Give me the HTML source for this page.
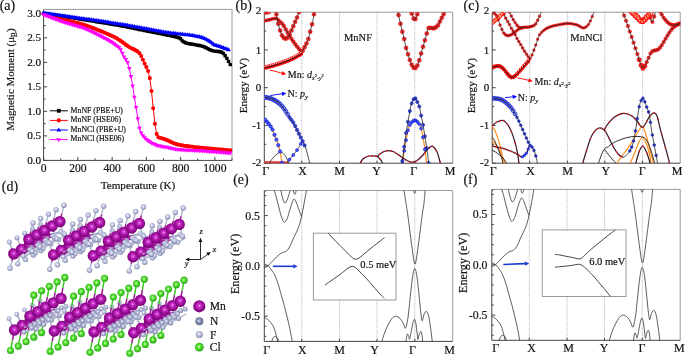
<!DOCTYPE html><html><head><meta charset="utf-8"><style>html,body{margin:0;padding:0;background:#fff;overflow:hidden}svg{display:block;will-change:transform}text{font-family:"Liberation Serif",serif;fill:#111;stroke:#111;stroke-width:0.18px}</style></head><body>
<svg width="685" height="360" viewBox="0 0 685 360">
<defs><radialGradient id="gMn" cx="0.5" cy="0.45" r="0.6"><stop offset="0" stop-color="#ffd2ff"/><stop offset="0.14" stop-color="#d644d4"/><stop offset="0.5" stop-color="#a612a4"/><stop offset="0.85" stop-color="#7a0678"/><stop offset="1" stop-color="#520050"/></radialGradient><radialGradient id="gF" cx="0.45" cy="0.42" r="0.62"><stop offset="0" stop-color="#ffffff"/><stop offset="0.25" stop-color="#d2d6ec"/><stop offset="0.75" stop-color="#9aa1c4"/><stop offset="1" stop-color="#6a7196"/></radialGradient><radialGradient id="gN" cx="0.45" cy="0.45" r="0.62"><stop offset="0" stop-color="#dfe2f0"/><stop offset="0.35" stop-color="#9096b8"/><stop offset="1" stop-color="#50567c"/></radialGradient><radialGradient id="gN2" cx="0.45" cy="0.42" r="0.62"><stop offset="0" stop-color="#ffffff"/><stop offset="0.25" stop-color="#c8cce4"/><stop offset="0.75" stop-color="#9097bc"/><stop offset="1" stop-color="#646b92"/></radialGradient><radialGradient id="gCl" cx="0.45" cy="0.45" r="0.62"><stop offset="0" stop-color="#eaffe0"/><stop offset="0.3" stop-color="#5fe83a"/><stop offset="1" stop-color="#1e9a0e"/></radialGradient></defs>
<rect width="685" height="360" fill="#fff"/>
<g fill="none" stroke-width="1">
<path d="M43.6,9.4H232.0V160.4" stroke="#9a9a9a"/>
<path d="M43.6,9.4V160.4H232.0" stroke="#444"/>
<path d="M43.6,160.4v-3.5M60.73,160.4v-2M77.85,160.4v-3.5M94.98,160.4v-2M112.11,160.4v-3.5M129.24,160.4v-2M146.36,160.4v-3.5M163.49,160.4v-2M180.62,160.4v-3.5M197.75,160.4v-2M214.87,160.4v-3.5M232,160.4v-2M43.6,160.4h3.5M43.6,148.14h2M43.6,135.88h3.5M43.6,123.63h2M43.6,111.37h3.5M43.6,99.11h2M43.6,86.86h3.5M43.6,74.6h2M43.6,62.34h3.5M43.6,50.08h2M43.6,37.83h3.5M43.6,25.57h2M43.6,13.31h3.5" stroke="#444"/>
</g>
<polyline points="43.6,13.4 45.31,13.6 47.03,13.87 48.74,14.13 50.45,14.39 52.16,14.66 53.88,14.92 55.59,15.18 57.3,15.45 59.01,15.71 60.73,15.98 62.44,16.24 64.15,16.51 65.87,16.77 67.58,17.04 69.29,17.31 71,17.58 72.72,17.84 74.43,18.11 76.14,18.38 77.85,18.66 79.57,18.93 81.28,19.21 82.99,19.48 84.71,19.76 86.42,20.03 88.13,20.31 89.84,20.58 91.56,20.86 93.27,21.14 94.98,21.41 96.69,21.69 98.41,21.97 100.12,22.25 101.83,22.53 103.55,22.81 105.26,23.09 106.97,23.38 108.68,23.66 110.4,23.95 112.11,24.24 113.82,24.53 115.53,24.82 117.25,25.12 118.96,25.42 120.67,25.72 122.39,26.03 124.1,26.35 125.81,26.67 127.52,27 129.24,27.34 130.95,27.68 132.66,28.04 134.37,28.39 136.09,28.75 137.8,29.11 139.51,29.47 141.23,29.82 142.94,30.17 144.65,30.51 146.36,30.85 148.08,31.19 149.79,31.52 151.5,31.86 153.21,32.19 154.93,32.53 156.64,32.87 158.35,33.21 160.07,33.55 161.78,33.89 163.49,34.23 165.2,34.58 166.92,34.94 168.63,35.3 170.34,35.65 172.05,36.01 173.77,36.37 175.48,36.75 177.19,37.2 178.91,37.76 180.62,38.73 182.33,40.86 184.04,42.06 185.76,42.91 187.47,43.41 189.18,43.7 190.89,44.02 192.61,44.32 194.32,44.6 196.03,44.88 197.75,45.18 199.46,45.51 201.17,45.91 202.88,46.39 204.6,47.05 206.31,47.87 208.02,48.77 209.73,49.64 211.45,50.38 213.16,50.87 214.87,51.14 216.59,51.3 218.3,51.45 220.01,51.71 221.72,52.32 223.44,53.57 225.15,55.76 226.86,58.37 228.57,61.38 230.29,64.65" fill="none" stroke="#000000" stroke-width="1"/>
<path d="M41.9,11.7h3.4v3.4h-3.4zM43.61,11.9h3.4v3.4h-3.4zM45.33,12.17h3.4v3.4h-3.4zM47.04,12.43h3.4v3.4h-3.4zM48.75,12.69h3.4v3.4h-3.4zM50.46,12.96h3.4v3.4h-3.4zM52.18,13.22h3.4v3.4h-3.4zM53.89,13.48h3.4v3.4h-3.4zM55.6,13.75h3.4v3.4h-3.4zM57.31,14.01h3.4v3.4h-3.4zM59.03,14.28h3.4v3.4h-3.4zM60.74,14.54h3.4v3.4h-3.4zM62.45,14.81h3.4v3.4h-3.4zM64.17,15.07h3.4v3.4h-3.4zM65.88,15.34h3.4v3.4h-3.4zM67.59,15.61h3.4v3.4h-3.4zM69.3,15.88h3.4v3.4h-3.4zM71.02,16.14h3.4v3.4h-3.4zM72.73,16.41h3.4v3.4h-3.4zM74.44,16.68h3.4v3.4h-3.4zM76.15,16.96h3.4v3.4h-3.4zM77.87,17.23h3.4v3.4h-3.4zM79.58,17.51h3.4v3.4h-3.4zM81.29,17.78h3.4v3.4h-3.4zM83.01,18.06h3.4v3.4h-3.4zM84.72,18.33h3.4v3.4h-3.4zM86.43,18.61h3.4v3.4h-3.4zM88.14,18.88h3.4v3.4h-3.4zM89.86,19.16h3.4v3.4h-3.4zM91.57,19.44h3.4v3.4h-3.4zM93.28,19.71h3.4v3.4h-3.4zM94.99,19.99h3.4v3.4h-3.4zM96.71,20.27h3.4v3.4h-3.4zM98.42,20.55h3.4v3.4h-3.4zM100.13,20.83h3.4v3.4h-3.4zM101.85,21.11h3.4v3.4h-3.4zM103.56,21.39h3.4v3.4h-3.4zM105.27,21.68h3.4v3.4h-3.4zM106.98,21.96h3.4v3.4h-3.4zM108.7,22.25h3.4v3.4h-3.4zM110.41,22.54h3.4v3.4h-3.4zM112.12,22.83h3.4v3.4h-3.4zM113.83,23.12h3.4v3.4h-3.4zM115.55,23.42h3.4v3.4h-3.4zM117.26,23.72h3.4v3.4h-3.4zM118.97,24.02h3.4v3.4h-3.4zM120.69,24.33h3.4v3.4h-3.4zM122.4,24.65h3.4v3.4h-3.4zM124.11,24.97h3.4v3.4h-3.4zM125.82,25.3h3.4v3.4h-3.4zM127.54,25.64h3.4v3.4h-3.4zM129.25,25.98h3.4v3.4h-3.4zM130.96,26.34h3.4v3.4h-3.4zM132.67,26.69h3.4v3.4h-3.4zM134.39,27.05h3.4v3.4h-3.4zM136.1,27.41h3.4v3.4h-3.4zM137.81,27.77h3.4v3.4h-3.4zM139.53,28.12h3.4v3.4h-3.4zM141.24,28.47h3.4v3.4h-3.4zM142.95,28.81h3.4v3.4h-3.4zM144.66,29.15h3.4v3.4h-3.4zM146.38,29.49h3.4v3.4h-3.4zM148.09,29.82h3.4v3.4h-3.4zM149.8,30.16h3.4v3.4h-3.4zM151.51,30.49h3.4v3.4h-3.4zM153.23,30.83h3.4v3.4h-3.4zM154.94,31.17h3.4v3.4h-3.4zM156.65,31.51h3.4v3.4h-3.4zM158.37,31.85h3.4v3.4h-3.4zM160.08,32.19h3.4v3.4h-3.4zM161.79,32.53h3.4v3.4h-3.4zM163.5,32.88h3.4v3.4h-3.4zM165.22,33.24h3.4v3.4h-3.4zM166.93,33.6h3.4v3.4h-3.4zM168.64,33.95h3.4v3.4h-3.4zM170.35,34.31h3.4v3.4h-3.4zM172.07,34.67h3.4v3.4h-3.4zM173.78,35.05h3.4v3.4h-3.4zM175.49,35.5h3.4v3.4h-3.4zM177.21,36.06h3.4v3.4h-3.4zM178.92,37.03h3.4v3.4h-3.4zM180.63,39.16h3.4v3.4h-3.4zM182.34,40.36h3.4v3.4h-3.4zM184.06,41.21h3.4v3.4h-3.4zM185.77,41.71h3.4v3.4h-3.4zM187.48,42h3.4v3.4h-3.4zM189.19,42.32h3.4v3.4h-3.4zM190.91,42.62h3.4v3.4h-3.4zM192.62,42.9h3.4v3.4h-3.4zM194.33,43.18h3.4v3.4h-3.4zM196.05,43.48h3.4v3.4h-3.4zM197.76,43.81h3.4v3.4h-3.4zM199.47,44.21h3.4v3.4h-3.4zM201.18,44.69h3.4v3.4h-3.4zM202.9,45.35h3.4v3.4h-3.4zM204.61,46.17h3.4v3.4h-3.4zM206.32,47.07h3.4v3.4h-3.4zM208.03,47.94h3.4v3.4h-3.4zM209.75,48.68h3.4v3.4h-3.4zM211.46,49.17h3.4v3.4h-3.4zM213.17,49.44h3.4v3.4h-3.4zM214.89,49.6h3.4v3.4h-3.4zM216.6,49.75h3.4v3.4h-3.4zM218.31,50.01h3.4v3.4h-3.4zM220.02,50.62h3.4v3.4h-3.4zM221.74,51.87h3.4v3.4h-3.4zM223.45,54.06h3.4v3.4h-3.4zM225.16,56.67h3.4v3.4h-3.4zM226.87,59.68h3.4v3.4h-3.4zM228.59,62.95h3.4v3.4h-3.4z" fill="#000000"/>
<polyline points="43.6,13.8 45.31,14.21 47.03,14.75 48.74,15.29 50.45,15.83 52.16,16.37 53.88,16.9 55.59,17.43 57.3,17.94 59.01,18.45 60.73,18.94 62.44,19.42 64.15,19.87 65.87,20.3 67.58,20.71 69.29,21.11 71,21.51 72.72,21.91 74.43,22.31 76.14,22.72 77.85,23.15 79.57,23.59 81.28,24.06 82.99,24.56 84.71,25.1 86.42,25.67 88.13,26.26 89.84,26.88 91.56,27.51 93.27,28.16 94.98,28.82 96.69,29.49 98.41,30.18 100.12,30.87 101.83,31.57 103.55,32.28 105.26,33 106.97,33.71 108.68,34.44 110.4,35.18 112.11,35.95 113.82,36.78 115.53,37.69 117.25,38.67 118.96,39.72 120.67,40.88 122.39,42.1 124.1,43.36 125.81,44.63 127.52,45.87 129.24,47.01 130.95,48 132.66,48.85 134.37,49.66 136.09,50.6 137.8,51.6 139.51,53.2 141.23,55.99 142.94,59.75 144.65,63.58 146.36,67.08 148.08,70.97 149.79,78.15 151.5,91.03 153.21,108.2 154.93,123.71 156.64,133.89 158.35,137.19 160.07,137.86 161.78,138.23 163.49,138.8 165.2,139.42 166.92,140.09 168.63,140.83 170.34,141.66 172.05,142.47 173.77,143.21 175.48,143.83 177.19,144.33 178.91,144.74 180.62,145.1 182.33,145.41 184.04,145.68 185.76,145.93 187.47,146.17 189.18,146.39 190.89,146.61 192.61,146.82 194.32,147.02 196.03,147.21 197.75,147.39 199.46,147.56 201.17,147.74 202.88,147.91 204.6,148.07 206.31,148.24 208.02,148.4 209.73,148.56 211.45,148.72 213.16,148.88 214.87,149.04 216.59,149.2 218.3,149.35 220.01,149.5 221.72,149.65 223.44,149.79 225.15,149.93 226.86,150.07 228.57,150.2 230.29,150.34" fill="none" stroke="#ff0000" stroke-width="1"/>
<path d="M41.55,13.8a2.05,2.05 0 1,0 4.1,0a2.05,2.05 0 1,0 -4.1,0zM43.26,14.21a2.05,2.05 0 1,0 4.1,0a2.05,2.05 0 1,0 -4.1,0zM44.98,14.75a2.05,2.05 0 1,0 4.1,0a2.05,2.05 0 1,0 -4.1,0zM46.69,15.29a2.05,2.05 0 1,0 4.1,0a2.05,2.05 0 1,0 -4.1,0zM48.4,15.83a2.05,2.05 0 1,0 4.1,0a2.05,2.05 0 1,0 -4.1,0zM50.11,16.37a2.05,2.05 0 1,0 4.1,0a2.05,2.05 0 1,0 -4.1,0zM51.83,16.9a2.05,2.05 0 1,0 4.1,0a2.05,2.05 0 1,0 -4.1,0zM53.54,17.43a2.05,2.05 0 1,0 4.1,0a2.05,2.05 0 1,0 -4.1,0zM55.25,17.94a2.05,2.05 0 1,0 4.1,0a2.05,2.05 0 1,0 -4.1,0zM56.96,18.45a2.05,2.05 0 1,0 4.1,0a2.05,2.05 0 1,0 -4.1,0zM58.68,18.94a2.05,2.05 0 1,0 4.1,0a2.05,2.05 0 1,0 -4.1,0zM60.39,19.42a2.05,2.05 0 1,0 4.1,0a2.05,2.05 0 1,0 -4.1,0zM62.1,19.87a2.05,2.05 0 1,0 4.1,0a2.05,2.05 0 1,0 -4.1,0zM63.82,20.3a2.05,2.05 0 1,0 4.1,0a2.05,2.05 0 1,0 -4.1,0zM65.53,20.71a2.05,2.05 0 1,0 4.1,0a2.05,2.05 0 1,0 -4.1,0zM67.24,21.11a2.05,2.05 0 1,0 4.1,0a2.05,2.05 0 1,0 -4.1,0zM68.95,21.51a2.05,2.05 0 1,0 4.1,0a2.05,2.05 0 1,0 -4.1,0zM70.67,21.91a2.05,2.05 0 1,0 4.1,0a2.05,2.05 0 1,0 -4.1,0zM72.38,22.31a2.05,2.05 0 1,0 4.1,0a2.05,2.05 0 1,0 -4.1,0zM74.09,22.72a2.05,2.05 0 1,0 4.1,0a2.05,2.05 0 1,0 -4.1,0zM75.8,23.15a2.05,2.05 0 1,0 4.1,0a2.05,2.05 0 1,0 -4.1,0zM77.52,23.59a2.05,2.05 0 1,0 4.1,0a2.05,2.05 0 1,0 -4.1,0zM79.23,24.06a2.05,2.05 0 1,0 4.1,0a2.05,2.05 0 1,0 -4.1,0zM80.94,24.56a2.05,2.05 0 1,0 4.1,0a2.05,2.05 0 1,0 -4.1,0zM82.66,25.1a2.05,2.05 0 1,0 4.1,0a2.05,2.05 0 1,0 -4.1,0zM84.37,25.67a2.05,2.05 0 1,0 4.1,0a2.05,2.05 0 1,0 -4.1,0zM86.08,26.26a2.05,2.05 0 1,0 4.1,0a2.05,2.05 0 1,0 -4.1,0zM87.79,26.88a2.05,2.05 0 1,0 4.1,0a2.05,2.05 0 1,0 -4.1,0zM89.51,27.51a2.05,2.05 0 1,0 4.1,0a2.05,2.05 0 1,0 -4.1,0zM91.22,28.16a2.05,2.05 0 1,0 4.1,0a2.05,2.05 0 1,0 -4.1,0zM92.93,28.82a2.05,2.05 0 1,0 4.1,0a2.05,2.05 0 1,0 -4.1,0zM94.64,29.49a2.05,2.05 0 1,0 4.1,0a2.05,2.05 0 1,0 -4.1,0zM96.36,30.18a2.05,2.05 0 1,0 4.1,0a2.05,2.05 0 1,0 -4.1,0zM98.07,30.87a2.05,2.05 0 1,0 4.1,0a2.05,2.05 0 1,0 -4.1,0zM99.78,31.57a2.05,2.05 0 1,0 4.1,0a2.05,2.05 0 1,0 -4.1,0zM101.5,32.28a2.05,2.05 0 1,0 4.1,0a2.05,2.05 0 1,0 -4.1,0zM103.21,33a2.05,2.05 0 1,0 4.1,0a2.05,2.05 0 1,0 -4.1,0zM104.92,33.71a2.05,2.05 0 1,0 4.1,0a2.05,2.05 0 1,0 -4.1,0zM106.63,34.44a2.05,2.05 0 1,0 4.1,0a2.05,2.05 0 1,0 -4.1,0zM108.35,35.18a2.05,2.05 0 1,0 4.1,0a2.05,2.05 0 1,0 -4.1,0zM110.06,35.95a2.05,2.05 0 1,0 4.1,0a2.05,2.05 0 1,0 -4.1,0zM111.77,36.78a2.05,2.05 0 1,0 4.1,0a2.05,2.05 0 1,0 -4.1,0zM113.48,37.69a2.05,2.05 0 1,0 4.1,0a2.05,2.05 0 1,0 -4.1,0zM115.2,38.67a2.05,2.05 0 1,0 4.1,0a2.05,2.05 0 1,0 -4.1,0zM116.91,39.72a2.05,2.05 0 1,0 4.1,0a2.05,2.05 0 1,0 -4.1,0zM118.62,40.88a2.05,2.05 0 1,0 4.1,0a2.05,2.05 0 1,0 -4.1,0zM120.34,42.1a2.05,2.05 0 1,0 4.1,0a2.05,2.05 0 1,0 -4.1,0zM122.05,43.36a2.05,2.05 0 1,0 4.1,0a2.05,2.05 0 1,0 -4.1,0zM123.76,44.63a2.05,2.05 0 1,0 4.1,0a2.05,2.05 0 1,0 -4.1,0zM125.47,45.87a2.05,2.05 0 1,0 4.1,0a2.05,2.05 0 1,0 -4.1,0zM127.19,47.01a2.05,2.05 0 1,0 4.1,0a2.05,2.05 0 1,0 -4.1,0zM128.9,48a2.05,2.05 0 1,0 4.1,0a2.05,2.05 0 1,0 -4.1,0zM130.61,48.85a2.05,2.05 0 1,0 4.1,0a2.05,2.05 0 1,0 -4.1,0zM132.32,49.66a2.05,2.05 0 1,0 4.1,0a2.05,2.05 0 1,0 -4.1,0zM134.04,50.6a2.05,2.05 0 1,0 4.1,0a2.05,2.05 0 1,0 -4.1,0zM135.75,51.6a2.05,2.05 0 1,0 4.1,0a2.05,2.05 0 1,0 -4.1,0zM137.46,53.2a2.05,2.05 0 1,0 4.1,0a2.05,2.05 0 1,0 -4.1,0zM139.18,55.99a2.05,2.05 0 1,0 4.1,0a2.05,2.05 0 1,0 -4.1,0zM140.89,59.75a2.05,2.05 0 1,0 4.1,0a2.05,2.05 0 1,0 -4.1,0zM142.6,63.58a2.05,2.05 0 1,0 4.1,0a2.05,2.05 0 1,0 -4.1,0zM144.31,67.08a2.05,2.05 0 1,0 4.1,0a2.05,2.05 0 1,0 -4.1,0zM146.03,70.97a2.05,2.05 0 1,0 4.1,0a2.05,2.05 0 1,0 -4.1,0zM147.74,78.15a2.05,2.05 0 1,0 4.1,0a2.05,2.05 0 1,0 -4.1,0zM149.45,91.03a2.05,2.05 0 1,0 4.1,0a2.05,2.05 0 1,0 -4.1,0zM151.16,108.2a2.05,2.05 0 1,0 4.1,0a2.05,2.05 0 1,0 -4.1,0zM152.88,123.71a2.05,2.05 0 1,0 4.1,0a2.05,2.05 0 1,0 -4.1,0zM154.59,133.89a2.05,2.05 0 1,0 4.1,0a2.05,2.05 0 1,0 -4.1,0zM156.3,137.19a2.05,2.05 0 1,0 4.1,0a2.05,2.05 0 1,0 -4.1,0zM158.02,137.86a2.05,2.05 0 1,0 4.1,0a2.05,2.05 0 1,0 -4.1,0zM159.73,138.23a2.05,2.05 0 1,0 4.1,0a2.05,2.05 0 1,0 -4.1,0zM161.44,138.8a2.05,2.05 0 1,0 4.1,0a2.05,2.05 0 1,0 -4.1,0zM163.15,139.42a2.05,2.05 0 1,0 4.1,0a2.05,2.05 0 1,0 -4.1,0zM164.87,140.09a2.05,2.05 0 1,0 4.1,0a2.05,2.05 0 1,0 -4.1,0zM166.58,140.83a2.05,2.05 0 1,0 4.1,0a2.05,2.05 0 1,0 -4.1,0zM168.29,141.66a2.05,2.05 0 1,0 4.1,0a2.05,2.05 0 1,0 -4.1,0zM170,142.47a2.05,2.05 0 1,0 4.1,0a2.05,2.05 0 1,0 -4.1,0zM171.72,143.21a2.05,2.05 0 1,0 4.1,0a2.05,2.05 0 1,0 -4.1,0zM173.43,143.83a2.05,2.05 0 1,0 4.1,0a2.05,2.05 0 1,0 -4.1,0zM175.14,144.33a2.05,2.05 0 1,0 4.1,0a2.05,2.05 0 1,0 -4.1,0zM176.86,144.74a2.05,2.05 0 1,0 4.1,0a2.05,2.05 0 1,0 -4.1,0zM178.57,145.1a2.05,2.05 0 1,0 4.1,0a2.05,2.05 0 1,0 -4.1,0zM180.28,145.41a2.05,2.05 0 1,0 4.1,0a2.05,2.05 0 1,0 -4.1,0zM181.99,145.68a2.05,2.05 0 1,0 4.1,0a2.05,2.05 0 1,0 -4.1,0zM183.71,145.93a2.05,2.05 0 1,0 4.1,0a2.05,2.05 0 1,0 -4.1,0zM185.42,146.17a2.05,2.05 0 1,0 4.1,0a2.05,2.05 0 1,0 -4.1,0zM187.13,146.39a2.05,2.05 0 1,0 4.1,0a2.05,2.05 0 1,0 -4.1,0zM188.84,146.61a2.05,2.05 0 1,0 4.1,0a2.05,2.05 0 1,0 -4.1,0zM190.56,146.82a2.05,2.05 0 1,0 4.1,0a2.05,2.05 0 1,0 -4.1,0zM192.27,147.02a2.05,2.05 0 1,0 4.1,0a2.05,2.05 0 1,0 -4.1,0zM193.98,147.21a2.05,2.05 0 1,0 4.1,0a2.05,2.05 0 1,0 -4.1,0zM195.7,147.39a2.05,2.05 0 1,0 4.1,0a2.05,2.05 0 1,0 -4.1,0zM197.41,147.56a2.05,2.05 0 1,0 4.1,0a2.05,2.05 0 1,0 -4.1,0zM199.12,147.74a2.05,2.05 0 1,0 4.1,0a2.05,2.05 0 1,0 -4.1,0zM200.83,147.91a2.05,2.05 0 1,0 4.1,0a2.05,2.05 0 1,0 -4.1,0zM202.55,148.07a2.05,2.05 0 1,0 4.1,0a2.05,2.05 0 1,0 -4.1,0zM204.26,148.24a2.05,2.05 0 1,0 4.1,0a2.05,2.05 0 1,0 -4.1,0zM205.97,148.4a2.05,2.05 0 1,0 4.1,0a2.05,2.05 0 1,0 -4.1,0zM207.68,148.56a2.05,2.05 0 1,0 4.1,0a2.05,2.05 0 1,0 -4.1,0zM209.4,148.72a2.05,2.05 0 1,0 4.1,0a2.05,2.05 0 1,0 -4.1,0zM211.11,148.88a2.05,2.05 0 1,0 4.1,0a2.05,2.05 0 1,0 -4.1,0zM212.82,149.04a2.05,2.05 0 1,0 4.1,0a2.05,2.05 0 1,0 -4.1,0zM214.54,149.2a2.05,2.05 0 1,0 4.1,0a2.05,2.05 0 1,0 -4.1,0zM216.25,149.35a2.05,2.05 0 1,0 4.1,0a2.05,2.05 0 1,0 -4.1,0zM217.96,149.5a2.05,2.05 0 1,0 4.1,0a2.05,2.05 0 1,0 -4.1,0zM219.67,149.65a2.05,2.05 0 1,0 4.1,0a2.05,2.05 0 1,0 -4.1,0zM221.39,149.79a2.05,2.05 0 1,0 4.1,0a2.05,2.05 0 1,0 -4.1,0zM223.1,149.93a2.05,2.05 0 1,0 4.1,0a2.05,2.05 0 1,0 -4.1,0zM224.81,150.07a2.05,2.05 0 1,0 4.1,0a2.05,2.05 0 1,0 -4.1,0zM226.52,150.2a2.05,2.05 0 1,0 4.1,0a2.05,2.05 0 1,0 -4.1,0zM228.24,150.34a2.05,2.05 0 1,0 4.1,0a2.05,2.05 0 1,0 -4.1,0z" fill="#ff0000"/>
<polyline points="43.6,13.2 45.31,13.39 47.03,13.63 48.74,13.87 50.45,14.11 52.16,14.35 53.88,14.59 55.59,14.83 57.3,15.07 59.01,15.31 60.73,15.55 62.44,15.8 64.15,16.04 65.87,16.28 67.58,16.52 69.29,16.77 71,17.01 72.72,17.25 74.43,17.5 76.14,17.74 77.85,17.99 79.57,18.24 81.28,18.49 82.99,18.73 84.71,18.98 86.42,19.23 88.13,19.47 89.84,19.72 91.56,19.97 93.27,20.22 94.98,20.46 96.69,20.71 98.41,20.96 100.12,21.21 101.83,21.46 103.55,21.71 105.26,21.96 106.97,22.22 108.68,22.47 110.4,22.73 112.11,22.98 113.82,23.24 115.53,23.5 117.25,23.77 118.96,24.04 120.67,24.31 122.39,24.58 124.1,24.87 125.81,25.16 127.52,25.45 129.24,25.75 130.95,26.06 132.66,26.38 134.37,26.69 136.09,27.02 137.8,27.34 139.51,27.66 141.23,27.97 142.94,28.28 144.65,28.59 146.36,28.9 148.08,29.22 149.79,29.54 151.5,29.86 153.21,30.18 154.93,30.5 156.64,30.82 158.35,31.13 160.07,31.43 161.78,31.73 163.49,32.02 165.2,32.29 166.92,32.56 168.63,32.8 170.34,33.03 172.05,33.25 173.77,33.45 175.48,33.65 177.19,33.84 178.91,34.02 180.62,34.21 182.33,34.39 184.04,34.57 185.76,34.76 187.47,34.96 189.18,35.18 190.89,35.41 192.61,35.67 194.32,35.94 196.03,36.23 197.75,36.55 199.46,36.93 201.17,37.37 202.88,37.89 204.6,38.55 206.31,39.38 208.02,40.37 209.73,41.42 211.45,42.66 213.16,44.06 214.87,45.02 216.59,45.67 218.3,46.2 220.01,46.71 221.72,47.28 223.44,47.89 225.15,48.51 226.86,49.13 228.57,49.75" fill="none" stroke="#0000ff" stroke-width="1"/>
<path d="M43.6,10.6l2.35,4h-4.7zM45.31,10.79l2.35,4h-4.7zM47.03,11.03l2.35,4h-4.7zM48.74,11.27l2.35,4h-4.7zM50.45,11.51l2.35,4h-4.7zM52.16,11.75l2.35,4h-4.7zM53.88,11.99l2.35,4h-4.7zM55.59,12.23l2.35,4h-4.7zM57.3,12.47l2.35,4h-4.7zM59.01,12.71l2.35,4h-4.7zM60.73,12.95l2.35,4h-4.7zM62.44,13.2l2.35,4h-4.7zM64.15,13.44l2.35,4h-4.7zM65.87,13.68l2.35,4h-4.7zM67.58,13.92l2.35,4h-4.7zM69.29,14.17l2.35,4h-4.7zM71,14.41l2.35,4h-4.7zM72.72,14.65l2.35,4h-4.7zM74.43,14.9l2.35,4h-4.7zM76.14,15.14l2.35,4h-4.7zM77.85,15.39l2.35,4h-4.7zM79.57,15.64l2.35,4h-4.7zM81.28,15.89l2.35,4h-4.7zM82.99,16.13l2.35,4h-4.7zM84.71,16.38l2.35,4h-4.7zM86.42,16.63l2.35,4h-4.7zM88.13,16.87l2.35,4h-4.7zM89.84,17.12l2.35,4h-4.7zM91.56,17.37l2.35,4h-4.7zM93.27,17.62l2.35,4h-4.7zM94.98,17.86l2.35,4h-4.7zM96.69,18.11l2.35,4h-4.7zM98.41,18.36l2.35,4h-4.7zM100.12,18.61l2.35,4h-4.7zM101.83,18.86l2.35,4h-4.7zM103.55,19.11l2.35,4h-4.7zM105.26,19.36l2.35,4h-4.7zM106.97,19.62l2.35,4h-4.7zM108.68,19.87l2.35,4h-4.7zM110.4,20.13l2.35,4h-4.7zM112.11,20.38l2.35,4h-4.7zM113.82,20.64l2.35,4h-4.7zM115.53,20.9l2.35,4h-4.7zM117.25,21.17l2.35,4h-4.7zM118.96,21.44l2.35,4h-4.7zM120.67,21.71l2.35,4h-4.7zM122.39,21.98l2.35,4h-4.7zM124.1,22.27l2.35,4h-4.7zM125.81,22.56l2.35,4h-4.7zM127.52,22.85l2.35,4h-4.7zM129.24,23.15l2.35,4h-4.7zM130.95,23.46l2.35,4h-4.7zM132.66,23.78l2.35,4h-4.7zM134.37,24.09l2.35,4h-4.7zM136.09,24.42l2.35,4h-4.7zM137.8,24.74l2.35,4h-4.7zM139.51,25.06l2.35,4h-4.7zM141.23,25.37l2.35,4h-4.7zM142.94,25.68l2.35,4h-4.7zM144.65,25.99l2.35,4h-4.7zM146.36,26.3l2.35,4h-4.7zM148.08,26.62l2.35,4h-4.7zM149.79,26.94l2.35,4h-4.7zM151.5,27.26l2.35,4h-4.7zM153.21,27.58l2.35,4h-4.7zM154.93,27.9l2.35,4h-4.7zM156.64,28.22l2.35,4h-4.7zM158.35,28.53l2.35,4h-4.7zM160.07,28.83l2.35,4h-4.7zM161.78,29.13l2.35,4h-4.7zM163.49,29.42l2.35,4h-4.7zM165.2,29.69l2.35,4h-4.7zM166.92,29.96l2.35,4h-4.7zM168.63,30.2l2.35,4h-4.7zM170.34,30.43l2.35,4h-4.7zM172.05,30.65l2.35,4h-4.7zM173.77,30.85l2.35,4h-4.7zM175.48,31.05l2.35,4h-4.7zM177.19,31.24l2.35,4h-4.7zM178.91,31.42l2.35,4h-4.7zM180.62,31.61l2.35,4h-4.7zM182.33,31.79l2.35,4h-4.7zM184.04,31.97l2.35,4h-4.7zM185.76,32.16l2.35,4h-4.7zM187.47,32.36l2.35,4h-4.7zM189.18,32.58l2.35,4h-4.7zM190.89,32.81l2.35,4h-4.7zM192.61,33.07l2.35,4h-4.7zM194.32,33.34l2.35,4h-4.7zM196.03,33.63l2.35,4h-4.7zM197.75,33.95l2.35,4h-4.7zM199.46,34.33l2.35,4h-4.7zM201.17,34.77l2.35,4h-4.7zM202.88,35.29l2.35,4h-4.7zM204.6,35.95l2.35,4h-4.7zM206.31,36.78l2.35,4h-4.7zM208.02,37.77l2.35,4h-4.7zM209.73,38.82l2.35,4h-4.7zM211.45,40.06l2.35,4h-4.7zM213.16,41.46l2.35,4h-4.7zM214.87,42.42l2.35,4h-4.7zM216.59,43.07l2.35,4h-4.7zM218.3,43.6l2.35,4h-4.7zM220.01,44.11l2.35,4h-4.7zM221.72,44.68l2.35,4h-4.7zM223.44,45.29l2.35,4h-4.7zM225.15,45.91l2.35,4h-4.7zM226.86,46.53l2.35,4h-4.7zM228.57,47.15l2.35,4h-4.7z" fill="#0000ff"/>
<polyline points="43.6,14.6 45.31,15.11 47.03,15.78 48.74,16.46 50.45,17.13 52.16,17.8 53.88,18.46 55.59,19.11 57.3,19.75 59.01,20.38 60.73,20.99 62.44,21.58 64.15,22.13 65.87,22.65 67.58,23.14 69.29,23.62 71,24.09 72.72,24.56 74.43,25.04 76.14,25.53 77.85,26.04 79.57,26.58 81.28,27.15 82.99,27.76 84.71,28.42 86.42,29.13 88.13,29.88 89.84,30.66 91.56,31.46 93.27,32.29 94.98,33.13 96.69,33.98 98.41,34.85 100.12,35.74 101.83,36.63 103.55,37.53 105.26,38.44 106.97,39.34 108.68,40.28 110.4,41.28 112.11,42.39 113.82,43.63 115.53,44.87 117.25,46.03 118.96,47.45 120.67,49.76 122.39,53.21 124.1,56.93 125.81,59.45 127.52,62.45 129.24,68.28 130.95,76.4 132.66,85.87 134.37,97.04 136.09,107.29 137.8,118.75 139.51,128.05 141.23,132.97 142.94,135.69 144.65,137.76 146.36,139.3 148.08,140.59 149.79,141.76 151.5,142.8 153.21,143.72 154.93,144.51 156.64,145.14 158.35,145.62 160.07,146.01 161.78,146.33 163.49,146.63 165.2,146.93 166.92,147.24 168.63,147.61 170.34,148.01 172.05,148.41 173.77,148.77 175.48,149.06 177.19,149.3 178.91,149.49 180.62,149.64 182.33,149.77 184.04,149.87 185.76,149.96 187.47,150.05 189.18,150.12 190.89,150.2 192.61,150.27 194.32,150.35 196.03,150.43 197.75,150.52 199.46,150.61 201.17,150.71 202.88,150.82 204.6,150.94 206.31,151.06 208.02,151.19 209.73,151.32 211.45,151.45 213.16,151.58 214.87,151.71 216.59,151.85 218.3,151.98 220.01,152.12 221.72,152.26 223.44,152.39 225.15,152.53 226.86,152.67 228.57,152.81 230.29,152.94" fill="none" stroke="#ff00ff" stroke-width="1"/>
<path d="M43.6,17.2l2.35,-4h-4.7zM45.31,17.71l2.35,-4h-4.7zM47.03,18.38l2.35,-4h-4.7zM48.74,19.06l2.35,-4h-4.7zM50.45,19.73l2.35,-4h-4.7zM52.16,20.4l2.35,-4h-4.7zM53.88,21.06l2.35,-4h-4.7zM55.59,21.71l2.35,-4h-4.7zM57.3,22.35l2.35,-4h-4.7zM59.01,22.98l2.35,-4h-4.7zM60.73,23.59l2.35,-4h-4.7zM62.44,24.18l2.35,-4h-4.7zM64.15,24.73l2.35,-4h-4.7zM65.87,25.25l2.35,-4h-4.7zM67.58,25.74l2.35,-4h-4.7zM69.29,26.22l2.35,-4h-4.7zM71,26.69l2.35,-4h-4.7zM72.72,27.16l2.35,-4h-4.7zM74.43,27.64l2.35,-4h-4.7zM76.14,28.13l2.35,-4h-4.7zM77.85,28.64l2.35,-4h-4.7zM79.57,29.18l2.35,-4h-4.7zM81.28,29.75l2.35,-4h-4.7zM82.99,30.36l2.35,-4h-4.7zM84.71,31.02l2.35,-4h-4.7zM86.42,31.73l2.35,-4h-4.7zM88.13,32.48l2.35,-4h-4.7zM89.84,33.26l2.35,-4h-4.7zM91.56,34.06l2.35,-4h-4.7zM93.27,34.89l2.35,-4h-4.7zM94.98,35.73l2.35,-4h-4.7zM96.69,36.58l2.35,-4h-4.7zM98.41,37.45l2.35,-4h-4.7zM100.12,38.34l2.35,-4h-4.7zM101.83,39.23l2.35,-4h-4.7zM103.55,40.13l2.35,-4h-4.7zM105.26,41.04l2.35,-4h-4.7zM106.97,41.94l2.35,-4h-4.7zM108.68,42.88l2.35,-4h-4.7zM110.4,43.88l2.35,-4h-4.7zM112.11,44.99l2.35,-4h-4.7zM113.82,46.23l2.35,-4h-4.7zM115.53,47.47l2.35,-4h-4.7zM117.25,48.63l2.35,-4h-4.7zM118.96,50.05l2.35,-4h-4.7zM120.67,52.36l2.35,-4h-4.7zM122.39,55.81l2.35,-4h-4.7zM124.1,59.53l2.35,-4h-4.7zM125.81,62.05l2.35,-4h-4.7zM127.52,65.05l2.35,-4h-4.7zM129.24,70.88l2.35,-4h-4.7zM130.95,79l2.35,-4h-4.7zM132.66,88.47l2.35,-4h-4.7zM134.37,99.64l2.35,-4h-4.7zM136.09,109.89l2.35,-4h-4.7zM137.8,121.35l2.35,-4h-4.7zM139.51,130.65l2.35,-4h-4.7zM141.23,135.57l2.35,-4h-4.7zM142.94,138.29l2.35,-4h-4.7zM144.65,140.36l2.35,-4h-4.7zM146.36,141.9l2.35,-4h-4.7zM148.08,143.19l2.35,-4h-4.7zM149.79,144.36l2.35,-4h-4.7zM151.5,145.4l2.35,-4h-4.7zM153.21,146.32l2.35,-4h-4.7zM154.93,147.11l2.35,-4h-4.7zM156.64,147.74l2.35,-4h-4.7zM158.35,148.22l2.35,-4h-4.7zM160.07,148.61l2.35,-4h-4.7zM161.78,148.93l2.35,-4h-4.7zM163.49,149.23l2.35,-4h-4.7zM165.2,149.53l2.35,-4h-4.7zM166.92,149.84l2.35,-4h-4.7zM168.63,150.21l2.35,-4h-4.7zM170.34,150.61l2.35,-4h-4.7zM172.05,151.01l2.35,-4h-4.7zM173.77,151.37l2.35,-4h-4.7zM175.48,151.66l2.35,-4h-4.7zM177.19,151.9l2.35,-4h-4.7zM178.91,152.09l2.35,-4h-4.7zM180.62,152.24l2.35,-4h-4.7zM182.33,152.37l2.35,-4h-4.7zM184.04,152.47l2.35,-4h-4.7zM185.76,152.56l2.35,-4h-4.7zM187.47,152.65l2.35,-4h-4.7zM189.18,152.72l2.35,-4h-4.7zM190.89,152.8l2.35,-4h-4.7zM192.61,152.87l2.35,-4h-4.7zM194.32,152.95l2.35,-4h-4.7zM196.03,153.03l2.35,-4h-4.7zM197.75,153.12l2.35,-4h-4.7zM199.46,153.21l2.35,-4h-4.7zM201.17,153.31l2.35,-4h-4.7zM202.88,153.42l2.35,-4h-4.7zM204.6,153.54l2.35,-4h-4.7zM206.31,153.66l2.35,-4h-4.7zM208.02,153.79l2.35,-4h-4.7zM209.73,153.92l2.35,-4h-4.7zM211.45,154.05l2.35,-4h-4.7zM213.16,154.18l2.35,-4h-4.7zM214.87,154.31l2.35,-4h-4.7zM216.59,154.45l2.35,-4h-4.7zM218.3,154.58l2.35,-4h-4.7zM220.01,154.72l2.35,-4h-4.7zM221.72,154.86l2.35,-4h-4.7zM223.44,154.99l2.35,-4h-4.7zM225.15,155.13l2.35,-4h-4.7zM226.86,155.27l2.35,-4h-4.7zM228.57,155.41l2.35,-4h-4.7zM230.29,155.54l2.35,-4h-4.7z" fill="#ff00ff"/>
<g font-size="11.2" text-anchor="end">
<text x="41.2" y="164">0.0</text>
<text x="41.2" y="139.48">0.5</text>
<text x="41.2" y="114.97">1.0</text>
<text x="41.2" y="90.45">1.5</text>
<text x="41.2" y="65.94">2.0</text>
<text x="41.2" y="41.43">2.5</text>
<text x="41.2" y="16.91">3.0</text>
</g>
<g font-size="11.2" text-anchor="middle">
<text x="43.6" y="171.7" font-size="11.6">0</text>
<text x="77.85" y="171.7" font-size="11.6">200</text>
<text x="112.11" y="171.7" font-size="11.6">400</text>
<text x="146.36" y="171.7" font-size="11.6">600</text>
<text x="180.62" y="171.7" font-size="11.6">800</text>
<text x="214.87" y="171.7" font-size="11.6">1000</text>
</g>
<text x="138" y="188.6" font-size="11.2" text-anchor="middle">Temperature (K)</text>
<text transform="translate(14.2,79.6) rotate(-90)" font-size="11" text-anchor="middle">Magnetic Moment (μ<tspan font-size="7.2" dy="3.2">B</tspan><tspan dy="-3.2">)</tspan></text>
<line x1="49.8" y1="110.8" x2="67.8" y2="110.8" stroke="#000" stroke-width="1"/>
<rect x="56.9" y="108.89999999999999" width="3.8" height="3.8" fill="#000"/>
<text x="70.6" y="112.6" font-size="7.8">MnNF (PBE+U)</text>
<line x1="49.8" y1="120.4" x2="67.8" y2="120.4" stroke="#f00" stroke-width="1"/>
<circle cx="58.8" cy="120.4" r="2.05" fill="#f00"/>
<text x="70.6" y="122.2" font-size="7.8">MnNF (HSE06)</text>
<line x1="49.8" y1="130.0" x2="67.8" y2="130.0" stroke="#00f" stroke-width="1"/>
<path d="M58.8,127.4l2.35,4h-4.7z" fill="#00f"/>
<text x="70.6" y="131.8" font-size="7.8">MnNCl (PBE+U)</text>
<line x1="49.8" y1="139.6" x2="67.8" y2="139.6" stroke="#f0f" stroke-width="1"/>
<path d="M58.8,142.2l2.35,-4h-4.7z" fill="#f0f"/>
<text x="70.6" y="141.4" font-size="7.8">MnNCl (HSE06)</text>
<g font-size="14">
<text x="-0.3" y="10">(a)</text>
<text x="235.6" y="10">(b)</text>
<text x="463.6" y="10">(c)</text>
<text x="1.8" y="190.6">(d)</text>
<text x="233.2" y="183.9">(e)</text>
<text x="463.4" y="183.9">(f)</text>
</g>
<defs><clipPath id="cb"><rect x="264.3" y="12.2" width="188.39999999999998" height="151.0"/></clipPath><clipPath id="cc"><rect x="492.2" y="12.2" width="188.00000000000006" height="151.0"/></clipPath><clipPath id="ce"><rect x="264.3" y="190.5" width="188.39999999999998" height="150.89999999999998"/></clipPath><clipPath id="cf"><rect x="491.8" y="189.3" width="188.40000000000003" height="151.09999999999997"/></clipPath></defs>
<path d="M264.3,12.2H452.7V163.2" fill="none" stroke="#9a9a9a" stroke-width="1"/>
<path d="M264.3,12.2V163.2H452.7" fill="none" stroke="#444" stroke-width="1"/>
<line x1="301.8" y1="12.2" x2="301.8" y2="163.2" stroke="#8a8a8a" stroke-width="0.7" stroke-dasharray="1,1.2"/>
<line x1="339.5" y1="12.2" x2="339.5" y2="163.2" stroke="#8a8a8a" stroke-width="0.7" stroke-dasharray="1,1.2"/>
<line x1="377.0" y1="12.2" x2="377.0" y2="163.2" stroke="#8a8a8a" stroke-width="0.7" stroke-dasharray="1,1.2"/>
<line x1="414.8" y1="12.2" x2="414.8" y2="163.2" stroke="#8a8a8a" stroke-width="0.7" stroke-dasharray="1,1.2"/>
<path d="M264.3,12.2h3.5M264.3,49.95h3.5M264.3,87.7h3.5M264.3,125.45h3.5M264.3,163.2h3.5M264.3,31.08h2M264.3,68.83h2M264.3,106.58h2M264.3,144.32h2" stroke="#444" stroke-width="1" fill="none"/>
<path d="M301.8,163.2v-2.5M339.5,163.2v-2.5M377.0,163.2v-2.5M414.8,163.2v-2.5" stroke="#444" stroke-width="1"/>
<path d="M492.2,12.2H680.2V163.2" fill="none" stroke="#9a9a9a" stroke-width="1"/>
<path d="M492.2,12.2V163.2H680.2" fill="none" stroke="#444" stroke-width="1"/>
<line x1="529.7" y1="12.2" x2="529.7" y2="163.2" stroke="#8a8a8a" stroke-width="0.7" stroke-dasharray="1,1.2"/>
<line x1="567.4" y1="12.2" x2="567.4" y2="163.2" stroke="#8a8a8a" stroke-width="0.7" stroke-dasharray="1,1.2"/>
<line x1="604.8" y1="12.2" x2="604.8" y2="163.2" stroke="#8a8a8a" stroke-width="0.7" stroke-dasharray="1,1.2"/>
<line x1="642.6" y1="12.2" x2="642.6" y2="163.2" stroke="#8a8a8a" stroke-width="0.7" stroke-dasharray="1,1.2"/>
<path d="M492.2,12.2h3.5M492.2,49.95h3.5M492.2,87.7h3.5M492.2,125.45h3.5M492.2,163.2h3.5M492.2,31.08h2M492.2,68.83h2M492.2,106.58h2M492.2,144.32h2" stroke="#444" stroke-width="1" fill="none"/>
<path d="M529.7,163.2v-2.5M567.4,163.2v-2.5M604.8,163.2v-2.5M642.6,163.2v-2.5" stroke="#444" stroke-width="1"/>
<g clip-path="url(#cb)">
<path d="M263.53,20.64a1.55,1.55 0 1,0 3.1,0a1.55,1.55 0 1,0 -3.1,0zM265.41,20.26a1.55,1.55 0 1,0 3.1,0a1.55,1.55 0 1,0 -3.1,0zM267.29,19.86a1.55,1.55 0 1,0 3.1,0a1.55,1.55 0 1,0 -3.1,0zM269.17,19.41a1.55,1.55 0 1,0 3.1,0a1.55,1.55 0 1,0 -3.1,0zM271.05,18.85a1.55,1.55 0 1,0 3.1,0a1.55,1.55 0 1,0 -3.1,0zM272.93,18.44a1.55,1.55 0 1,0 3.1,0a1.55,1.55 0 1,0 -3.1,0zM274.81,18.56a1.55,1.55 0 1,0 3.1,0a1.55,1.55 0 1,0 -3.1,0zM276.69,19.78a1.55,1.55 0 1,0 3.1,0a1.55,1.55 0 1,0 -3.1,0zM278.57,21.48a1.55,1.55 0 1,0 3.1,0a1.55,1.55 0 1,0 -3.1,0z" fill="#ff3030" stroke="#e00000" stroke-width="0.5"/>
<path d="M280.15,23.44a1.85,1.85 0 1,0 3.7,0a1.85,1.85 0 1,0 -3.7,0zM282.03,25.97a1.85,1.85 0 1,0 3.7,0a1.85,1.85 0 1,0 -3.7,0zM283.91,29.43a1.85,1.85 0 1,0 3.7,0a1.85,1.85 0 1,0 -3.7,0zM285.79,32.65a1.85,1.85 0 1,0 3.7,0a1.85,1.85 0 1,0 -3.7,0zM287.67,35.32a1.85,1.85 0 1,0 3.7,0a1.85,1.85 0 1,0 -3.7,0zM289.55,38.72a1.85,1.85 0 1,0 3.7,0a1.85,1.85 0 1,0 -3.7,0zM291.43,41.46a1.85,1.85 0 1,0 3.7,0a1.85,1.85 0 1,0 -3.7,0zM293.31,44.08a1.85,1.85 0 1,0 3.7,0a1.85,1.85 0 1,0 -3.7,0zM295.19,46.49a1.85,1.85 0 1,0 3.7,0a1.85,1.85 0 1,0 -3.7,0zM297.07,48.81a1.85,1.85 0 1,0 3.7,0a1.85,1.85 0 1,0 -3.7,0zM298.95,51.02a1.85,1.85 0 1,0 3.7,0a1.85,1.85 0 1,0 -3.7,0z" fill="#ff3030" stroke="#e00000" stroke-width="0.5"/>
<path d="M274.36,14.37a2.0,2.0 0 1,0 4.0,0a2.0,2.0 0 1,0 -4.0,0zM276.24,23.72a2.0,2.0 0 1,0 4.0,0a2.0,2.0 0 1,0 -4.0,0zM278.12,30.38a2.0,2.0 0 1,0 4.0,0a2.0,2.0 0 1,0 -4.0,0zM280,35.44a2.0,2.0 0 1,0 4.0,0a2.0,2.0 0 1,0 -4.0,0zM281.88,37.97a2.0,2.0 0 1,0 4.0,0a2.0,2.0 0 1,0 -4.0,0zM283.76,38.7a2.0,2.0 0 1,0 4.0,0a2.0,2.0 0 1,0 -4.0,0zM285.64,37.38a2.0,2.0 0 1,0 4.0,0a2.0,2.0 0 1,0 -4.0,0zM287.52,34.72a2.0,2.0 0 1,0 4.0,0a2.0,2.0 0 1,0 -4.0,0zM289.4,30.55a2.0,2.0 0 1,0 4.0,0a2.0,2.0 0 1,0 -4.0,0zM291.28,26.18a2.0,2.0 0 1,0 4.0,0a2.0,2.0 0 1,0 -4.0,0zM293.16,21.83a2.0,2.0 0 1,0 4.0,0a2.0,2.0 0 1,0 -4.0,0zM295.04,17.43a2.0,2.0 0 1,0 4.0,0a2.0,2.0 0 1,0 -4.0,0zM296.92,12.26a2.0,2.0 0 1,0 4.0,0a2.0,2.0 0 1,0 -4.0,0z" fill="#ff3030" stroke="#e00000" stroke-width="0.5"/>
<path d="M300.68,50.81a2.0,2.0 0 1,0 4.0,0a2.0,2.0 0 1,0 -4.0,0zM302.56,47.19a2.0,2.0 0 1,0 4.0,0a2.0,2.0 0 1,0 -4.0,0zM304.44,43.42a2.0,2.0 0 1,0 4.0,0a2.0,2.0 0 1,0 -4.0,0zM306.32,38.94a2.0,2.0 0 1,0 4.0,0a2.0,2.0 0 1,0 -4.0,0zM308.2,31.64a2.0,2.0 0 1,0 4.0,0a2.0,2.0 0 1,0 -4.0,0zM310.08,24.25a2.0,2.0 0 1,0 4.0,0a2.0,2.0 0 1,0 -4.0,0zM311.96,14.24a2.0,2.0 0 1,0 4.0,0a2.0,2.0 0 1,0 -4.0,0z" fill="#ff3030" stroke="#e00000" stroke-width="0.5"/>
<path d="M396.56,15.06a2.0,2.0 0 1,0 4.0,0a2.0,2.0 0 1,0 -4.0,0zM398.44,23.67a2.0,2.0 0 1,0 4.0,0a2.0,2.0 0 1,0 -4.0,0zM400.32,31.67a2.0,2.0 0 1,0 4.0,0a2.0,2.0 0 1,0 -4.0,0zM402.2,38.92a2.0,2.0 0 1,0 4.0,0a2.0,2.0 0 1,0 -4.0,0zM404.08,47.88a2.0,2.0 0 1,0 4.0,0a2.0,2.0 0 1,0 -4.0,0zM405.96,54.26a2.0,2.0 0 1,0 4.0,0a2.0,2.0 0 1,0 -4.0,0zM407.84,59.97a2.0,2.0 0 1,0 4.0,0a2.0,2.0 0 1,0 -4.0,0zM409.72,64.66a2.0,2.0 0 1,0 4.0,0a2.0,2.0 0 1,0 -4.0,0zM411.6,67.78a2.0,2.0 0 1,0 4.0,0a2.0,2.0 0 1,0 -4.0,0zM413.48,68.01a2.0,2.0 0 1,0 4.0,0a2.0,2.0 0 1,0 -4.0,0zM415.36,65.45a2.0,2.0 0 1,0 4.0,0a2.0,2.0 0 1,0 -4.0,0zM417.24,60.37a2.0,2.0 0 1,0 4.0,0a2.0,2.0 0 1,0 -4.0,0zM419.12,53.5a2.0,2.0 0 1,0 4.0,0a2.0,2.0 0 1,0 -4.0,0zM421,46.74a2.0,2.0 0 1,0 4.0,0a2.0,2.0 0 1,0 -4.0,0zM422.88,40.31a2.0,2.0 0 1,0 4.0,0a2.0,2.0 0 1,0 -4.0,0zM424.76,33.47a2.0,2.0 0 1,0 4.0,0a2.0,2.0 0 1,0 -4.0,0zM426.64,28.06a2.0,2.0 0 1,0 4.0,0a2.0,2.0 0 1,0 -4.0,0zM428.52,27.8a2.0,2.0 0 1,0 4.0,0a2.0,2.0 0 1,0 -4.0,0zM430.4,28.18a2.0,2.0 0 1,0 4.0,0a2.0,2.0 0 1,0 -4.0,0zM432.28,28.16a2.0,2.0 0 1,0 4.0,0a2.0,2.0 0 1,0 -4.0,0zM434.16,27.09a2.0,2.0 0 1,0 4.0,0a2.0,2.0 0 1,0 -4.0,0zM436.04,25.19a2.0,2.0 0 1,0 4.0,0a2.0,2.0 0 1,0 -4.0,0zM437.92,21.47a2.0,2.0 0 1,0 4.0,0a2.0,2.0 0 1,0 -4.0,0zM439.8,17.75a2.0,2.0 0 1,0 4.0,0a2.0,2.0 0 1,0 -4.0,0zM441.68,14.08a2.0,2.0 0 1,0 4.0,0a2.0,2.0 0 1,0 -4.0,0z" fill="#ff3030" stroke="#e00000" stroke-width="0.5"/>
<path d="M409.72,13.54a2.0,2.0 0 1,0 4.0,0a2.0,2.0 0 1,0 -4.0,0zM411.6,18.48a2.0,2.0 0 1,0 4.0,0a2.0,2.0 0 1,0 -4.0,0zM413.48,19.09a2.0,2.0 0 1,0 4.0,0a2.0,2.0 0 1,0 -4.0,0zM415.36,14.36a2.0,2.0 0 1,0 4.0,0a2.0,2.0 0 1,0 -4.0,0z" fill="#ff3030" stroke="#e00000" stroke-width="0.5"/>
<path d="M263.08,12.52a2.0,2.0 0 1,0 4.0,0a2.0,2.0 0 1,0 -4.0,0zM264.96,12.31a2.0,2.0 0 1,0 4.0,0a2.0,2.0 0 1,0 -4.0,0zM266.84,12a2.0,2.0 0 1,0 4.0,0a2.0,2.0 0 1,0 -4.0,0z" fill="#ff3030" stroke="#e00000" stroke-width="0.5"/>
<path d="M264.3,20.8C265.25,20.6 268.38,19.98 270,19.6C271.62,19.22 272.92,18.67 274,18.5C275.08,18.33 275.75,18.35 276.5,18.6C277.25,18.85 277.67,19.3 278.5,20C279.33,20.7 280.6,21.8 281.5,22.8C282.4,23.8 283.18,24.88 283.9,26C284.62,27.12 285.15,28.35 285.8,29.5C286.45,30.65 287.15,31.88 287.8,32.9C288.45,33.92 289.13,34.68 289.7,35.6C290.27,36.52 290.63,37.47 291.2,38.4C291.77,39.33 292.45,40.27 293.1,41.2C293.75,42.13 294.2,42.82 295.1,44C296,45.18 297.37,46.92 298.5,48.3C299.63,49.68 301.33,51.63 301.9,52.3" fill="none" stroke="#222" stroke-width="0.75"/>
<path d="M275.6,11.5C275.75,12.08 276.14,13.3 276.5,15C276.86,16.7 277.27,19.55 277.75,21.7C278.23,23.85 278.86,26.02 279.4,27.9C279.94,29.78 280.42,31.48 281,33C281.58,34.52 282.17,36.05 282.9,37C283.63,37.95 284.67,38.58 285.4,38.7C286.13,38.82 286.67,38.27 287.3,37.7C287.93,37.13 288.55,36.42 289.2,35.3C289.85,34.18 290.3,33.03 291.2,31C292.1,28.97 293.68,25.22 294.6,23.1C295.52,20.98 296.05,19.92 296.7,18.3C297.35,16.68 298.08,14.53 298.5,13.4C298.92,12.27 299.08,11.82 299.2,11.5" fill="none" stroke="#222" stroke-width="0.75"/>
<path d="M301.9,52.3C302.45,51.23 304.15,48.07 305.2,45.9C306.25,43.73 307.3,41.95 308.2,39.3C309.1,36.65 309.85,32.97 310.6,30C311.35,27.03 312.07,24.58 312.7,21.5C313.33,18.42 314.12,13.17 314.4,11.5" fill="none" stroke="#222" stroke-width="0.75"/>
<path d="M397.8,11.5C398.17,13.2 399.28,18.48 400,21.7C400.72,24.92 401.43,28.08 402.1,30.8C402.77,33.52 403.43,35.53 404,38C404.57,40.47 404.93,43.2 405.5,45.6C406.07,48 406.72,50.12 407.4,52.4C408.08,54.68 408.85,57.2 409.6,59.3C410.35,61.4 411.07,63.48 411.9,65C412.73,66.52 413.65,68.4 414.6,68.4C415.55,68.4 416.72,66.72 417.6,65C418.48,63.28 419.22,60.38 419.9,58.1C420.58,55.82 421.02,53.77 421.7,51.3C422.38,48.83 423.23,45.95 424,43.3C424.77,40.65 425.65,37.78 426.3,35.4C426.95,33.02 427.28,30.27 427.9,29C428.52,27.73 429.05,27.92 430,27.8C430.95,27.68 432.6,28.4 433.6,28.3C434.6,28.2 435.25,27.73 436,27.2C436.75,26.67 437.37,26.22 438.1,25.1C438.83,23.98 439.25,22.77 440.4,20.5C441.55,18.23 444.23,13 445,11.5" fill="none" stroke="#222" stroke-width="0.75"/>
<path d="M410.8,11.5C411.13,12.25 412.17,14.5 412.8,16C413.43,17.5 413.97,20.5 414.6,20.5C415.23,20.5 415.92,17.5 416.6,16C417.28,14.5 418.35,12.25 418.7,11.5" fill="none" stroke="#222" stroke-width="0.75"/>
<path d="M262.73,67.51a2.35,2.35 0 1,0 4.7,0a2.35,2.35 0 1,0 -4.7,0zM264.61,67.06a2.35,2.35 0 1,0 4.7,0a2.35,2.35 0 1,0 -4.7,0zM266.49,66.6a2.35,2.35 0 1,0 4.7,0a2.35,2.35 0 1,0 -4.7,0zM268.37,66.11a2.35,2.35 0 1,0 4.7,0a2.35,2.35 0 1,0 -4.7,0zM270.25,65.6a2.35,2.35 0 1,0 4.7,0a2.35,2.35 0 1,0 -4.7,0zM272.13,65.06a2.35,2.35 0 1,0 4.7,0a2.35,2.35 0 1,0 -4.7,0zM274.01,64.49a2.35,2.35 0 1,0 4.7,0a2.35,2.35 0 1,0 -4.7,0zM275.89,63.9a2.35,2.35 0 1,0 4.7,0a2.35,2.35 0 1,0 -4.7,0zM277.77,63.29a2.35,2.35 0 1,0 4.7,0a2.35,2.35 0 1,0 -4.7,0zM279.65,62.65a2.35,2.35 0 1,0 4.7,0a2.35,2.35 0 1,0 -4.7,0zM281.53,61.98a2.35,2.35 0 1,0 4.7,0a2.35,2.35 0 1,0 -4.7,0zM283.41,61.3a2.35,2.35 0 1,0 4.7,0a2.35,2.35 0 1,0 -4.7,0zM285.29,60.58a2.35,2.35 0 1,0 4.7,0a2.35,2.35 0 1,0 -4.7,0zM287.17,59.81a2.35,2.35 0 1,0 4.7,0a2.35,2.35 0 1,0 -4.7,0zM289.05,58.96a2.35,2.35 0 1,0 4.7,0a2.35,2.35 0 1,0 -4.7,0zM290.93,58.03a2.35,2.35 0 1,0 4.7,0a2.35,2.35 0 1,0 -4.7,0zM292.81,57.05a2.35,2.35 0 1,0 4.7,0a2.35,2.35 0 1,0 -4.7,0zM294.69,56.04a2.35,2.35 0 1,0 4.7,0a2.35,2.35 0 1,0 -4.7,0zM296.57,54.96a2.35,2.35 0 1,0 4.7,0a2.35,2.35 0 1,0 -4.7,0zM298.45,53.78a2.35,2.35 0 1,0 4.7,0a2.35,2.35 0 1,0 -4.7,0z" fill="#ff1010"/>
<path d="M264.48,66.11a0.6,0.6 0 1,0 1.2,0a0.6,0.6 0 1,0 -1.2,0zM266.36,65.66a0.6,0.6 0 1,0 1.2,0a0.6,0.6 0 1,0 -1.2,0zM268.24,65.2a0.6,0.6 0 1,0 1.2,0a0.6,0.6 0 1,0 -1.2,0zM270.12,64.71a0.6,0.6 0 1,0 1.2,0a0.6,0.6 0 1,0 -1.2,0zM272,64.2a0.6,0.6 0 1,0 1.2,0a0.6,0.6 0 1,0 -1.2,0zM273.88,63.66a0.6,0.6 0 1,0 1.2,0a0.6,0.6 0 1,0 -1.2,0zM275.76,63.09a0.6,0.6 0 1,0 1.2,0a0.6,0.6 0 1,0 -1.2,0zM277.64,62.5a0.6,0.6 0 1,0 1.2,0a0.6,0.6 0 1,0 -1.2,0zM279.52,61.89a0.6,0.6 0 1,0 1.2,0a0.6,0.6 0 1,0 -1.2,0zM281.4,61.25a0.6,0.6 0 1,0 1.2,0a0.6,0.6 0 1,0 -1.2,0zM283.28,60.58a0.6,0.6 0 1,0 1.2,0a0.6,0.6 0 1,0 -1.2,0zM285.16,59.9a0.6,0.6 0 1,0 1.2,0a0.6,0.6 0 1,0 -1.2,0zM287.04,59.18a0.6,0.6 0 1,0 1.2,0a0.6,0.6 0 1,0 -1.2,0zM288.92,58.41a0.6,0.6 0 1,0 1.2,0a0.6,0.6 0 1,0 -1.2,0zM290.8,57.56a0.6,0.6 0 1,0 1.2,0a0.6,0.6 0 1,0 -1.2,0zM292.68,56.63a0.6,0.6 0 1,0 1.2,0a0.6,0.6 0 1,0 -1.2,0zM294.56,55.65a0.6,0.6 0 1,0 1.2,0a0.6,0.6 0 1,0 -1.2,0zM296.44,54.64a0.6,0.6 0 1,0 1.2,0a0.6,0.6 0 1,0 -1.2,0zM298.32,53.56a0.6,0.6 0 1,0 1.2,0a0.6,0.6 0 1,0 -1.2,0zM300.2,52.38a0.6,0.6 0 1,0 1.2,0a0.6,0.6 0 1,0 -1.2,0z" fill="#ffffff"/>
<path d="M264.3,68C265.25,67.77 268.05,67.12 270,66.6C271.95,66.08 273.83,65.57 276,64.9C278.17,64.23 280.67,63.43 283,62.6C285.33,61.77 287.83,60.85 290,59.9C292.17,58.95 294.33,57.78 296,56.9C297.67,56.02 299,55.22 300,54.6C301,53.98 301.67,53.43 302,53.2" fill="none" stroke="#111" stroke-width="0.9"/>
<path d="M263.88,162.31a1.2,1.2 0 1,0 2.4,0a1.2,1.2 0 1,0 -2.4,0zM265.76,162.33a1.2,1.2 0 1,0 2.4,0a1.2,1.2 0 1,0 -2.4,0zM267.64,162.35a1.2,1.2 0 1,0 2.4,0a1.2,1.2 0 1,0 -2.4,0zM269.52,162.38a1.2,1.2 0 1,0 2.4,0a1.2,1.2 0 1,0 -2.4,0zM271.4,162.41a1.2,1.2 0 1,0 2.4,0a1.2,1.2 0 1,0 -2.4,0zM273.28,162.46a1.2,1.2 0 1,0 2.4,0a1.2,1.2 0 1,0 -2.4,0zM275.16,162.52a1.2,1.2 0 1,0 2.4,0a1.2,1.2 0 1,0 -2.4,0zM277.04,162.57a1.2,1.2 0 1,0 2.4,0a1.2,1.2 0 1,0 -2.4,0zM278.92,162.6a1.2,1.2 0 1,0 2.4,0a1.2,1.2 0 1,0 -2.4,0zM280.8,162.61a1.2,1.2 0 1,0 2.4,0a1.2,1.2 0 1,0 -2.4,0zM282.68,162.61a1.2,1.2 0 1,0 2.4,0a1.2,1.2 0 1,0 -2.4,0zM284.56,162.61a1.2,1.2 0 1,0 2.4,0a1.2,1.2 0 1,0 -2.4,0zM286.44,162.6a1.2,1.2 0 1,0 2.4,0a1.2,1.2 0 1,0 -2.4,0z" fill="#f05050" stroke="#c02020" stroke-width="0.3"/>
<path d="M264.3,119C264.78,119.5 266.3,120.97 267.2,122C268.1,123.03 268.85,124.03 269.7,125.2C270.55,126.37 271.55,127.52 272.3,129C273.05,130.48 273.5,132.27 274.2,134.1C274.9,135.93 275.78,138.02 276.5,140C277.22,141.98 277.83,143.83 278.5,146C279.17,148.17 279.98,150.63 280.5,153C281.02,155.37 281.32,158.37 281.6,160.2C281.88,162.03 282.1,163.37 282.2,164" fill="none" stroke="#ff8c1a" stroke-width="1.2"/>
<path d="M402.5,164C402.63,162.78 402.92,159.48 403.3,156.7C403.68,153.92 404.27,150.43 404.8,147.3C405.33,144.17 405.98,140.68 406.5,137.9C407.02,135.12 407.38,132.68 407.9,130.6C408.42,128.52 408.97,126.78 409.6,125.4C410.23,124.02 410.83,123.17 411.7,122.3C412.57,121.43 413.77,120.2 414.8,120.2C415.83,120.2 417.03,121.43 417.9,122.3C418.77,123.17 419.37,124.02 420,125.4C420.63,126.78 421.18,128.52 421.7,130.6C422.22,132.68 422.62,135.12 423.1,137.9C423.58,140.68 424.15,144.17 424.6,147.3C425.05,150.43 425.45,153.92 425.8,156.7C426.15,159.48 426.55,162.78 426.7,164" fill="none" stroke="#ff8c1a" stroke-width="1.2"/>
<path d="M268.5,164C269.17,163.08 271.08,160.17 272.5,158.5C273.92,156.83 275.55,155.03 277,154C278.45,152.97 279.78,151.97 281.2,152.3C282.62,152.63 284.2,154.05 285.5,156C286.8,157.95 288.42,162.67 289,164" fill="none" stroke="#222" stroke-width="0.8"/>
<path d="M286.5,164C287.05,163.2 288.63,160.73 289.8,159.2C290.97,157.67 292.27,156.35 293.5,154.8C294.73,153.25 296.07,151.55 297.2,149.9C298.33,148.25 299.47,146.47 300.3,144.9C301.13,143.33 301.88,141.23 302.2,140.5" fill="none" stroke="#333" stroke-width="0.8"/>
<path d="M288.07,159.58a1.45,1.45 0 1,0 2.9,0a1.45,1.45 0 1,0 -2.9,0zM291.83,155.07a1.45,1.45 0 1,0 2.9,0a1.45,1.45 0 1,0 -2.9,0zM295.59,150.13a1.45,1.45 0 1,0 2.9,0a1.45,1.45 0 1,0 -2.9,0zM299.35,143.88a1.45,1.45 0 1,0 2.9,0a1.45,1.45 0 1,0 -2.9,0z" fill="#4a5aff" stroke="#0010c8" stroke-width="0.6"/>
<path d="M377.3,156.3C377.75,155.92 378.88,154.8 380,154C381.12,153.2 382.58,152.08 384,151.5C385.42,150.92 387,150.5 388.5,150.5C390,150.5 391.42,150.83 393,151.5C394.58,152.17 396.33,153.42 398,154.5C399.67,155.58 401.5,157 403,158C404.5,159 405.8,159.87 407,160.5C408.2,161.13 409.2,161.55 410.2,161.8C411.2,162.05 412.13,162.05 413,162C413.87,161.95 414.4,162 415.4,161.5C416.4,161 417.73,160.08 419,159C420.27,157.92 421.67,156.5 423,155C424.33,153.5 425.63,151.45 427,150C428.37,148.55 430.03,146.72 431.2,146.3C432.37,145.88 433.03,146.55 434,147.5C434.97,148.45 436.17,150.25 437,152C437.83,153.75 438.42,156 439,158C439.58,160 440.25,163 440.5,164" fill="none" stroke="#3a1a2a" stroke-width="1.25"/>
<path d="M378.91,154.18a0.85,0.85 0 1,0 1.7,0a0.85,0.85 0 1,0 -1.7,0zM382.67,151.72a0.85,0.85 0 1,0 1.7,0a0.85,0.85 0 1,0 -1.7,0zM386.43,150.59a0.85,0.85 0 1,0 1.7,0a0.85,0.85 0 1,0 -1.7,0zM390.19,150.83a0.85,0.85 0 1,0 1.7,0a0.85,0.85 0 1,0 -1.7,0zM393.95,152.43a0.85,0.85 0 1,0 1.7,0a0.85,0.85 0 1,0 -1.7,0zM397.71,154.87a0.85,0.85 0 1,0 1.7,0a0.85,0.85 0 1,0 -1.7,0zM401.47,157.54a0.85,0.85 0 1,0 1.7,0a0.85,0.85 0 1,0 -1.7,0zM405.23,159.98a0.85,0.85 0 1,0 1.7,0a0.85,0.85 0 1,0 -1.7,0zM408.99,161.7a0.85,0.85 0 1,0 1.7,0a0.85,0.85 0 1,0 -1.7,0zM412.75,161.97a0.85,0.85 0 1,0 1.7,0a0.85,0.85 0 1,0 -1.7,0zM416.51,160.29a0.85,0.85 0 1,0 1.7,0a0.85,0.85 0 1,0 -1.7,0zM420.27,157.01a0.85,0.85 0 1,0 1.7,0a0.85,0.85 0 1,0 -1.7,0zM424.03,152.62a0.85,0.85 0 1,0 1.7,0a0.85,0.85 0 1,0 -1.7,0zM427.79,148.28a0.85,0.85 0 1,0 1.7,0a0.85,0.85 0 1,0 -1.7,0zM431.55,146.27a0.85,0.85 0 1,0 1.7,0a0.85,0.85 0 1,0 -1.7,0zM435.31,150.42a0.85,0.85 0 1,0 1.7,0a0.85,0.85 0 1,0 -1.7,0zM439.07,161.56a0.85,0.85 0 1,0 1.7,0a0.85,0.85 0 1,0 -1.7,0z" fill="#e82020"/>
<path d="M359.8,164C360.25,163.25 361.55,160.63 362.5,159.5C363.45,158.37 364.33,157.78 365.5,157.2C366.67,156.62 368.25,156.23 369.5,156C370.75,155.77 371.7,155.75 373,155.8C374.3,155.85 376.22,155.85 377.3,156.3C378.38,156.75 378.8,157.72 379.5,158.5C380.2,159.28 380.95,160.08 381.5,161C382.05,161.92 382.58,163.5 382.8,164" fill="none" stroke="#3a1a2a" stroke-width="1.25"/>
<path d="M360.11,161.9a0.85,0.85 0 1,0 1.7,0a0.85,0.85 0 1,0 -1.7,0zM363.87,157.62a0.85,0.85 0 1,0 1.7,0a0.85,0.85 0 1,0 -1.7,0zM367.63,156.21a0.85,0.85 0 1,0 1.7,0a0.85,0.85 0 1,0 -1.7,0zM371.39,155.78a0.85,0.85 0 1,0 1.7,0a0.85,0.85 0 1,0 -1.7,0zM375.15,155.98a0.85,0.85 0 1,0 1.7,0a0.85,0.85 0 1,0 -1.7,0zM378.91,158.79a0.85,0.85 0 1,0 1.7,0a0.85,0.85 0 1,0 -1.7,0z" fill="#e82020"/>
<path d="M262.98,97.32a2.1,2.1 0 1,0 4.2,0a2.1,2.1 0 1,0 -4.2,0zM264.86,97.6a2.1,2.1 0 1,0 4.2,0a2.1,2.1 0 1,0 -4.2,0zM266.74,97.96a2.1,2.1 0 1,0 4.2,0a2.1,2.1 0 1,0 -4.2,0zM268.62,98.52a2.1,2.1 0 1,0 4.2,0a2.1,2.1 0 1,0 -4.2,0zM270.5,99.29a2.1,2.1 0 1,0 4.2,0a2.1,2.1 0 1,0 -4.2,0zM272.38,100.22a2.1,2.1 0 1,0 4.2,0a2.1,2.1 0 1,0 -4.2,0zM274.26,101.32a2.1,2.1 0 1,0 4.2,0a2.1,2.1 0 1,0 -4.2,0zM276.14,102.63a2.1,2.1 0 1,0 4.2,0a2.1,2.1 0 1,0 -4.2,0zM278.02,104.22a2.1,2.1 0 1,0 4.2,0a2.1,2.1 0 1,0 -4.2,0zM279.9,106.11a2.1,2.1 0 1,0 4.2,0a2.1,2.1 0 1,0 -4.2,0zM281.78,108.48a2.1,2.1 0 1,0 4.2,0a2.1,2.1 0 1,0 -4.2,0zM283.66,111.29a2.1,2.1 0 1,0 4.2,0a2.1,2.1 0 1,0 -4.2,0zM285.54,114.34a2.1,2.1 0 1,0 4.2,0a2.1,2.1 0 1,0 -4.2,0z" fill="#8a94ff" stroke="#0010c8" stroke-width="0.6"/>
<path d="M287.82,117.53a1.7,1.7 0 1,0 3.4,0a1.7,1.7 0 1,0 -3.4,0zM289.7,119.9a1.7,1.7 0 1,0 3.4,0a1.7,1.7 0 1,0 -3.4,0zM291.58,122.51a1.7,1.7 0 1,0 3.4,0a1.7,1.7 0 1,0 -3.4,0zM293.46,126.01a1.7,1.7 0 1,0 3.4,0a1.7,1.7 0 1,0 -3.4,0zM295.34,129.88a1.7,1.7 0 1,0 3.4,0a1.7,1.7 0 1,0 -3.4,0zM297.22,133.7a1.7,1.7 0 1,0 3.4,0a1.7,1.7 0 1,0 -3.4,0zM299.1,137.48a1.7,1.7 0 1,0 3.4,0a1.7,1.7 0 1,0 -3.4,0zM300.98,141.27a1.7,1.7 0 1,0 3.4,0a1.7,1.7 0 1,0 -3.4,0zM302.86,145.4a1.7,1.7 0 1,0 3.4,0a1.7,1.7 0 1,0 -3.4,0z" fill="#4a5aff" stroke="#0010c8" stroke-width="0.6"/>
<path d="M263.38,119.78a1.7,1.7 0 1,0 3.4,0a1.7,1.7 0 1,0 -3.4,0zM265.26,121.73a1.7,1.7 0 1,0 3.4,0a1.7,1.7 0 1,0 -3.4,0zM267.14,124.04a1.7,1.7 0 1,0 3.4,0a1.7,1.7 0 1,0 -3.4,0zM269.02,126.55a1.7,1.7 0 1,0 3.4,0a1.7,1.7 0 1,0 -3.4,0zM270.9,129.64a1.7,1.7 0 1,0 3.4,0a1.7,1.7 0 1,0 -3.4,0zM272.78,134.82a1.7,1.7 0 1,0 3.4,0a1.7,1.7 0 1,0 -3.4,0zM274.66,139.62a1.7,1.7 0 1,0 3.4,0a1.7,1.7 0 1,0 -3.4,0zM276.54,145.16a1.7,1.7 0 1,0 3.4,0a1.7,1.7 0 1,0 -3.4,0zM278.42,151.43a1.7,1.7 0 1,0 3.4,0a1.7,1.7 0 1,0 -3.4,0zM280.3,162.75a1.7,1.7 0 1,0 3.4,0a1.7,1.7 0 1,0 -3.4,0z" fill="#4a5aff" stroke="#0010c8" stroke-width="0.6"/>
<path d="M400.72,160.97a1.6,1.6 0 1,0 3.2,0a1.6,1.6 0 1,0 -3.2,0zM402.6,146.72a1.6,1.6 0 1,0 3.2,0a1.6,1.6 0 1,0 -3.2,0zM404.48,132.97a1.6,1.6 0 1,0 3.2,0a1.6,1.6 0 1,0 -3.2,0zM406.36,121.79a1.6,1.6 0 1,0 3.2,0a1.6,1.6 0 1,0 -3.2,0zM408.24,111.06a1.6,1.6 0 1,0 3.2,0a1.6,1.6 0 1,0 -3.2,0zM410.12,103.36a1.6,1.6 0 1,0 3.2,0a1.6,1.6 0 1,0 -3.2,0zM412,99.18a1.6,1.6 0 1,0 3.2,0a1.6,1.6 0 1,0 -3.2,0zM413.88,98.38a1.6,1.6 0 1,0 3.2,0a1.6,1.6 0 1,0 -3.2,0zM415.76,102.01a1.6,1.6 0 1,0 3.2,0a1.6,1.6 0 1,0 -3.2,0zM417.64,106.5a1.6,1.6 0 1,0 3.2,0a1.6,1.6 0 1,0 -3.2,0zM419.52,115.59a1.6,1.6 0 1,0 3.2,0a1.6,1.6 0 1,0 -3.2,0zM421.4,124.86a1.6,1.6 0 1,0 3.2,0a1.6,1.6 0 1,0 -3.2,0zM423.28,136.29a1.6,1.6 0 1,0 3.2,0a1.6,1.6 0 1,0 -3.2,0zM425.16,148.16a1.6,1.6 0 1,0 3.2,0a1.6,1.6 0 1,0 -3.2,0zM427.04,162.98a1.6,1.6 0 1,0 3.2,0a1.6,1.6 0 1,0 -3.2,0z" fill="#4a5aff" stroke="#0010c8" stroke-width="0.6"/>
<path d="M400.82,164a1.5,1.5 0 1,0 3.0,0a1.5,1.5 0 1,0 -3.0,0zM402.7,150.87a1.5,1.5 0 1,0 3.0,0a1.5,1.5 0 1,0 -3.0,0zM404.58,140.16a1.5,1.5 0 1,0 3.0,0a1.5,1.5 0 1,0 -3.0,0zM406.46,130.36a1.5,1.5 0 1,0 3.0,0a1.5,1.5 0 1,0 -3.0,0zM408.34,124.9a1.5,1.5 0 1,0 3.0,0a1.5,1.5 0 1,0 -3.0,0zM410.22,122.28a1.5,1.5 0 1,0 3.0,0a1.5,1.5 0 1,0 -3.0,0zM412.1,120.63a1.5,1.5 0 1,0 3.0,0a1.5,1.5 0 1,0 -3.0,0zM413.98,120.35a1.5,1.5 0 1,0 3.0,0a1.5,1.5 0 1,0 -3.0,0zM415.86,121.76a1.5,1.5 0 1,0 3.0,0a1.5,1.5 0 1,0 -3.0,0zM417.74,123.97a1.5,1.5 0 1,0 3.0,0a1.5,1.5 0 1,0 -3.0,0zM419.62,128.46a1.5,1.5 0 1,0 3.0,0a1.5,1.5 0 1,0 -3.0,0zM421.5,137.32a1.5,1.5 0 1,0 3.0,0a1.5,1.5 0 1,0 -3.0,0zM423.38,149.33a1.5,1.5 0 1,0 3.0,0a1.5,1.5 0 1,0 -3.0,0z" fill="#4a5aff" stroke="#0010c8" stroke-width="0.6"/>
<path d="M264.3,97.2C265.32,97.4 268.32,97.67 270.4,98.4C272.48,99.13 274.88,100.33 276.8,101.6C278.72,102.87 280.42,104.4 281.9,106C283.38,107.6 284.43,109.28 285.7,111.2C286.97,113.12 288.22,115.58 289.5,117.5C290.78,119.42 292.22,120.78 293.4,122.7C294.58,124.62 295.43,126.67 296.6,129C297.77,131.33 299.5,134.9 300.4,136.7C301.3,138.5 301.13,137.97 302,139.8C302.87,141.63 304.43,144.3 305.6,147.7C306.77,151.1 308.3,157.48 309,160.2C309.7,162.92 309.67,163.37 309.8,164" fill="none" stroke="#222" stroke-width="0.8"/>
<path d="M401.9,164C402.07,162.78 402.48,159.83 402.9,156.7C403.32,153.57 403.92,148.85 404.4,145.2C404.88,141.55 405.28,138.27 405.8,134.8C406.32,131.33 406.93,127.7 407.5,124.4C408.07,121.1 408.68,117.9 409.2,115C409.72,112.1 410.05,109.25 410.6,107C411.15,104.75 411.8,103.02 412.5,101.5C413.2,99.98 414.03,97.9 414.8,97.9C415.57,97.9 416.35,100.03 417.1,101.5C417.85,102.97 418.65,104.45 419.3,106.7C419.95,108.95 420.37,111.88 421,115C421.63,118.12 422.47,121.93 423.1,125.4C423.73,128.87 424.27,132.5 424.8,135.8C425.33,139.1 425.82,142.07 426.3,145.2C426.78,148.33 427.29,151.47 427.7,154.6C428.11,157.73 428.57,162.43 428.75,164" fill="none" stroke="#222" stroke-width="0.8"/>
</g>
<g clip-path="url(#cc)">
<path d="M528.86,58.56a1.3,1.3 0 1,0 2.6,0a1.3,1.3 0 1,0 -2.6,0zM530.74,54.94a1.3,1.3 0 1,0 2.6,0a1.3,1.3 0 1,0 -2.6,0zM532.62,50.16a1.3,1.3 0 1,0 2.6,0a1.3,1.3 0 1,0 -2.6,0zM534.5,44.98a1.3,1.3 0 1,0 2.6,0a1.3,1.3 0 1,0 -2.6,0zM536.38,39.27a1.3,1.3 0 1,0 2.6,0a1.3,1.3 0 1,0 -2.6,0zM538.26,34.79a1.3,1.3 0 1,0 2.6,0a1.3,1.3 0 1,0 -2.6,0zM540.14,32.46a1.3,1.3 0 1,0 2.6,0a1.3,1.3 0 1,0 -2.6,0zM542.02,30.7a1.3,1.3 0 1,0 2.6,0a1.3,1.3 0 1,0 -2.6,0zM543.9,29.28a1.3,1.3 0 1,0 2.6,0a1.3,1.3 0 1,0 -2.6,0zM545.78,28.16a1.3,1.3 0 1,0 2.6,0a1.3,1.3 0 1,0 -2.6,0zM547.66,27.32a1.3,1.3 0 1,0 2.6,0a1.3,1.3 0 1,0 -2.6,0zM549.54,26.64a1.3,1.3 0 1,0 2.6,0a1.3,1.3 0 1,0 -2.6,0zM551.42,26.08a1.3,1.3 0 1,0 2.6,0a1.3,1.3 0 1,0 -2.6,0zM553.3,25.61a1.3,1.3 0 1,0 2.6,0a1.3,1.3 0 1,0 -2.6,0zM555.18,25.19a1.3,1.3 0 1,0 2.6,0a1.3,1.3 0 1,0 -2.6,0zM557.06,24.81a1.3,1.3 0 1,0 2.6,0a1.3,1.3 0 1,0 -2.6,0zM558.94,24.46a1.3,1.3 0 1,0 2.6,0a1.3,1.3 0 1,0 -2.6,0zM560.82,24.13a1.3,1.3 0 1,0 2.6,0a1.3,1.3 0 1,0 -2.6,0zM562.7,23.84a1.3,1.3 0 1,0 2.6,0a1.3,1.3 0 1,0 -2.6,0zM564.58,23.6a1.3,1.3 0 1,0 2.6,0a1.3,1.3 0 1,0 -2.6,0zM566.46,23.47a1.3,1.3 0 1,0 2.6,0a1.3,1.3 0 1,0 -2.6,0zM568.34,23.51a1.3,1.3 0 1,0 2.6,0a1.3,1.3 0 1,0 -2.6,0zM570.22,23.73a1.3,1.3 0 1,0 2.6,0a1.3,1.3 0 1,0 -2.6,0zM572.1,24.05a1.3,1.3 0 1,0 2.6,0a1.3,1.3 0 1,0 -2.6,0zM573.98,24.48a1.3,1.3 0 1,0 2.6,0a1.3,1.3 0 1,0 -2.6,0zM575.86,25.02a1.3,1.3 0 1,0 2.6,0a1.3,1.3 0 1,0 -2.6,0zM577.74,25.9a1.3,1.3 0 1,0 2.6,0a1.3,1.3 0 1,0 -2.6,0zM579.62,27.03a1.3,1.3 0 1,0 2.6,0a1.3,1.3 0 1,0 -2.6,0zM581.5,27.97a1.3,1.3 0 1,0 2.6,0a1.3,1.3 0 1,0 -2.6,0zM583.38,27.71a1.3,1.3 0 1,0 2.6,0a1.3,1.3 0 1,0 -2.6,0zM585.26,26.57a1.3,1.3 0 1,0 2.6,0a1.3,1.3 0 1,0 -2.6,0zM587.14,24.53a1.3,1.3 0 1,0 2.6,0a1.3,1.3 0 1,0 -2.6,0zM589.02,21.03a1.3,1.3 0 1,0 2.6,0a1.3,1.3 0 1,0 -2.6,0zM590.9,16.57a1.3,1.3 0 1,0 2.6,0a1.3,1.3 0 1,0 -2.6,0z" fill="#ff3030" stroke="#e00000" stroke-width="0.5"/>
<path d="M491.16,12.2a1.4,1.4 0 1,0 2.8,0a1.4,1.4 0 1,0 -2.8,0zM493.04,13.48a1.4,1.4 0 1,0 2.8,0a1.4,1.4 0 1,0 -2.8,0zM494.92,15.3a1.4,1.4 0 1,0 2.8,0a1.4,1.4 0 1,0 -2.8,0zM496.8,19.51a1.4,1.4 0 1,0 2.8,0a1.4,1.4 0 1,0 -2.8,0zM498.68,25.08a1.4,1.4 0 1,0 2.8,0a1.4,1.4 0 1,0 -2.8,0zM500.56,29.49a1.4,1.4 0 1,0 2.8,0a1.4,1.4 0 1,0 -2.8,0zM502.44,33.22a1.4,1.4 0 1,0 2.8,0a1.4,1.4 0 1,0 -2.8,0zM504.32,34.93a1.4,1.4 0 1,0 2.8,0a1.4,1.4 0 1,0 -2.8,0zM506.2,35.67a1.4,1.4 0 1,0 2.8,0a1.4,1.4 0 1,0 -2.8,0zM508.08,35.4a1.4,1.4 0 1,0 2.8,0a1.4,1.4 0 1,0 -2.8,0zM509.96,34.63a1.4,1.4 0 1,0 2.8,0a1.4,1.4 0 1,0 -2.8,0zM511.84,33.34a1.4,1.4 0 1,0 2.8,0a1.4,1.4 0 1,0 -2.8,0zM513.72,32.06a1.4,1.4 0 1,0 2.8,0a1.4,1.4 0 1,0 -2.8,0zM515.6,30.44a1.4,1.4 0 1,0 2.8,0a1.4,1.4 0 1,0 -2.8,0zM517.48,29.05a1.4,1.4 0 1,0 2.8,0a1.4,1.4 0 1,0 -2.8,0zM519.36,28.15a1.4,1.4 0 1,0 2.8,0a1.4,1.4 0 1,0 -2.8,0zM521.24,27.52a1.4,1.4 0 1,0 2.8,0a1.4,1.4 0 1,0 -2.8,0zM523.12,27.22a1.4,1.4 0 1,0 2.8,0a1.4,1.4 0 1,0 -2.8,0zM525,27.2a1.4,1.4 0 1,0 2.8,0a1.4,1.4 0 1,0 -2.8,0zM526.88,27.2a1.4,1.4 0 1,0 2.8,0a1.4,1.4 0 1,0 -2.8,0zM528.76,26.76a1.4,1.4 0 1,0 2.8,0a1.4,1.4 0 1,0 -2.8,0zM530.64,26.25a1.4,1.4 0 1,0 2.8,0a1.4,1.4 0 1,0 -2.8,0zM532.52,25.59a1.4,1.4 0 1,0 2.8,0a1.4,1.4 0 1,0 -2.8,0zM534.4,23.78a1.4,1.4 0 1,0 2.8,0a1.4,1.4 0 1,0 -2.8,0zM536.28,20.25a1.4,1.4 0 1,0 2.8,0a1.4,1.4 0 1,0 -2.8,0zM538.16,16.33a1.4,1.4 0 1,0 2.8,0a1.4,1.4 0 1,0 -2.8,0z" fill="#ff3030" stroke="#e00000" stroke-width="0.5"/>
<path d="M502.44,14.32a1.4,1.4 0 1,0 2.8,0a1.4,1.4 0 1,0 -2.8,0zM504.32,18.17a1.4,1.4 0 1,0 2.8,0a1.4,1.4 0 1,0 -2.8,0zM506.2,21.46a1.4,1.4 0 1,0 2.8,0a1.4,1.4 0 1,0 -2.8,0zM508.08,24.54a1.4,1.4 0 1,0 2.8,0a1.4,1.4 0 1,0 -2.8,0zM509.96,28.28a1.4,1.4 0 1,0 2.8,0a1.4,1.4 0 1,0 -2.8,0zM511.84,31.18a1.4,1.4 0 1,0 2.8,0a1.4,1.4 0 1,0 -2.8,0zM513.72,34.6a1.4,1.4 0 1,0 2.8,0a1.4,1.4 0 1,0 -2.8,0zM515.6,38.54a1.4,1.4 0 1,0 2.8,0a1.4,1.4 0 1,0 -2.8,0zM517.48,41.53a1.4,1.4 0 1,0 2.8,0a1.4,1.4 0 1,0 -2.8,0zM519.36,44.63a1.4,1.4 0 1,0 2.8,0a1.4,1.4 0 1,0 -2.8,0zM521.24,48.03a1.4,1.4 0 1,0 2.8,0a1.4,1.4 0 1,0 -2.8,0zM523.12,51.17a1.4,1.4 0 1,0 2.8,0a1.4,1.4 0 1,0 -2.8,0zM525,54.1a1.4,1.4 0 1,0 2.8,0a1.4,1.4 0 1,0 -2.8,0zM526.88,56.8a1.4,1.4 0 1,0 2.8,0a1.4,1.4 0 1,0 -2.8,0z" fill="#ff3030" stroke="#e00000" stroke-width="0.5"/>
<path d="M508.08,12.08a1.4,1.4 0 1,0 2.8,0a1.4,1.4 0 1,0 -2.8,0zM509.96,16.04a1.4,1.4 0 1,0 2.8,0a1.4,1.4 0 1,0 -2.8,0zM511.84,19.69a1.4,1.4 0 1,0 2.8,0a1.4,1.4 0 1,0 -2.8,0zM513.72,22.62a1.4,1.4 0 1,0 2.8,0a1.4,1.4 0 1,0 -2.8,0zM515.6,25.27a1.4,1.4 0 1,0 2.8,0a1.4,1.4 0 1,0 -2.8,0zM517.48,27.1a1.4,1.4 0 1,0 2.8,0a1.4,1.4 0 1,0 -2.8,0zM519.36,27.74a1.4,1.4 0 1,0 2.8,0a1.4,1.4 0 1,0 -2.8,0zM521.24,27.78a1.4,1.4 0 1,0 2.8,0a1.4,1.4 0 1,0 -2.8,0z" fill="#ff3030" stroke="#e00000" stroke-width="0.5"/>
<path d="M622.41,15.56a1.75,1.75 0 1,0 3.5,0a1.75,1.75 0 1,0 -3.5,0zM624.29,20.8a1.75,1.75 0 1,0 3.5,0a1.75,1.75 0 1,0 -3.5,0zM626.17,26.11a1.75,1.75 0 1,0 3.5,0a1.75,1.75 0 1,0 -3.5,0zM628.05,31.5a1.75,1.75 0 1,0 3.5,0a1.75,1.75 0 1,0 -3.5,0zM629.93,37.01a1.75,1.75 0 1,0 3.5,0a1.75,1.75 0 1,0 -3.5,0zM631.81,42.66a1.75,1.75 0 1,0 3.5,0a1.75,1.75 0 1,0 -3.5,0zM633.69,48.32a1.75,1.75 0 1,0 3.5,0a1.75,1.75 0 1,0 -3.5,0zM635.57,53.96a1.75,1.75 0 1,0 3.5,0a1.75,1.75 0 1,0 -3.5,0zM637.45,59.64a1.75,1.75 0 1,0 3.5,0a1.75,1.75 0 1,0 -3.5,0zM639.33,65.21a1.75,1.75 0 1,0 3.5,0a1.75,1.75 0 1,0 -3.5,0zM641.21,68.22a1.75,1.75 0 1,0 3.5,0a1.75,1.75 0 1,0 -3.5,0zM643.09,65.93a1.75,1.75 0 1,0 3.5,0a1.75,1.75 0 1,0 -3.5,0zM644.97,61.96a1.75,1.75 0 1,0 3.5,0a1.75,1.75 0 1,0 -3.5,0zM646.85,57.87a1.75,1.75 0 1,0 3.5,0a1.75,1.75 0 1,0 -3.5,0zM648.73,53.58a1.75,1.75 0 1,0 3.5,0a1.75,1.75 0 1,0 -3.5,0zM650.61,51.36a1.75,1.75 0 1,0 3.5,0a1.75,1.75 0 1,0 -3.5,0zM652.49,50.55a1.75,1.75 0 1,0 3.5,0a1.75,1.75 0 1,0 -3.5,0zM654.37,50.18a1.75,1.75 0 1,0 3.5,0a1.75,1.75 0 1,0 -3.5,0zM656.25,49.62a1.75,1.75 0 1,0 3.5,0a1.75,1.75 0 1,0 -3.5,0zM658.13,47.8a1.75,1.75 0 1,0 3.5,0a1.75,1.75 0 1,0 -3.5,0zM660.01,45.14a1.75,1.75 0 1,0 3.5,0a1.75,1.75 0 1,0 -3.5,0zM661.89,42.01a1.75,1.75 0 1,0 3.5,0a1.75,1.75 0 1,0 -3.5,0zM663.77,38.76a1.75,1.75 0 1,0 3.5,0a1.75,1.75 0 1,0 -3.5,0zM665.65,35.63a1.75,1.75 0 1,0 3.5,0a1.75,1.75 0 1,0 -3.5,0zM667.53,32.78a1.75,1.75 0 1,0 3.5,0a1.75,1.75 0 1,0 -3.5,0zM669.41,30.12a1.75,1.75 0 1,0 3.5,0a1.75,1.75 0 1,0 -3.5,0zM671.29,27.87a1.75,1.75 0 1,0 3.5,0a1.75,1.75 0 1,0 -3.5,0zM673.17,26.23a1.75,1.75 0 1,0 3.5,0a1.75,1.75 0 1,0 -3.5,0zM675.05,25.02a1.75,1.75 0 1,0 3.5,0a1.75,1.75 0 1,0 -3.5,0zM676.93,24.01a1.75,1.75 0 1,0 3.5,0a1.75,1.75 0 1,0 -3.5,0zM678.81,23.59a1.75,1.75 0 1,0 3.5,0a1.75,1.75 0 1,0 -3.5,0z" fill="#ff3030" stroke="#e00000" stroke-width="0.5"/>
<path d="M648.73,17.79a1.75,1.75 0 1,0 3.5,0a1.75,1.75 0 1,0 -3.5,0zM650.61,21.92a1.75,1.75 0 1,0 3.5,0a1.75,1.75 0 1,0 -3.5,0zM652.49,16.54a1.75,1.75 0 1,0 3.5,0a1.75,1.75 0 1,0 -3.5,0z" fill="#ff3030" stroke="#e00000" stroke-width="0.5"/>
<path d="M658.13,11.5a1.75,1.75 0 1,0 3.5,0a1.75,1.75 0 1,0 -3.5,0zM660.01,14.59a1.75,1.75 0 1,0 3.5,0a1.75,1.75 0 1,0 -3.5,0zM661.89,17.65a1.75,1.75 0 1,0 3.5,0a1.75,1.75 0 1,0 -3.5,0zM663.77,20.07a1.75,1.75 0 1,0 3.5,0a1.75,1.75 0 1,0 -3.5,0zM665.65,22.09a1.75,1.75 0 1,0 3.5,0a1.75,1.75 0 1,0 -3.5,0zM667.53,23.67a1.75,1.75 0 1,0 3.5,0a1.75,1.75 0 1,0 -3.5,0zM669.41,24.62a1.75,1.75 0 1,0 3.5,0a1.75,1.75 0 1,0 -3.5,0zM671.29,24.95a1.75,1.75 0 1,0 3.5,0a1.75,1.75 0 1,0 -3.5,0zM673.17,24.91a1.75,1.75 0 1,0 3.5,0a1.75,1.75 0 1,0 -3.5,0zM675.05,24.54a1.75,1.75 0 1,0 3.5,0a1.75,1.75 0 1,0 -3.5,0zM676.93,23.93a1.75,1.75 0 1,0 3.5,0a1.75,1.75 0 1,0 -3.5,0zM678.81,23.25a1.75,1.75 0 1,0 3.5,0a1.75,1.75 0 1,0 -3.5,0z" fill="#ff3030" stroke="#e00000" stroke-width="0.5"/>
<path d="M637,59.66a2.2,2.2 0 1,0 4.4,0a2.2,2.2 0 1,0 -4.4,0zM638.88,65.21a2.2,2.2 0 1,0 4.4,0a2.2,2.2 0 1,0 -4.4,0zM640.76,68.22a2.2,2.2 0 1,0 4.4,0a2.2,2.2 0 1,0 -4.4,0zM642.64,65.92a2.2,2.2 0 1,0 4.4,0a2.2,2.2 0 1,0 -4.4,0z" fill="#ff3030" stroke="#e00000" stroke-width="0.5"/>
<path d="M529.7,59.3C530.05,58.67 530.88,57.6 531.8,55.5C532.72,53.4 534.05,49.87 535.2,46.7C536.35,43.53 537.73,38.78 538.7,36.5C539.67,34.22 540.25,33.95 541,33C541.75,32.05 542.2,31.6 543.2,30.8C544.2,30 545.48,28.97 547,28.2C548.52,27.43 550.13,26.82 552.3,26.2C554.47,25.58 557.53,24.95 560,24.5C562.47,24.05 565.1,23.62 567.1,23.5C569.1,23.38 570.28,23.53 572,23.8C573.72,24.07 575.98,24.6 577.4,25.1C578.82,25.6 579.55,26.32 580.5,26.8C581.45,27.28 582.18,27.97 583.1,28C584.02,28.03 585.05,27.67 586,27C586.95,26.33 587.93,25.33 588.8,24C589.67,22.67 590.45,20.72 591.2,19C591.95,17.28 592.83,14.95 593.3,13.7C593.77,12.45 593.88,11.87 594,11.5" fill="none" stroke="#222" stroke-width="0.75"/>
<path d="M492.8,12.2C493.17,12.5 494.27,13.25 495,14C495.73,14.75 496.47,15.15 497.2,16.7C497.93,18.25 498.65,21.27 499.4,23.3C500.15,25.33 500.95,27.23 501.7,28.9C502.45,30.57 502.98,32.18 503.9,33.3C504.82,34.42 506.08,35.32 507.2,35.6C508.32,35.88 509.58,35.38 510.6,35C511.62,34.62 512.47,33.85 513.3,33.3C514.13,32.75 514.77,32.35 515.6,31.7C516.43,31.05 517.28,30.05 518.3,29.4C519.32,28.75 520.63,28.17 521.7,27.8C522.77,27.43 523.6,27.3 524.7,27.2C525.8,27.1 527.25,27.32 528.3,27.2C529.35,27.08 530.07,26.77 531,26.5C531.93,26.23 533.07,26.1 533.9,25.6C534.73,25.1 535.33,24.47 536,23.5C536.67,22.53 537.28,21.05 537.9,19.8C538.52,18.55 539.12,17.38 539.7,16C540.28,14.62 541.12,12.25 541.4,11.5" fill="none" stroke="#222" stroke-width="0.75"/>
<path d="M502.5,11.5C503.1,12.73 504.95,16.75 506.1,18.9C507.25,21.05 508.47,22.73 509.4,24.4C510.33,26.07 510.95,27.6 511.7,28.9C512.45,30.2 513.25,31.08 513.9,32.2C514.55,33.32 515.05,34.48 515.6,35.6C516.15,36.72 516.47,37.62 517.2,38.9C517.93,40.18 519.07,41.73 520,43.3C520.93,44.87 521.8,46.6 522.8,48.3C523.8,50 524.85,51.75 526,53.5C527.15,55.25 529.08,57.92 529.7,58.8" fill="none" stroke="#222" stroke-width="0.75"/>
<path d="M509.2,11.5C509.8,12.73 511.73,16.93 512.8,18.9C513.87,20.87 514.68,22 515.6,23.3C516.52,24.6 517.38,25.95 518.3,26.7C519.22,27.45 520.15,27.65 521.1,27.8C522.05,27.95 523.52,27.63 524,27.6" fill="none" stroke="#222" stroke-width="0.75"/>
<path d="M622.7,11.5C623.42,13.5 625.62,19.58 627,23.5C628.38,27.42 629.67,31.08 631,35C632.33,38.92 633.75,43.25 635,47C636.25,50.75 637.5,54.5 638.5,57.5C639.5,60.5 640.32,63.22 641,65C641.68,66.78 642.02,67.95 642.6,68.2C643.18,68.45 643.82,67.53 644.5,66.5C645.18,65.47 645.95,63.58 646.7,62C647.45,60.42 648.27,58.58 649,57C649.73,55.42 650.35,53.53 651.1,52.5C651.85,51.47 652.75,51.17 653.5,50.8C654.25,50.43 654.82,50.52 655.6,50.3C656.38,50.08 657.38,50.05 658.2,49.5C659.02,48.95 659.75,47.98 660.5,47C661.25,46.02 661.45,45.65 662.7,43.6C663.95,41.55 666.23,37.37 668,34.7C669.77,32.03 671.52,29.38 673.3,27.6C675.08,25.82 677.42,24.67 678.7,24C679.98,23.33 680.62,23.67 681,23.6" fill="none" stroke="#222" stroke-width="0.75"/>
<path d="M649.3,11.5C649.75,13.28 650.95,22.2 652,22.2C653.05,22.2 655,13.28 655.6,11.5" fill="none" stroke="#222" stroke-width="0.75"/>
<path d="M660,11.5C660.73,12.7 662.77,16.62 664.4,18.7C666.03,20.78 668.03,22.97 669.8,24C671.57,25.03 673.13,25.05 675,24.9C676.87,24.75 680,23.4 681,23.1" fill="none" stroke="#222" stroke-width="0.75"/>
<path d="M490.66,22.53a1.9,1.9 0 1,0 3.8,0a1.9,1.9 0 1,0 -3.8,0zM492.54,20.97a1.9,1.9 0 1,0 3.8,0a1.9,1.9 0 1,0 -3.8,0zM494.42,19.42a1.9,1.9 0 1,0 3.8,0a1.9,1.9 0 1,0 -3.8,0zM496.3,17.82a1.9,1.9 0 1,0 3.8,0a1.9,1.9 0 1,0 -3.8,0zM498.18,16.1a1.9,1.9 0 1,0 3.8,0a1.9,1.9 0 1,0 -3.8,0zM500.06,14.21a1.9,1.9 0 1,0 3.8,0a1.9,1.9 0 1,0 -3.8,0zM501.94,12.21a1.9,1.9 0 1,0 3.8,0a1.9,1.9 0 1,0 -3.8,0z" fill="none" stroke="#ff1010" stroke-width="0.9"/>
<path d="M492,23C492.5,22.58 494,21.33 495,20.5C496,19.67 497,18.88 498,18C499,17.12 499.92,16.28 501,15.2C502.08,14.12 503.92,12.12 504.5,11.5" fill="none" stroke="#ff8c1a" stroke-width="1.0"/>
<path d="M629.18,11.58a2.5,2.5 0 1,0 5.0,0a2.5,2.5 0 1,0 -5.0,0zM631.06,13.55a2.5,2.5 0 1,0 5.0,0a2.5,2.5 0 1,0 -5.0,0zM632.94,15.48a2.5,2.5 0 1,0 5.0,0a2.5,2.5 0 1,0 -5.0,0zM634.82,17.31a2.5,2.5 0 1,0 5.0,0a2.5,2.5 0 1,0 -5.0,0zM636.7,19.31a2.5,2.5 0 1,0 5.0,0a2.5,2.5 0 1,0 -5.0,0zM638.58,20.95a2.5,2.5 0 1,0 5.0,0a2.5,2.5 0 1,0 -5.0,0zM640.46,21.12a2.5,2.5 0 1,0 5.0,0a2.5,2.5 0 1,0 -5.0,0zM642.34,19.51a2.5,2.5 0 1,0 5.0,0a2.5,2.5 0 1,0 -5.0,0zM644.22,17.29a2.5,2.5 0 1,0 5.0,0a2.5,2.5 0 1,0 -5.0,0zM646.1,15.31a2.5,2.5 0 1,0 5.0,0a2.5,2.5 0 1,0 -5.0,0zM647.98,13.22a2.5,2.5 0 1,0 5.0,0a2.5,2.5 0 1,0 -5.0,0z" fill="none" stroke="#ff1010" stroke-width="1.05"/>
<path d="M631.6,11.5C632.5,12.42 635.23,15.37 637,17C638.77,18.63 640.53,21.3 642.2,21.3C643.87,21.3 645.37,18.63 647,17C648.63,15.37 651.17,12.42 652,11.5" fill="none" stroke="#ff8c1a" stroke-width="0.9"/>
<path d="M490.41,67.28a2.15,2.15 0 1,0 4.3,0a2.15,2.15 0 1,0 -4.3,0zM492.29,66.65a2.15,2.15 0 1,0 4.3,0a2.15,2.15 0 1,0 -4.3,0zM494.17,66.2a2.15,2.15 0 1,0 4.3,0a2.15,2.15 0 1,0 -4.3,0zM496.05,66.01a2.15,2.15 0 1,0 4.3,0a2.15,2.15 0 1,0 -4.3,0zM497.93,66.41a2.15,2.15 0 1,0 4.3,0a2.15,2.15 0 1,0 -4.3,0zM499.81,67.58a2.15,2.15 0 1,0 4.3,0a2.15,2.15 0 1,0 -4.3,0zM501.69,69.36a2.15,2.15 0 1,0 4.3,0a2.15,2.15 0 1,0 -4.3,0zM503.57,71.55a2.15,2.15 0 1,0 4.3,0a2.15,2.15 0 1,0 -4.3,0zM505.45,74.01a2.15,2.15 0 1,0 4.3,0a2.15,2.15 0 1,0 -4.3,0zM507.33,76.15a2.15,2.15 0 1,0 4.3,0a2.15,2.15 0 1,0 -4.3,0zM509.21,77.31a2.15,2.15 0 1,0 4.3,0a2.15,2.15 0 1,0 -4.3,0zM511.09,77.13a2.15,2.15 0 1,0 4.3,0a2.15,2.15 0 1,0 -4.3,0zM512.97,75.82a2.15,2.15 0 1,0 4.3,0a2.15,2.15 0 1,0 -4.3,0zM514.85,74.11a2.15,2.15 0 1,0 4.3,0a2.15,2.15 0 1,0 -4.3,0zM516.73,72.06a2.15,2.15 0 1,0 4.3,0a2.15,2.15 0 1,0 -4.3,0zM518.61,69.94a2.15,2.15 0 1,0 4.3,0a2.15,2.15 0 1,0 -4.3,0zM520.49,67.77a2.15,2.15 0 1,0 4.3,0a2.15,2.15 0 1,0 -4.3,0zM522.37,65.56a2.15,2.15 0 1,0 4.3,0a2.15,2.15 0 1,0 -4.3,0zM524.25,63.43a2.15,2.15 0 1,0 4.3,0a2.15,2.15 0 1,0 -4.3,0zM526.13,61.23a2.15,2.15 0 1,0 4.3,0a2.15,2.15 0 1,0 -4.3,0z" fill="#ff1010"/>
<path d="M516.45,73.01a0.55,0.55 0 1,0 1.1,0a0.55,0.55 0 1,0 -1.1,0zM518.33,70.96a0.55,0.55 0 1,0 1.1,0a0.55,0.55 0 1,0 -1.1,0zM520.21,68.84a0.55,0.55 0 1,0 1.1,0a0.55,0.55 0 1,0 -1.1,0zM522.09,66.67a0.55,0.55 0 1,0 1.1,0a0.55,0.55 0 1,0 -1.1,0zM523.97,64.46a0.55,0.55 0 1,0 1.1,0a0.55,0.55 0 1,0 -1.1,0zM525.85,62.33a0.55,0.55 0 1,0 1.1,0a0.55,0.55 0 1,0 -1.1,0zM527.73,60.13a0.55,0.55 0 1,0 1.1,0a0.55,0.55 0 1,0 -1.1,0z" fill="#ffffff"/>
<path d="M492.2,67.4C492.67,67.25 494.03,66.73 495,66.5C495.97,66.27 497.08,65.98 498,66C498.92,66.02 499.67,66.18 500.5,66.6C501.33,67.02 502.15,67.7 503,68.5C503.85,69.3 504.77,70.4 505.6,71.4C506.43,72.4 507.27,73.63 508,74.5C508.73,75.37 509.37,76.12 510,76.6C510.63,77.08 511.22,77.33 511.8,77.4C512.38,77.47 512.88,77.32 513.5,77C514.12,76.68 514.88,76.02 515.5,75.5C516.12,74.98 516.45,74.68 517.2,73.9C517.95,73.12 519.08,71.83 520,70.8C520.92,69.77 521.87,68.67 522.7,67.7C523.53,66.73 524.23,65.88 525,65C525.77,64.12 526.52,63.32 527.3,62.4C528.08,61.48 529.3,59.98 529.7,59.5" fill="none" stroke="#111" stroke-width="0.9"/>
<path d="M491.8,126.1C492.27,126.73 493.63,128 494.6,129.9C495.57,131.8 496.58,134.45 497.6,137.5C498.62,140.55 499.72,143.78 500.7,148.2C501.68,152.62 503.03,161.37 503.5,164" fill="none" stroke="#ff8c1a" stroke-width="1.2"/>
<path d="M491.8,140C492.5,140.83 494.47,142.83 496,145C497.53,147.17 499.42,149.83 501,153C502.58,156.17 504.75,162.17 505.5,164" fill="none" stroke="#ff8c1a" stroke-width="1.2"/>
<path d="M616.25,164C617.71,162 622.38,155.67 625,152C627.62,148.33 629.83,145.33 632,142C634.17,138.67 636.25,134.58 638,132C639.75,129.42 641.17,126 642.5,126.5C643.83,127 644.75,131.08 646,135C647.25,138.92 648.71,145.17 650,150C651.29,154.83 653.12,161.67 653.75,164" fill="none" stroke="#ff8c1a" stroke-width="1.2"/>
<path d="M630,164C630.83,162 633.5,155.67 635,152C636.5,148.33 637.75,144.42 639,142C640.25,139.58 641.33,137.33 642.5,137.5C643.67,137.67 644.92,140.58 646,143C647.08,145.42 648.12,148.5 649,152C649.88,155.5 650.88,162 651.25,164" fill="none" stroke="#ff8c1a" stroke-width="1.2"/>
<path d="M491.8,136.8C492.27,137.43 493.5,138.43 494.6,140.6C495.7,142.77 497.25,147 498.4,149.8C499.55,152.6 500.73,155.03 501.5,157.4C502.27,159.77 502.75,162.9 503,164" fill="none" stroke="#222" stroke-width="0.95"/>
<path d="M491.8,150C492.67,150.5 495.13,151.67 497,153C498.87,154.33 501.33,156.17 503,158C504.67,159.83 506.33,163 507,164" fill="none" stroke="#222" stroke-width="0.95"/>
<path d="M598.3,164C598.75,162.67 600.02,158.47 601,156C601.98,153.53 602.98,150.75 604.2,149.2C605.42,147.65 606.92,147.68 608.3,146.7C609.68,145.72 610.27,144.55 612.5,143.3C614.73,142.05 618.5,140.3 621.7,139.2C624.9,138.1 628.2,137.07 631.7,136.7C635.2,136.33 640.15,136.28 642.7,137C645.25,137.72 645.72,139.03 647,141C648.28,142.97 649.07,144.97 650.4,148.8C651.73,152.63 654.23,161.47 655,164" fill="none" stroke="#222" stroke-width="0.95"/>
<path d="M604.2,149.2C604.83,150 606.7,152.37 608,154C609.3,155.63 610.55,157.33 612,159C613.45,160.67 615.92,163.17 616.7,164" fill="none" stroke="#222" stroke-width="0.95"/>
<path d="M491.8,126.1C492.67,125.42 495,122.9 497,122C499,121.1 501.65,119.65 503.8,120.7C505.95,121.75 508.12,124.98 509.9,128.3C511.68,131.62 513.23,136.52 514.5,140.6C515.77,144.68 516.75,148.9 517.5,152.8C518.25,156.7 518.75,162.13 519,164" fill="none" stroke="#3a1a2a" stroke-width="1.25"/>
<path d="M491.8,145.9C493.53,146.28 498.68,147.18 502.2,148.2C505.72,149.22 509.97,150.72 512.9,152C515.83,153.28 518.27,155.05 519.8,155.9C521.33,156.75 520.95,157.62 522.1,157.1C523.25,156.58 525.48,154.78 526.7,152.8C527.92,150.82 528.95,146.47 529.4,145.2" fill="none" stroke="#3a1a2a" stroke-width="1.25"/>
<path d="M582.5,164C583.2,161.67 585.17,154.7 586.7,150C588.23,145.3 589.77,139.42 591.7,135.8C593.63,132.18 596.22,129.27 598.3,128.3C600.38,127.33 602.53,128.6 604.2,130C605.87,131.4 606.78,133.92 608.3,136.7C609.82,139.48 611.63,143.78 613.3,146.7C614.97,149.62 616.63,152.4 618.3,154.2C619.97,156 622.47,156.95 623.3,157.5" fill="none" stroke="#3a1a2a" stroke-width="1.25"/>
<path d="M604.2,130C604.88,128.88 606.5,125.52 608.3,123.3C610.1,121.08 612.5,118.37 615,116.7C617.5,115.03 620.52,113.45 623.3,113.3C626.08,113.15 629.42,114.52 631.7,115.8C633.98,117.08 635.17,119.1 637,121C638.83,122.9 640.65,127.88 642.7,127.2C644.75,126.52 647.45,119.3 649.3,116.9C651.15,114.5 652.52,112.95 653.8,112.8C655.08,112.65 655.85,113.03 657,116C658.15,118.97 659.13,124.75 660.7,130.6C662.27,136.45 664.88,145.53 666.4,151.1C667.92,156.67 669.23,161.85 669.8,164" fill="none" stroke="#3a1a2a" stroke-width="1.25"/>
<path d="M635.6,164C636.17,162 637.82,154.98 639,152C640.18,149.02 641.45,146.1 642.7,146.1C643.95,146.1 645.22,149.02 646.5,152C647.78,154.98 649.75,162 650.4,164" fill="none" stroke="#3a1a2a" stroke-width="1.25"/>
<path d="M491.71,125.42a0.85,0.85 0 1,0 1.7,0a0.85,0.85 0 1,0 -1.7,0zM495.47,122.36a0.85,0.85 0 1,0 1.7,0a0.85,0.85 0 1,0 -1.7,0zM499.23,120.7a0.85,0.85 0 1,0 1.7,0a0.85,0.85 0 1,0 -1.7,0zM502.99,120.72a0.85,0.85 0 1,0 1.7,0a0.85,0.85 0 1,0 -1.7,0zM506.75,124.49a0.85,0.85 0 1,0 1.7,0a0.85,0.85 0 1,0 -1.7,0zM510.51,131.45a0.85,0.85 0 1,0 1.7,0a0.85,0.85 0 1,0 -1.7,0zM514.27,142.69a0.85,0.85 0 1,0 1.7,0a0.85,0.85 0 1,0 -1.7,0zM518.03,163.02a0.85,0.85 0 1,0 1.7,0a0.85,0.85 0 1,0 -1.7,0z" fill="#e82020"/>
<path d="M491.71,146.06a0.85,0.85 0 1,0 1.7,0a0.85,0.85 0 1,0 -1.7,0zM495.47,146.81a0.85,0.85 0 1,0 1.7,0a0.85,0.85 0 1,0 -1.7,0zM499.23,147.64a0.85,0.85 0 1,0 1.7,0a0.85,0.85 0 1,0 -1.7,0zM502.99,148.69a0.85,0.85 0 1,0 1.7,0a0.85,0.85 0 1,0 -1.7,0zM506.75,149.94a0.85,0.85 0 1,0 1.7,0a0.85,0.85 0 1,0 -1.7,0zM510.51,151.35a0.85,0.85 0 1,0 1.7,0a0.85,0.85 0 1,0 -1.7,0zM514.27,153.1a0.85,0.85 0 1,0 1.7,0a0.85,0.85 0 1,0 -1.7,0zM518.03,155.36a0.85,0.85 0 1,0 1.7,0a0.85,0.85 0 1,0 -1.7,0zM521.79,156.81a0.85,0.85 0 1,0 1.7,0a0.85,0.85 0 1,0 -1.7,0zM525.55,153.25a0.85,0.85 0 1,0 1.7,0a0.85,0.85 0 1,0 -1.7,0z" fill="#e82020"/>
<path d="M581.95,162.98a0.85,0.85 0 1,0 1.7,0a0.85,0.85 0 1,0 -1.7,0zM585.71,150.43a0.85,0.85 0 1,0 1.7,0a0.85,0.85 0 1,0 -1.7,0zM589.47,138.88a0.85,0.85 0 1,0 1.7,0a0.85,0.85 0 1,0 -1.7,0zM593.23,132.11a0.85,0.85 0 1,0 1.7,0a0.85,0.85 0 1,0 -1.7,0zM596.99,128.54a0.85,0.85 0 1,0 1.7,0a0.85,0.85 0 1,0 -1.7,0zM600.75,128.34a0.85,0.85 0 1,0 1.7,0a0.85,0.85 0 1,0 -1.7,0zM604.51,131.29a0.85,0.85 0 1,0 1.7,0a0.85,0.85 0 1,0 -1.7,0zM608.27,138.28a0.85,0.85 0 1,0 1.7,0a0.85,0.85 0 1,0 -1.7,0zM612.03,145.94a0.85,0.85 0 1,0 1.7,0a0.85,0.85 0 1,0 -1.7,0zM615.79,152.11a0.85,0.85 0 1,0 1.7,0a0.85,0.85 0 1,0 -1.7,0zM619.55,155.89a0.85,0.85 0 1,0 1.7,0a0.85,0.85 0 1,0 -1.7,0z" fill="#e82020"/>
<path d="M604.51,127.91a0.85,0.85 0 1,0 1.7,0a0.85,0.85 0 1,0 -1.7,0zM608.27,122.31a0.85,0.85 0 1,0 1.7,0a0.85,0.85 0 1,0 -1.7,0zM612.03,118.36a0.85,0.85 0 1,0 1.7,0a0.85,0.85 0 1,0 -1.7,0zM615.79,115.67a0.85,0.85 0 1,0 1.7,0a0.85,0.85 0 1,0 -1.7,0zM619.55,113.9a0.85,0.85 0 1,0 1.7,0a0.85,0.85 0 1,0 -1.7,0zM623.31,113.3a0.85,0.85 0 1,0 1.7,0a0.85,0.85 0 1,0 -1.7,0zM627.07,114.09a0.85,0.85 0 1,0 1.7,0a0.85,0.85 0 1,0 -1.7,0zM630.83,115.79a0.85,0.85 0 1,0 1.7,0a0.85,0.85 0 1,0 -1.7,0zM634.59,119.24a0.85,0.85 0 1,0 1.7,0a0.85,0.85 0 1,0 -1.7,0zM638.35,124.19a0.85,0.85 0 1,0 1.7,0a0.85,0.85 0 1,0 -1.7,0zM642.11,127.08a0.85,0.85 0 1,0 1.7,0a0.85,0.85 0 1,0 -1.7,0zM645.87,121.46a0.85,0.85 0 1,0 1.7,0a0.85,0.85 0 1,0 -1.7,0zM649.63,115.42a0.85,0.85 0 1,0 1.7,0a0.85,0.85 0 1,0 -1.7,0zM653.39,112.77a0.85,0.85 0 1,0 1.7,0a0.85,0.85 0 1,0 -1.7,0zM657.15,119.32a0.85,0.85 0 1,0 1.7,0a0.85,0.85 0 1,0 -1.7,0zM660.91,134.48a0.85,0.85 0 1,0 1.7,0a0.85,0.85 0 1,0 -1.7,0zM664.67,147.91a0.85,0.85 0 1,0 1.7,0a0.85,0.85 0 1,0 -1.7,0zM668.43,162a0.85,0.85 0 1,0 1.7,0a0.85,0.85 0 1,0 -1.7,0z" fill="#e82020"/>
<path d="M634.59,164a0.85,0.85 0 1,0 1.7,0a0.85,0.85 0 1,0 -1.7,0zM638.35,151.5a0.85,0.85 0 1,0 1.7,0a0.85,0.85 0 1,0 -1.7,0zM642.11,146.15a0.85,0.85 0 1,0 1.7,0a0.85,0.85 0 1,0 -1.7,0zM645.87,152.53a0.85,0.85 0 1,0 1.7,0a0.85,0.85 0 1,0 -1.7,0z" fill="#e82020"/>
<path d="M490.56,98.25a2.0,2.0 0 1,0 4.0,0a2.0,2.0 0 1,0 -4.0,0zM492.44,98.39a2.0,2.0 0 1,0 4.0,0a2.0,2.0 0 1,0 -4.0,0zM494.32,98.54a2.0,2.0 0 1,0 4.0,0a2.0,2.0 0 1,0 -4.0,0zM496.2,98.79a2.0,2.0 0 1,0 4.0,0a2.0,2.0 0 1,0 -4.0,0zM498.08,99.2a2.0,2.0 0 1,0 4.0,0a2.0,2.0 0 1,0 -4.0,0zM499.96,99.93a2.0,2.0 0 1,0 4.0,0a2.0,2.0 0 1,0 -4.0,0zM501.84,101.05a2.0,2.0 0 1,0 4.0,0a2.0,2.0 0 1,0 -4.0,0zM503.72,102.45a2.0,2.0 0 1,0 4.0,0a2.0,2.0 0 1,0 -4.0,0zM505.6,104.08a2.0,2.0 0 1,0 4.0,0a2.0,2.0 0 1,0 -4.0,0zM507.48,105.91a2.0,2.0 0 1,0 4.0,0a2.0,2.0 0 1,0 -4.0,0zM509.36,108.03a2.0,2.0 0 1,0 4.0,0a2.0,2.0 0 1,0 -4.0,0zM511.24,110.78a2.0,2.0 0 1,0 4.0,0a2.0,2.0 0 1,0 -4.0,0zM513.12,114a2.0,2.0 0 1,0 4.0,0a2.0,2.0 0 1,0 -4.0,0z" fill="#8a94ff" stroke="#0010c8" stroke-width="0.6"/>
<path d="M515.65,117.46a1.35,1.35 0 1,0 2.7,0a1.35,1.35 0 1,0 -2.7,0zM517.53,121.2a1.35,1.35 0 1,0 2.7,0a1.35,1.35 0 1,0 -2.7,0zM519.41,125.27a1.35,1.35 0 1,0 2.7,0a1.35,1.35 0 1,0 -2.7,0zM521.29,129.54a1.35,1.35 0 1,0 2.7,0a1.35,1.35 0 1,0 -2.7,0zM523.17,133.83a1.35,1.35 0 1,0 2.7,0a1.35,1.35 0 1,0 -2.7,0zM525.05,138.12a1.35,1.35 0 1,0 2.7,0a1.35,1.35 0 1,0 -2.7,0zM526.93,142.23a1.35,1.35 0 1,0 2.7,0a1.35,1.35 0 1,0 -2.7,0zM528.81,145.31a1.35,1.35 0 1,0 2.7,0a1.35,1.35 0 1,0 -2.7,0zM530.69,147.06a1.35,1.35 0 1,0 2.7,0a1.35,1.35 0 1,0 -2.7,0zM532.57,150.37a1.35,1.35 0 1,0 2.7,0a1.35,1.35 0 1,0 -2.7,0zM534.45,155.92a1.35,1.35 0 1,0 2.7,0a1.35,1.35 0 1,0 -2.7,0z" fill="#4a5aff" stroke="#0010c8" stroke-width="0.6"/>
<path d="M628.45,150.78a1.35,1.35 0 1,0 2.7,0a1.35,1.35 0 1,0 -2.7,0zM630.33,147.18a1.35,1.35 0 1,0 2.7,0a1.35,1.35 0 1,0 -2.7,0zM632.21,140.94a1.35,1.35 0 1,0 2.7,0a1.35,1.35 0 1,0 -2.7,0zM634.09,130.92a1.35,1.35 0 1,0 2.7,0a1.35,1.35 0 1,0 -2.7,0zM635.97,118.54a1.35,1.35 0 1,0 2.7,0a1.35,1.35 0 1,0 -2.7,0zM637.85,106.79a1.35,1.35 0 1,0 2.7,0a1.35,1.35 0 1,0 -2.7,0zM639.73,100.5a1.35,1.35 0 1,0 2.7,0a1.35,1.35 0 1,0 -2.7,0zM641.61,98.23a1.35,1.35 0 1,0 2.7,0a1.35,1.35 0 1,0 -2.7,0zM643.49,101.8a1.35,1.35 0 1,0 2.7,0a1.35,1.35 0 1,0 -2.7,0zM645.37,107.09a1.35,1.35 0 1,0 2.7,0a1.35,1.35 0 1,0 -2.7,0zM647.25,111.94a1.35,1.35 0 1,0 2.7,0a1.35,1.35 0 1,0 -2.7,0zM649.13,122.33a1.35,1.35 0 1,0 2.7,0a1.35,1.35 0 1,0 -2.7,0zM651.01,135.01a1.35,1.35 0 1,0 2.7,0a1.35,1.35 0 1,0 -2.7,0zM652.89,145.09a1.35,1.35 0 1,0 2.7,0a1.35,1.35 0 1,0 -2.7,0zM654.77,155.36a1.35,1.35 0 1,0 2.7,0a1.35,1.35 0 1,0 -2.7,0z" fill="#4a5aff" stroke="#0010c8" stroke-width="0.6"/>
<path d="M521.44,156.66a1.2,1.2 0 1,0 2.4,0a1.2,1.2 0 1,0 -2.4,0zM523.32,155.18a1.2,1.2 0 1,0 2.4,0a1.2,1.2 0 1,0 -2.4,0zM525.2,153.24a1.2,1.2 0 1,0 2.4,0a1.2,1.2 0 1,0 -2.4,0zM527.08,148.91a1.2,1.2 0 1,0 2.4,0a1.2,1.2 0 1,0 -2.4,0z" fill="#4a5aff" stroke="#0010c8" stroke-width="0.6"/>
<path d="M492.2,98.2C493.78,98.47 498.65,98.33 501.7,99.8C504.75,101.27 508.12,104.38 510.5,107C512.88,109.62 514.5,112.92 516,115.5C517.5,118.08 518.25,119.83 519.5,122.5C520.75,125.17 522.28,128.75 523.5,131.5C524.72,134.25 525.8,136.83 526.8,139C527.8,141.17 528.63,143.17 529.5,144.5C530.37,145.83 531.2,145.87 532,147C532.8,148.13 533.53,149.32 534.3,151.3C535.07,153.28 536.08,156.78 536.6,158.9C537.12,161.02 537.27,163.15 537.4,164" fill="none" stroke="#222" stroke-width="0.8"/>
<path d="M623.3,157.5C624.13,156.8 626.77,155.38 628.3,153.3C629.83,151.22 631.28,148.88 632.5,145C633.72,141.12 634.58,135.83 635.6,130C636.62,124.17 637.78,114.67 638.6,110C639.42,105.33 639.82,103.97 640.5,102C641.18,100.03 642.03,98.37 642.7,98.2C643.37,98.03 643.9,99.7 644.5,101C645.1,102.3 645.5,103.73 646.3,106C647.1,108.27 648.42,110.5 649.3,114.6C650.18,118.7 650.73,125.28 651.6,130.6C652.47,135.92 653.48,140.93 654.5,146.5C655.52,152.07 657.17,161.08 657.7,164" fill="none" stroke="#222" stroke-width="0.8"/>
</g>
<g font-size="11" text-anchor="end">
<text x="261.3" y="14.3">2</text>
<text x="261.3" y="53.65">1</text>
<text x="261.3" y="91.4">0</text>
<text x="261.3" y="129.15">-1</text>
<text x="261.3" y="165.5">-2</text>
</g>
<g font-size="11" text-anchor="end">
<text x="489.2" y="14.3">2</text>
<text x="489.2" y="53.65">1</text>
<text x="489.2" y="91.4">0</text>
<text x="489.2" y="129.15">-1</text>
<text x="489.2" y="165.5">-2</text>
</g>
<g font-size="12" text-anchor="middle"><text x="265.6" y="174.7">Γ</text><text x="302.6" y="174.7">X</text><text x="339.6" y="174.7">M</text><text x="376.5" y="174.7">Y</text><text x="413.6" y="174.7">Γ</text><text x="450.1" y="174.7">M</text></g>
<g font-size="12" text-anchor="middle"><text x="493.2" y="175.2">Γ</text><text x="530.5" y="175.2">X</text><text x="567.5" y="175.2">M</text><text x="605.8" y="175.2">Y</text><text x="642.2" y="175.2">Γ</text><text x="677" y="175.2">M</text></g>
<text transform="translate(247.2,85.6) rotate(-90)" font-size="11.2" text-anchor="middle">Energy (eV)</text>
<text transform="translate(475.2,85.6) rotate(-90)" font-size="11.2" text-anchor="middle">Energy (eV)</text>
<text x="344" y="40.8" font-size="10.5">MnNF</text>
<text x="570.3" y="41" font-size="10.5">MnNCl</text>
<line x1="269.8" y1="70" x2="281.94" y2="73.11" stroke="#ff0000" stroke-width="0.9"/><path d="M286.2,74.2L281.42,75.14L282.46,71.07z" fill="#ff0000"/>
<line x1="270.3" y1="95.5" x2="282.04" y2="93.82" stroke="#0000ff" stroke-width="0.9"/><path d="M286.4,93.2L282.34,95.9L281.75,91.74z" fill="#0000ff"/>
<line x1="517.3" y1="77.7" x2="528.51" y2="80.3" stroke="#ff0000" stroke-width="0.9"/><path d="M532.8,81.3L528.04,82.35L528.99,78.26z" fill="#ff0000"/>
<line x1="505" y1="97.6" x2="512.62" y2="96.84" stroke="#0000ff" stroke-width="0.9"/><path d="M517,96.4L512.83,98.93L512.41,94.75z" fill="#0000ff"/>
<text x="287.8" y="77.6" font-size="10">Mn: <tspan font-style="italic">d</tspan><tspan font-size="6" font-style="italic" dy="2">x</tspan><tspan font-size="4.5" dy="-2.5">2</tspan><tspan font-size="6" dy="2.5">-</tspan><tspan font-size="6" font-style="italic">y</tspan><tspan font-size="4.5" dy="-2.5">2</tspan></text>
<text x="287.6" y="96.6" font-size="10">N: <tspan font-style="italic">p</tspan><tspan font-size="7" font-style="italic" dy="2">y</tspan></text>
<text x="534.6" y="85.3" font-size="10">Mn: <tspan font-style="italic">d</tspan><tspan font-size="6" font-style="italic" dy="2">x</tspan><tspan font-size="4.5" dy="-2.5">2</tspan><tspan font-size="6" dy="2.5">-</tspan><tspan font-size="6" font-style="italic">y</tspan><tspan font-size="4.5" dy="-2.5">2</tspan></text>
<text x="517.8" y="100.6" font-size="10">N: <tspan font-style="italic">p</tspan><tspan font-size="7" font-style="italic" dy="2">y</tspan></text>
<path d="M264.3,190.5H452.7V341.4" fill="none" stroke="#9a9a9a" stroke-width="1"/>
<path d="M264.3,190.5V341.4H452.7" fill="none" stroke="#444" stroke-width="1"/>
<line x1="301.8" y1="190.5" x2="301.8" y2="341.4" stroke="#8a8a8a" stroke-width="0.7" stroke-dasharray="1,1.2"/>
<line x1="339.5" y1="190.5" x2="339.5" y2="341.4" stroke="#8a8a8a" stroke-width="0.7" stroke-dasharray="1,1.2"/>
<line x1="377.0" y1="190.5" x2="377.0" y2="341.4" stroke="#8a8a8a" stroke-width="0.7" stroke-dasharray="1,1.2"/>
<line x1="414.8" y1="190.5" x2="414.8" y2="341.4" stroke="#8a8a8a" stroke-width="0.7" stroke-dasharray="1,1.2"/>
<path d="M264.3,215.6h3.5M264.3,265.9h3.5M264.3,316.2h3.5M264.3,336.32h2M264.3,326.26h2M264.3,306.14h2M264.3,296.08h2M264.3,286.02h2M264.3,275.96h2M264.3,255.84h2M264.3,245.78h2M264.3,235.72h2M264.3,225.66h2M264.3,205.54h2M264.3,195.48h2" stroke="#444" stroke-width="1" fill="none"/>
<path d="M301.8,341.4v-2.5M339.5,341.4v-2.5M377,341.4v-2.5M414.8,341.4v-2.5" stroke="#444" stroke-width="1"/>
<g clip-path="url(#ce)" fill="none" stroke="#333" stroke-width="0.8">
<path d="M264.3,267.6C264.62,267.48 265.57,267.2 266.2,266.9C266.83,266.6 267.38,266.4 268.1,265.8C268.82,265.2 269.6,264.25 270.5,263.3C271.4,262.35 272.5,261.15 273.5,260.1C274.5,259.05 275.45,257.98 276.5,257C277.55,256.02 278.8,254.93 279.8,254.2C280.8,253.47 281.72,252.97 282.5,252.6C283.28,252.23 283.65,252.43 284.5,252C285.35,251.57 286.6,251.17 287.6,250C288.6,248.83 289.58,246.82 290.5,245C291.42,243.18 291.73,242.12 293.1,239.1C294.47,236.08 297.3,230.67 298.7,226.9C300.1,223.13 300.62,220.32 301.5,216.5C302.38,212.68 303.15,208.5 304,204C304.85,199.5 306.17,191.92 306.6,189.5"/>
<path d="M264.3,264C264.62,264.1 265.57,264.3 266.2,264.6C266.83,264.9 267.38,265.13 268.1,265.8C268.82,266.47 269.72,267.6 270.5,268.6C271.28,269.6 272.08,270.7 272.8,271.8C273.52,272.9 273.93,273.25 274.8,275.2C275.67,277.15 276.9,280.12 278,283.5C279.1,286.88 280.32,291.67 281.4,295.5C282.48,299.33 283.5,302.75 284.5,306.5C285.5,310.25 286.48,314.17 287.4,318C288.32,321.83 289.17,325.42 290,329.5C290.83,333.58 292,340.33 292.4,342.5"/>
<path d="M264.3,317.3C265.13,317.9 267.67,319.08 269.3,320.9C270.93,322.72 272.67,324.6 274.1,328.2C275.53,331.8 277.27,340.12 277.9,342.5"/>
<path d="M271.5,342.5C271.75,341.75 272.37,339.02 273,338C273.63,336.98 274.55,336.4 275.3,336.4C276.05,336.4 276.85,336.98 277.5,338C278.15,339.02 278.92,341.75 279.2,342.5"/>
<path d="M274,189.5C274.42,190.92 275.67,194.92 276.5,198C277.33,201.08 278.17,204.83 279,208C279.83,211.17 280.63,214.6 281.5,217C282.37,219.4 283.28,222.07 284.2,222.4C285.12,222.73 286.12,220.9 287,219C287.88,217.1 288.67,213.67 289.5,211C290.33,208.33 291.22,204.98 292,203C292.78,201.02 293.45,199.1 294.2,199.1C294.95,199.1 295.7,201.18 296.5,203C297.3,204.82 298.17,207.75 299,210C299.83,212.25 301.08,215.42 301.5,216.5"/>
<path d="M280.7,189.5C280.97,190.75 281.62,194.75 282.3,197C282.98,199.25 283.93,202.67 284.8,203C285.67,203.33 286.57,201.25 287.5,199C288.43,196.75 289.92,191.08 290.4,189.5"/>
<path d="M292.9,189.5C293.22,190.32 294.18,194.4 294.8,194.4C295.42,194.4 296.3,190.32 296.6,189.5"/>
<path d="M264.3,192.4C264.55,192.17 265.25,191.48 265.8,191C266.35,190.52 267.3,189.75 267.6,189.5"/>
<path d="M403.9,189.5C404.25,191.75 405.35,198.75 406,203C406.65,207.25 406.97,208.83 407.8,215C408.63,221.17 410.1,233.17 411,240C411.9,246.83 412.67,252.33 413.2,256C413.73,259.67 413.9,260.63 414.2,262C414.5,263.37 414.73,264.2 415,264.2C415.27,264.2 415.5,263.37 415.8,262C416.1,260.63 416.27,259.67 416.8,256C417.33,252.33 418.1,246.83 419,240C419.9,233.17 421.37,221.17 422.2,215C423.03,208.83 423.5,207.25 424,203C424.5,198.75 425,191.75 425.2,189.5"/>
<path d="M413,189.5C413.27,190.15 414.07,193.4 414.6,193.4C415.13,193.4 415.93,190.15 416.2,189.5"/>
<path d="M381.5,342.5C382,340.92 383.42,335.92 384.5,333C385.58,330.08 386.75,327.42 388,325C389.25,322.58 390.72,319.97 392,318.5C393.28,317.03 394.37,316.2 395.7,316.2C397.03,316.2 398.78,317.37 400,318.5C401.22,319.63 402.1,321.37 403,323C403.9,324.63 404.73,328.3 405.4,328.3C406.07,328.3 406.53,325.05 407,323C407.47,320.95 407.77,319.28 408.2,316C408.63,312.72 409.13,307.63 409.6,303.3C410.07,298.97 410.55,294.05 411,290C411.45,285.95 411.88,282.08 412.3,279C412.72,275.92 413.1,273.23 413.5,271.5C413.9,269.77 414.28,268.6 414.7,268.6C415.12,268.6 415.57,269.77 416,271.5C416.43,273.23 416.88,275.92 417.3,279C417.72,282.08 418.13,286.5 418.5,290C418.87,293.5 419.17,296.67 419.5,300C419.83,303.33 420.07,306.55 420.5,310C420.93,313.45 421.52,319.95 422.1,320.7C422.68,321.45 423.3,316.05 424,314.5C424.7,312.95 425.55,311.23 426.3,311.4C427.05,311.57 427.83,313.07 428.5,315.5C429.17,317.93 429.8,322.75 430.3,326C430.8,329.25 431.15,332.25 431.5,335C431.85,337.75 432.25,341.25 432.4,342.5"/>
<path d="M405.8,342.5C405.97,341.42 406.52,337.43 406.8,336C407.08,334.57 407.2,333.9 407.5,333.9C407.8,333.9 408.23,335.15 408.6,336C408.97,336.85 409.22,340 409.7,339C410.18,338 410.95,332.75 411.5,330C412.05,327.25 412.52,324.28 413,322.5C413.48,320.72 413.93,319.22 414.4,319.3C414.87,319.38 415.37,320.88 415.8,323C416.23,325.12 416.65,329.27 417,332C417.35,334.73 417.57,338.9 417.9,339.4C418.23,339.9 418.53,336.33 419,335C419.47,333.67 420.23,331.57 420.7,331.4C421.17,331.23 421.45,332.15 421.8,334C422.15,335.85 422.63,341.08 422.8,342.5"/>
</g>
<g font-size="11.8" text-anchor="end">
<text x="260" y="219.5">0.5</text>
<text x="260" y="269.8">0.0</text>
<text x="260" y="320.1">-0.5</text>
</g>
<g font-size="12" text-anchor="middle"><text x="266.6" y="353.9">Γ</text><text x="302.4" y="353.9">X</text><text x="339.5" y="353.9">M</text><text x="374.6" y="353.9">Y</text><text x="412.5" y="353.9">Γ</text><text x="449.5" y="353.9">M</text></g>
<text transform="translate(239.4,263.9) rotate(-90)" font-size="12.2" text-anchor="middle">Energy (eV)</text>
<rect x="313.4" y="233.2" width="82.60000000000002" height="66.80000000000001" fill="#fff" stroke="#999" stroke-width="1"/>
<path d="M328.3,233.2C329.25,234.25 332.05,237.45 334,239.5C335.95,241.55 338,243.5 340,245.5C342,247.5 344.17,249.67 346,251.5C347.83,253.33 349.5,255.22 351,256.5C352.5,257.78 353.67,258.95 355,259.2C356.33,259.45 357.5,258.87 359,258C360.5,257.13 362.17,255.5 364,254C365.83,252.5 367.83,250.75 370,249C372.17,247.25 374.58,245.38 377,243.5C379.42,241.62 383.25,238.67 384.5,237.7" fill="none" stroke="#333" stroke-width="0.9"/>
<path d="M325,285C325.83,284.42 328.33,282.67 330,281.5C331.67,280.33 333.33,279.17 335,278C336.67,276.83 338.33,275.75 340,274.5C341.67,273.25 343.5,271.67 345,270.5C346.5,269.33 347.72,268.2 349,267.5C350.28,266.8 351.53,266.22 352.7,266.3C353.87,266.38 354.78,267.05 356,268C357.22,268.95 358.5,270.5 360,272C361.5,273.5 363.33,275.25 365,277C366.67,278.75 368.33,280.58 370,282.5C371.67,284.42 373.33,286.58 375,288.5C376.67,290.42 378.45,292.37 380,294C381.55,295.63 383.58,297.58 384.3,298.3" fill="none" stroke="#333" stroke-width="0.9"/>
<text x="360.3" y="267.8" font-size="10.5">0.5 meV</text>
<path d="M491.8,189.4H680.2V340.29999999999995" fill="none" stroke="#9a9a9a" stroke-width="1"/>
<path d="M491.8,189.4V340.29999999999995H680.2" fill="none" stroke="#444" stroke-width="1"/>
<line x1="529.3" y1="189.4" x2="529.3" y2="340.29999999999995" stroke="#8a8a8a" stroke-width="0.7" stroke-dasharray="1,1.2"/>
<line x1="567.0" y1="189.4" x2="567.0" y2="340.29999999999995" stroke="#8a8a8a" stroke-width="0.7" stroke-dasharray="1,1.2"/>
<line x1="604.5" y1="189.4" x2="604.5" y2="340.29999999999995" stroke="#8a8a8a" stroke-width="0.7" stroke-dasharray="1,1.2"/>
<line x1="642.3" y1="189.4" x2="642.3" y2="340.29999999999995" stroke="#8a8a8a" stroke-width="0.7" stroke-dasharray="1,1.2"/>
<path d="M491.8,214.5h3.5M491.8,264.8h3.5M491.8,315.1h3.5M491.8,335.22h2M491.8,325.16h2M491.8,305.04h2M491.8,294.98h2M491.8,284.92h2M491.8,274.86h2M491.8,254.74h2M491.8,244.68h2M491.8,234.62h2M491.8,224.56h2M491.8,204.44h2M491.8,194.38h2" stroke="#444" stroke-width="1" fill="none"/>
<path d="M529.3,340.29999999999995v-2.5M567,340.29999999999995v-2.5M604.5,340.29999999999995v-2.5M642.3,340.29999999999995v-2.5" stroke="#444" stroke-width="1"/>
<g clip-path="url(#cf)" fill="none" stroke="#333" stroke-width="0.8">
<path d="M491.8,266.5C492.12,266.38 493.07,266.1 493.7,265.8C494.33,265.5 494.88,265.3 495.6,264.7C496.32,264.1 497.1,263.15 498,262.2C498.9,261.25 500,260.05 501,259C502,257.95 502.95,256.88 504,255.9C505.05,254.92 506.3,253.83 507.3,253.1C508.3,252.37 509.22,251.87 510,251.5C510.78,251.13 511.15,251.33 512,250.9C512.85,250.47 514.1,250.07 515.1,248.9C516.1,247.73 517.08,245.72 518,243.9C518.92,242.08 519.23,241.02 520.6,238C521.97,234.98 524.8,229.57 526.2,225.8C527.6,222.03 528.12,219.22 529,215.4C529.88,211.58 530.65,207.4 531.5,202.9C532.35,198.4 533.67,190.82 534.1,188.4"/>
<path d="M491.8,262.9C492.12,263 493.07,263.2 493.7,263.5C494.33,263.8 494.88,264.03 495.6,264.7C496.32,265.37 497.22,266.5 498,267.5C498.78,268.5 499.58,269.6 500.3,270.7C501.02,271.8 501.43,272.15 502.3,274.1C503.17,276.05 504.4,279.02 505.5,282.4C506.6,285.78 507.82,290.57 508.9,294.4C509.98,298.23 511,301.65 512,305.4C513,309.15 513.98,313.07 514.9,316.9C515.82,320.73 516.67,324.32 517.5,328.4C518.33,332.48 519.5,339.23 519.9,341.4"/>
<path d="M491.8,316.2C492.63,316.8 495.17,317.98 496.8,319.8C498.43,321.62 500.17,323.5 501.6,327.1C503.03,330.7 504.77,339.02 505.4,341.4"/>
<path d="M499,341.4C499.25,340.65 499.87,337.92 500.5,336.9C501.13,335.88 502.05,335.3 502.8,335.3C503.55,335.3 504.35,335.88 505,336.9C505.65,337.92 506.42,340.65 506.7,341.4"/>
<path d="M501.5,188.4C501.92,189.82 503.17,193.82 504,196.9C504.83,199.98 505.67,203.73 506.5,206.9C507.33,210.07 508.13,213.5 509,215.9C509.87,218.3 510.78,220.97 511.7,221.3C512.62,221.63 513.62,219.8 514.5,217.9C515.38,216 516.17,212.57 517,209.9C517.83,207.23 518.72,203.88 519.5,201.9C520.28,199.92 520.95,198 521.7,198C522.45,198 523.2,200.08 524,201.9C524.8,203.72 525.67,206.65 526.5,208.9C527.33,211.15 528.58,214.32 529,215.4"/>
<path d="M508.2,188.4C508.47,189.65 509.12,193.65 509.8,195.9C510.48,198.15 511.43,201.57 512.3,201.9C513.17,202.23 514.07,200.15 515,197.9C515.93,195.65 517.42,189.98 517.9,188.4"/>
<path d="M520.4,188.4C520.72,189.22 521.68,193.3 522.3,193.3C522.92,193.3 523.8,189.22 524.1,188.4"/>
<path d="M491.8,191.3C492.05,191.07 492.75,190.38 493.3,189.9C493.85,189.42 494.8,188.65 495.1,188.4"/>
<path d="M631.4,188.4C631.75,190.65 632.85,197.65 633.5,201.9C634.15,206.15 634.47,207.73 635.3,213.9C636.13,220.07 637.6,232.07 638.5,238.9C639.4,245.73 640.17,251.23 640.7,254.9C641.23,258.57 641.4,259.53 641.7,260.9C642,262.27 642.23,263.1 642.5,263.1C642.77,263.1 643,262.27 643.3,260.9C643.6,259.53 643.77,258.57 644.3,254.9C644.83,251.23 645.6,245.73 646.5,238.9C647.4,232.07 648.87,220.07 649.7,213.9C650.53,207.73 651,206.15 651.5,201.9C652,197.65 652.5,190.65 652.7,188.4"/>
<path d="M640.5,188.4C640.77,189.05 641.57,192.3 642.1,192.3C642.63,192.3 643.43,189.05 643.7,188.4"/>
<path d="M609,341.4C609.5,339.82 610.92,334.82 612,331.9C613.08,328.98 614.25,326.32 615.5,323.9C616.75,321.48 618.22,318.87 619.5,317.4C620.78,315.93 621.87,315.1 623.2,315.1C624.53,315.1 626.28,316.27 627.5,317.4C628.72,318.53 629.6,320.27 630.5,321.9C631.4,323.53 632.23,327.2 632.9,327.2C633.57,327.2 634.03,323.95 634.5,321.9C634.97,319.85 635.27,318.18 635.7,314.9C636.13,311.62 636.63,306.53 637.1,302.2C637.57,297.87 638.05,292.95 638.5,288.9C638.95,284.85 639.38,280.98 639.8,277.9C640.22,274.82 640.6,272.13 641,270.4C641.4,268.67 641.78,267.5 642.2,267.5C642.62,267.5 643.07,268.67 643.5,270.4C643.93,272.13 644.38,274.82 644.8,277.9C645.22,280.98 645.63,285.4 646,288.9C646.37,292.4 646.67,295.57 647,298.9C647.33,302.23 647.57,305.45 648,308.9C648.43,312.35 649.02,318.85 649.6,319.6C650.18,320.35 650.8,314.95 651.5,313.4C652.2,311.85 653.05,310.13 653.8,310.3C654.55,310.47 655.33,311.97 656,314.4C656.67,316.83 657.3,321.65 657.8,324.9C658.3,328.15 658.65,331.15 659,333.9C659.35,336.65 659.75,340.15 659.9,341.4"/>
<path d="M633.3,341.4C633.47,340.32 634.02,336.33 634.3,334.9C634.58,333.47 634.7,332.8 635,332.8C635.3,332.8 635.73,334.05 636.1,334.9C636.47,335.75 636.72,338.9 637.2,337.9C637.68,336.9 638.45,331.65 639,328.9C639.55,326.15 640.02,323.18 640.5,321.4C640.98,319.62 641.43,318.12 641.9,318.2C642.37,318.28 642.87,319.78 643.3,321.9C643.73,324.02 644.15,328.17 644.5,330.9C644.85,333.63 645.07,337.8 645.4,338.3C645.73,338.8 646.03,335.23 646.5,333.9C646.97,332.57 647.73,330.47 648.2,330.3C648.67,330.13 648.95,331.05 649.3,332.9C649.65,334.75 650.13,339.98 650.3,341.4"/>
</g>
<g font-size="11.8" text-anchor="end">
<text x="487.5" y="218.4">0.5</text>
<text x="487.5" y="268.7">0.0</text>
<text x="487.5" y="319">-0.5</text>
</g>
<g font-size="12" text-anchor="middle"><text x="495.6" y="351.8">Γ</text><text x="531.6" y="351.8">X</text><text x="568.7" y="351.8">M</text><text x="604" y="351.8">Y</text><text x="641.9" y="351.8">Γ</text><text x="679.3" y="351.8">M</text></g>
<text transform="translate(466.9,262.8) rotate(-90)" font-size="12.2" text-anchor="middle">Energy (eV)</text>
<rect x="542.3" y="229.9" width="83.70000000000005" height="66.6" fill="#fff" stroke="#999" stroke-width="1"/>
<path d="M555,254.3C556,254.45 559,254.83 561,255.2C563,255.57 565,256.1 567,256.5C569,256.9 571.33,257.25 573,257.6C574.67,257.95 575.83,258.38 577,258.6C578.17,258.82 579,259.17 580,258.9C581,258.63 582,257.82 583,257C584,256.18 584.5,255.42 586,254C587.5,252.58 589.67,250.5 592,248.5C594.33,246.5 597.33,244.17 600,242C602.67,239.83 605.43,237.52 608,235.5C610.57,233.48 614.17,230.83 615.4,229.9" fill="none" stroke="#333" stroke-width="0.9"/>
<path d="M555,267.2C556,267.1 559,266.8 561,266.6C563,266.4 565,266.23 567,266C569,265.77 571.33,265.47 573,265.2C574.67,264.93 575.83,264.53 577,264.4C578.17,264.27 579,264.13 580,264.4C581,264.67 582,265.3 583,266C584,266.7 584.5,267.18 586,268.6C587.5,270.02 590,272.35 592,274.5C594,276.65 596,279.17 598,281.5C600,283.83 601.92,286 604,288.5C606.08,291 609.42,295.17 610.5,296.5" fill="none" stroke="#333" stroke-width="0.9"/>
<text x="589.2" y="265.4" font-size="10.5">6.0 meV</text>
<line x1="272.9" y1="266.3" x2="293.2" y2="266.3" stroke="#1a3ad0" stroke-width="1.6"/><path d="M297.6,266.3L293.2,268.4L293.2,264.2z" fill="#1a3ad0"/>
<line x1="503.3" y1="264.5" x2="524.9" y2="263.67" stroke="#1a3ad0" stroke-width="1.6"/><path d="M529.3,263.5L524.98,265.77L524.82,261.57z" fill="#1a3ad0"/>
<line x1="13.8" y1="253.9" x2="11.55" y2="248" stroke="#a0189a" stroke-width="1.5"/><line x1="11.55" y1="248" x2="9.3" y2="242.1" stroke="#b4b9d2" stroke-width="1.5"/>
<line x1="21.55" y1="249.45" x2="19.3" y2="243.55" stroke="#a0189a" stroke-width="1.5"/><line x1="19.3" y1="243.55" x2="17.05" y2="237.65" stroke="#b4b9d2" stroke-width="1.5"/>
<line x1="29.3" y1="245" x2="27.05" y2="239.1" stroke="#a0189a" stroke-width="1.5"/><line x1="27.05" y1="239.1" x2="24.8" y2="233.2" stroke="#b4b9d2" stroke-width="1.5"/>
<line x1="37.05" y1="240.55" x2="34.8" y2="234.65" stroke="#a0189a" stroke-width="1.5"/><line x1="34.8" y1="234.65" x2="32.55" y2="228.75" stroke="#b4b9d2" stroke-width="1.5"/>
<line x1="44.8" y1="236.1" x2="42.55" y2="230.2" stroke="#a0189a" stroke-width="1.5"/><line x1="42.55" y1="230.2" x2="40.3" y2="224.3" stroke="#b4b9d2" stroke-width="1.5"/>
<line x1="13.8" y1="253.9" x2="11.9" y2="261.1" stroke="#a0189a" stroke-width="1.5"/><line x1="11.9" y1="261.1" x2="10" y2="268.3" stroke="#b4b9d2" stroke-width="1.5"/>
<line x1="21.55" y1="249.45" x2="19.65" y2="256.65" stroke="#a0189a" stroke-width="1.5"/><line x1="19.65" y1="256.65" x2="17.75" y2="263.85" stroke="#b4b9d2" stroke-width="1.5"/>
<line x1="29.3" y1="245" x2="27.4" y2="252.2" stroke="#a0189a" stroke-width="1.5"/><line x1="27.4" y1="252.2" x2="25.5" y2="259.4" stroke="#b4b9d2" stroke-width="1.5"/>
<line x1="37.05" y1="240.55" x2="35.15" y2="247.75" stroke="#a0189a" stroke-width="1.5"/><line x1="35.15" y1="247.75" x2="33.25" y2="254.95" stroke="#b4b9d2" stroke-width="1.5"/>
<line x1="44.8" y1="236.1" x2="42.9" y2="243.3" stroke="#a0189a" stroke-width="1.5"/><line x1="42.9" y1="243.3" x2="41" y2="250.5" stroke="#b4b9d2" stroke-width="1.5"/>
<circle cx="9.3" cy="242.1" r="2.5" fill="url(#gF)"/>
<circle cx="17.05" cy="237.65" r="2.5" fill="url(#gF)"/>
<circle cx="24.8" cy="233.2" r="2.5" fill="url(#gF)"/>
<circle cx="32.55" cy="228.75" r="2.5" fill="url(#gF)"/>
<circle cx="40.3" cy="224.3" r="2.5" fill="url(#gF)"/>
<circle cx="13.8" cy="253.9" r="5.7" fill="url(#gMn)"/>
<circle cx="21.55" cy="249.45" r="5.7" fill="url(#gMn)"/>
<circle cx="29.3" cy="245" r="5.7" fill="url(#gMn)"/>
<circle cx="37.05" cy="240.55" r="5.7" fill="url(#gMn)"/>
<circle cx="44.8" cy="236.1" r="5.7" fill="url(#gMn)"/>
<circle cx="10" cy="268.3" r="2.7" fill="url(#gF)"/>
<circle cx="17.75" cy="263.85" r="2.7" fill="url(#gF)"/>
<circle cx="25.5" cy="259.4" r="2.7" fill="url(#gF)"/>
<circle cx="33.25" cy="254.95" r="2.7" fill="url(#gF)"/>
<circle cx="41" cy="250.5" r="2.7" fill="url(#gF)"/>
<line x1="16.8" y1="252.9" x2="23.3" y2="251.15" stroke="#a0189a" stroke-width="1.5"/><line x1="23.3" y1="251.15" x2="29.8" y2="249.4" stroke="#a7adcb" stroke-width="1.5"/>
<line x1="17.8" y1="254.9" x2="20.55" y2="255.4" stroke="#a0189a" stroke-width="1.4"/><line x1="20.55" y1="255.4" x2="23.3" y2="255.9" stroke="#b2b8d2" stroke-width="1.4"/>
<line x1="23.3" y1="255.9" x2="35.3" y2="252.9" stroke="#afb5d0" stroke-width="1.4"/>
<line x1="29.8" y1="249.4" x2="35.3" y2="252.9" stroke="#a7adcb" stroke-width="1.2"/>
<line x1="29.8" y1="249.4" x2="37.55" y2="244.95" stroke="#a7adcb" stroke-width="1.3"/>
<line x1="35.3" y1="252.9" x2="43.05" y2="248.45" stroke="#afb5d0" stroke-width="1.3"/>
<line x1="24.55" y1="248.45" x2="31.05" y2="246.7" stroke="#a0189a" stroke-width="1.5"/><line x1="31.05" y1="246.7" x2="37.55" y2="244.95" stroke="#a7adcb" stroke-width="1.5"/>
<line x1="25.55" y1="250.45" x2="28.3" y2="250.95" stroke="#a0189a" stroke-width="1.4"/><line x1="28.3" y1="250.95" x2="31.05" y2="251.45" stroke="#b2b8d2" stroke-width="1.4"/>
<line x1="31.05" y1="251.45" x2="43.05" y2="248.45" stroke="#afb5d0" stroke-width="1.4"/>
<line x1="37.55" y1="244.95" x2="43.05" y2="248.45" stroke="#a7adcb" stroke-width="1.2"/>
<line x1="37.55" y1="244.95" x2="45.3" y2="240.5" stroke="#a7adcb" stroke-width="1.3"/>
<line x1="43.05" y1="248.45" x2="50.8" y2="244" stroke="#afb5d0" stroke-width="1.3"/>
<line x1="32.3" y1="244" x2="38.8" y2="242.25" stroke="#a0189a" stroke-width="1.5"/><line x1="38.8" y1="242.25" x2="45.3" y2="240.5" stroke="#a7adcb" stroke-width="1.5"/>
<line x1="33.3" y1="246" x2="36.05" y2="246.5" stroke="#a0189a" stroke-width="1.4"/><line x1="36.05" y1="246.5" x2="38.8" y2="247" stroke="#b2b8d2" stroke-width="1.4"/>
<line x1="38.8" y1="247" x2="50.8" y2="244" stroke="#afb5d0" stroke-width="1.4"/>
<line x1="45.3" y1="240.5" x2="50.8" y2="244" stroke="#a7adcb" stroke-width="1.2"/>
<line x1="45.3" y1="240.5" x2="53.05" y2="236.05" stroke="#a7adcb" stroke-width="1.3"/>
<line x1="50.8" y1="244" x2="58.55" y2="239.55" stroke="#afb5d0" stroke-width="1.3"/>
<line x1="40.05" y1="239.55" x2="46.55" y2="237.8" stroke="#a0189a" stroke-width="1.5"/><line x1="46.55" y1="237.8" x2="53.05" y2="236.05" stroke="#a7adcb" stroke-width="1.5"/>
<line x1="41.05" y1="241.55" x2="43.8" y2="242.05" stroke="#a0189a" stroke-width="1.4"/><line x1="43.8" y1="242.05" x2="46.55" y2="242.55" stroke="#b2b8d2" stroke-width="1.4"/>
<line x1="46.55" y1="242.55" x2="58.55" y2="239.55" stroke="#afb5d0" stroke-width="1.4"/>
<line x1="53.05" y1="236.05" x2="58.55" y2="239.55" stroke="#a7adcb" stroke-width="1.2"/>
<line x1="53.05" y1="236.05" x2="60.8" y2="231.6" stroke="#a7adcb" stroke-width="1.3"/>
<line x1="58.55" y1="239.55" x2="66.3" y2="235.1" stroke="#afb5d0" stroke-width="1.3"/>
<line x1="47.8" y1="235.1" x2="54.3" y2="233.35" stroke="#a0189a" stroke-width="1.5"/><line x1="54.3" y1="233.35" x2="60.8" y2="231.6" stroke="#a7adcb" stroke-width="1.5"/>
<line x1="48.8" y1="237.1" x2="51.55" y2="237.6" stroke="#a0189a" stroke-width="1.4"/><line x1="51.55" y1="237.6" x2="54.3" y2="238.1" stroke="#b2b8d2" stroke-width="1.4"/>
<circle cx="29.8" cy="249.4" r="2.5" fill="url(#gF)"/>
<circle cx="23.3" cy="255.9" r="2.5" fill="url(#gF)"/>
<circle cx="35.3" cy="252.9" r="2.5" fill="url(#gF)"/>
<circle cx="37.55" cy="244.95" r="2.5" fill="url(#gF)"/>
<circle cx="31.05" cy="251.45" r="2.5" fill="url(#gF)"/>
<circle cx="43.05" cy="248.45" r="2.5" fill="url(#gF)"/>
<circle cx="45.3" cy="240.5" r="2.5" fill="url(#gF)"/>
<circle cx="38.8" cy="247" r="2.5" fill="url(#gF)"/>
<circle cx="50.8" cy="244" r="2.5" fill="url(#gF)"/>
<circle cx="53.05" cy="236.05" r="2.5" fill="url(#gF)"/>
<circle cx="46.55" cy="242.55" r="2.5" fill="url(#gF)"/>
<circle cx="58.55" cy="239.55" r="2.5" fill="url(#gF)"/>
<circle cx="60.8" cy="231.6" r="2.5" fill="url(#gF)"/>
<circle cx="54.3" cy="238.1" r="2.5" fill="url(#gF)"/>
<line x1="28.9" y1="239.4" x2="30.55" y2="245.3" stroke="#a0189a" stroke-width="1.5"/><line x1="30.55" y1="245.3" x2="32.2" y2="251.2" stroke="#b4b9d2" stroke-width="1.5"/>
<line x1="36.65" y1="234.95" x2="38.3" y2="240.85" stroke="#a0189a" stroke-width="1.5"/><line x1="38.3" y1="240.85" x2="39.95" y2="246.75" stroke="#b4b9d2" stroke-width="1.5"/>
<line x1="44.4" y1="230.5" x2="46.05" y2="236.4" stroke="#a0189a" stroke-width="1.5"/><line x1="46.05" y1="236.4" x2="47.7" y2="242.3" stroke="#b4b9d2" stroke-width="1.5"/>
<line x1="52.15" y1="226.05" x2="53.8" y2="231.95" stroke="#a0189a" stroke-width="1.5"/><line x1="53.8" y1="231.95" x2="55.45" y2="237.85" stroke="#b4b9d2" stroke-width="1.5"/>
<line x1="59.9" y1="221.6" x2="61.55" y2="227.5" stroke="#a0189a" stroke-width="1.5"/><line x1="61.55" y1="227.5" x2="63.2" y2="233.4" stroke="#b4b9d2" stroke-width="1.5"/>
<circle cx="32.2" cy="251.2" r="2.7" fill="url(#gF)"/>
<circle cx="39.95" cy="246.75" r="2.7" fill="url(#gF)"/>
<circle cx="47.7" cy="242.3" r="2.7" fill="url(#gF)"/>
<circle cx="55.45" cy="237.85" r="2.7" fill="url(#gF)"/>
<circle cx="63.2" cy="233.4" r="2.7" fill="url(#gF)"/>
<line x1="28.9" y1="239.4" x2="30.9" y2="231.2" stroke="#a0189a" stroke-width="1.5"/><line x1="30.9" y1="231.2" x2="32.9" y2="223" stroke="#b4b9d2" stroke-width="1.5"/>
<line x1="36.65" y1="234.95" x2="38.65" y2="226.75" stroke="#a0189a" stroke-width="1.5"/><line x1="38.65" y1="226.75" x2="40.65" y2="218.55" stroke="#b4b9d2" stroke-width="1.5"/>
<line x1="44.4" y1="230.5" x2="46.4" y2="222.3" stroke="#a0189a" stroke-width="1.5"/><line x1="46.4" y1="222.3" x2="48.4" y2="214.1" stroke="#b4b9d2" stroke-width="1.5"/>
<line x1="52.15" y1="226.05" x2="54.15" y2="217.85" stroke="#a0189a" stroke-width="1.5"/><line x1="54.15" y1="217.85" x2="56.15" y2="209.65" stroke="#b4b9d2" stroke-width="1.5"/>
<line x1="59.9" y1="221.6" x2="61.9" y2="213.4" stroke="#a0189a" stroke-width="1.5"/><line x1="61.9" y1="213.4" x2="63.9" y2="205.2" stroke="#b4b9d2" stroke-width="1.5"/>
<circle cx="32.9" cy="223" r="2.7" fill="url(#gF)"/>
<circle cx="40.65" cy="218.55" r="2.7" fill="url(#gF)"/>
<circle cx="48.4" cy="214.1" r="2.7" fill="url(#gF)"/>
<circle cx="56.15" cy="209.65" r="2.7" fill="url(#gF)"/>
<circle cx="63.9" cy="205.2" r="2.7" fill="url(#gF)"/>
<circle cx="28.9" cy="239.4" r="5.7" fill="url(#gMn)"/>
<circle cx="36.65" cy="234.95" r="5.7" fill="url(#gMn)"/>
<circle cx="44.4" cy="230.5" r="5.7" fill="url(#gMn)"/>
<circle cx="52.15" cy="226.05" r="5.7" fill="url(#gMn)"/>
<circle cx="59.9" cy="221.6" r="5.7" fill="url(#gMn)"/>
<line x1="53.55" y1="254.83" x2="51.3" y2="248.93" stroke="#a0189a" stroke-width="1.5"/><line x1="51.3" y1="248.93" x2="49.05" y2="243.03" stroke="#b4b9d2" stroke-width="1.5"/>
<line x1="61.3" y1="250.38" x2="59.05" y2="244.48" stroke="#a0189a" stroke-width="1.5"/><line x1="59.05" y1="244.48" x2="56.8" y2="238.58" stroke="#b4b9d2" stroke-width="1.5"/>
<line x1="69.05" y1="245.93" x2="66.8" y2="240.03" stroke="#a0189a" stroke-width="1.5"/><line x1="66.8" y1="240.03" x2="64.55" y2="234.13" stroke="#b4b9d2" stroke-width="1.5"/>
<line x1="76.8" y1="241.48" x2="74.55" y2="235.58" stroke="#a0189a" stroke-width="1.5"/><line x1="74.55" y1="235.58" x2="72.3" y2="229.68" stroke="#b4b9d2" stroke-width="1.5"/>
<line x1="84.55" y1="237.03" x2="82.3" y2="231.13" stroke="#a0189a" stroke-width="1.5"/><line x1="82.3" y1="231.13" x2="80.05" y2="225.23" stroke="#b4b9d2" stroke-width="1.5"/>
<line x1="53.55" y1="254.83" x2="51.65" y2="262.03" stroke="#a0189a" stroke-width="1.5"/><line x1="51.65" y1="262.03" x2="49.75" y2="269.23" stroke="#b4b9d2" stroke-width="1.5"/>
<line x1="61.3" y1="250.38" x2="59.4" y2="257.58" stroke="#a0189a" stroke-width="1.5"/><line x1="59.4" y1="257.58" x2="57.5" y2="264.78" stroke="#b4b9d2" stroke-width="1.5"/>
<line x1="69.05" y1="245.93" x2="67.15" y2="253.13" stroke="#a0189a" stroke-width="1.5"/><line x1="67.15" y1="253.13" x2="65.25" y2="260.33" stroke="#b4b9d2" stroke-width="1.5"/>
<line x1="76.8" y1="241.48" x2="74.9" y2="248.68" stroke="#a0189a" stroke-width="1.5"/><line x1="74.9" y1="248.68" x2="73" y2="255.88" stroke="#b4b9d2" stroke-width="1.5"/>
<line x1="84.55" y1="237.03" x2="82.65" y2="244.23" stroke="#a0189a" stroke-width="1.5"/><line x1="82.65" y1="244.23" x2="80.75" y2="251.43" stroke="#b4b9d2" stroke-width="1.5"/>
<circle cx="49.05" cy="243.03" r="2.5" fill="url(#gF)"/>
<circle cx="56.8" cy="238.58" r="2.5" fill="url(#gF)"/>
<circle cx="64.55" cy="234.13" r="2.5" fill="url(#gF)"/>
<circle cx="72.3" cy="229.68" r="2.5" fill="url(#gF)"/>
<circle cx="80.05" cy="225.23" r="2.5" fill="url(#gF)"/>
<circle cx="53.55" cy="254.83" r="5.7" fill="url(#gMn)"/>
<circle cx="61.3" cy="250.38" r="5.7" fill="url(#gMn)"/>
<circle cx="69.05" cy="245.93" r="5.7" fill="url(#gMn)"/>
<circle cx="76.8" cy="241.48" r="5.7" fill="url(#gMn)"/>
<circle cx="84.55" cy="237.03" r="5.7" fill="url(#gMn)"/>
<circle cx="49.75" cy="269.23" r="2.7" fill="url(#gF)"/>
<circle cx="57.5" cy="264.78" r="2.7" fill="url(#gF)"/>
<circle cx="65.25" cy="260.33" r="2.7" fill="url(#gF)"/>
<circle cx="73" cy="255.88" r="2.7" fill="url(#gF)"/>
<circle cx="80.75" cy="251.43" r="2.7" fill="url(#gF)"/>
<line x1="56.55" y1="253.83" x2="63.05" y2="252.08" stroke="#a0189a" stroke-width="1.5"/><line x1="63.05" y1="252.08" x2="69.55" y2="250.33" stroke="#a7adcb" stroke-width="1.5"/>
<line x1="57.55" y1="255.83" x2="60.3" y2="256.33" stroke="#a0189a" stroke-width="1.4"/><line x1="60.3" y1="256.33" x2="63.05" y2="256.83" stroke="#b2b8d2" stroke-width="1.4"/>
<line x1="63.05" y1="256.83" x2="75.05" y2="253.83" stroke="#afb5d0" stroke-width="1.4"/>
<line x1="69.55" y1="250.33" x2="75.05" y2="253.83" stroke="#a7adcb" stroke-width="1.2"/>
<line x1="69.55" y1="250.33" x2="77.3" y2="245.88" stroke="#a7adcb" stroke-width="1.3"/>
<line x1="75.05" y1="253.83" x2="82.8" y2="249.38" stroke="#afb5d0" stroke-width="1.3"/>
<line x1="64.3" y1="249.38" x2="70.8" y2="247.63" stroke="#a0189a" stroke-width="1.5"/><line x1="70.8" y1="247.63" x2="77.3" y2="245.88" stroke="#a7adcb" stroke-width="1.5"/>
<line x1="65.3" y1="251.38" x2="68.05" y2="251.88" stroke="#a0189a" stroke-width="1.4"/><line x1="68.05" y1="251.88" x2="70.8" y2="252.38" stroke="#b2b8d2" stroke-width="1.4"/>
<line x1="70.8" y1="252.38" x2="82.8" y2="249.38" stroke="#afb5d0" stroke-width="1.4"/>
<line x1="77.3" y1="245.88" x2="82.8" y2="249.38" stroke="#a7adcb" stroke-width="1.2"/>
<line x1="77.3" y1="245.88" x2="85.05" y2="241.43" stroke="#a7adcb" stroke-width="1.3"/>
<line x1="82.8" y1="249.38" x2="90.55" y2="244.93" stroke="#afb5d0" stroke-width="1.3"/>
<line x1="72.05" y1="244.93" x2="78.55" y2="243.18" stroke="#a0189a" stroke-width="1.5"/><line x1="78.55" y1="243.18" x2="85.05" y2="241.43" stroke="#a7adcb" stroke-width="1.5"/>
<line x1="73.05" y1="246.93" x2="75.8" y2="247.43" stroke="#a0189a" stroke-width="1.4"/><line x1="75.8" y1="247.43" x2="78.55" y2="247.93" stroke="#b2b8d2" stroke-width="1.4"/>
<line x1="78.55" y1="247.93" x2="90.55" y2="244.93" stroke="#afb5d0" stroke-width="1.4"/>
<line x1="85.05" y1="241.43" x2="90.55" y2="244.93" stroke="#a7adcb" stroke-width="1.2"/>
<line x1="85.05" y1="241.43" x2="92.8" y2="236.98" stroke="#a7adcb" stroke-width="1.3"/>
<line x1="90.55" y1="244.93" x2="98.3" y2="240.48" stroke="#afb5d0" stroke-width="1.3"/>
<line x1="79.8" y1="240.48" x2="86.3" y2="238.73" stroke="#a0189a" stroke-width="1.5"/><line x1="86.3" y1="238.73" x2="92.8" y2="236.98" stroke="#a7adcb" stroke-width="1.5"/>
<line x1="80.8" y1="242.48" x2="83.55" y2="242.98" stroke="#a0189a" stroke-width="1.4"/><line x1="83.55" y1="242.98" x2="86.3" y2="243.48" stroke="#b2b8d2" stroke-width="1.4"/>
<line x1="86.3" y1="243.48" x2="98.3" y2="240.48" stroke="#afb5d0" stroke-width="1.4"/>
<line x1="92.8" y1="236.98" x2="98.3" y2="240.48" stroke="#a7adcb" stroke-width="1.2"/>
<line x1="92.8" y1="236.98" x2="100.55" y2="232.53" stroke="#a7adcb" stroke-width="1.3"/>
<line x1="98.3" y1="240.48" x2="106.05" y2="236.03" stroke="#afb5d0" stroke-width="1.3"/>
<line x1="87.55" y1="236.03" x2="94.05" y2="234.28" stroke="#a0189a" stroke-width="1.5"/><line x1="94.05" y1="234.28" x2="100.55" y2="232.53" stroke="#a7adcb" stroke-width="1.5"/>
<line x1="88.55" y1="238.03" x2="91.3" y2="238.53" stroke="#a0189a" stroke-width="1.4"/><line x1="91.3" y1="238.53" x2="94.05" y2="239.03" stroke="#b2b8d2" stroke-width="1.4"/>
<circle cx="69.55" cy="250.33" r="2.5" fill="url(#gF)"/>
<circle cx="63.05" cy="256.83" r="2.5" fill="url(#gF)"/>
<circle cx="75.05" cy="253.83" r="2.5" fill="url(#gF)"/>
<circle cx="77.3" cy="245.88" r="2.5" fill="url(#gF)"/>
<circle cx="70.8" cy="252.38" r="2.5" fill="url(#gF)"/>
<circle cx="82.8" cy="249.38" r="2.5" fill="url(#gF)"/>
<circle cx="85.05" cy="241.43" r="2.5" fill="url(#gF)"/>
<circle cx="78.55" cy="247.93" r="2.5" fill="url(#gF)"/>
<circle cx="90.55" cy="244.93" r="2.5" fill="url(#gF)"/>
<circle cx="92.8" cy="236.98" r="2.5" fill="url(#gF)"/>
<circle cx="86.3" cy="243.48" r="2.5" fill="url(#gF)"/>
<circle cx="98.3" cy="240.48" r="2.5" fill="url(#gF)"/>
<circle cx="100.55" cy="232.53" r="2.5" fill="url(#gF)"/>
<circle cx="94.05" cy="239.03" r="2.5" fill="url(#gF)"/>
<line x1="68.65" y1="240.33" x2="70.3" y2="246.23" stroke="#a0189a" stroke-width="1.5"/><line x1="70.3" y1="246.23" x2="71.95" y2="252.13" stroke="#b4b9d2" stroke-width="1.5"/>
<line x1="76.4" y1="235.88" x2="78.05" y2="241.78" stroke="#a0189a" stroke-width="1.5"/><line x1="78.05" y1="241.78" x2="79.7" y2="247.68" stroke="#b4b9d2" stroke-width="1.5"/>
<line x1="84.15" y1="231.43" x2="85.8" y2="237.33" stroke="#a0189a" stroke-width="1.5"/><line x1="85.8" y1="237.33" x2="87.45" y2="243.23" stroke="#b4b9d2" stroke-width="1.5"/>
<line x1="91.9" y1="226.98" x2="93.55" y2="232.88" stroke="#a0189a" stroke-width="1.5"/><line x1="93.55" y1="232.88" x2="95.2" y2="238.78" stroke="#b4b9d2" stroke-width="1.5"/>
<line x1="99.65" y1="222.53" x2="101.3" y2="228.43" stroke="#a0189a" stroke-width="1.5"/><line x1="101.3" y1="228.43" x2="102.95" y2="234.33" stroke="#b4b9d2" stroke-width="1.5"/>
<circle cx="71.95" cy="252.13" r="2.7" fill="url(#gF)"/>
<circle cx="79.7" cy="247.68" r="2.7" fill="url(#gF)"/>
<circle cx="87.45" cy="243.23" r="2.7" fill="url(#gF)"/>
<circle cx="95.2" cy="238.78" r="2.7" fill="url(#gF)"/>
<circle cx="102.95" cy="234.33" r="2.7" fill="url(#gF)"/>
<line x1="68.65" y1="240.33" x2="70.65" y2="232.13" stroke="#a0189a" stroke-width="1.5"/><line x1="70.65" y1="232.13" x2="72.65" y2="223.93" stroke="#b4b9d2" stroke-width="1.5"/>
<line x1="76.4" y1="235.88" x2="78.4" y2="227.68" stroke="#a0189a" stroke-width="1.5"/><line x1="78.4" y1="227.68" x2="80.4" y2="219.48" stroke="#b4b9d2" stroke-width="1.5"/>
<line x1="84.15" y1="231.43" x2="86.15" y2="223.23" stroke="#a0189a" stroke-width="1.5"/><line x1="86.15" y1="223.23" x2="88.15" y2="215.03" stroke="#b4b9d2" stroke-width="1.5"/>
<line x1="91.9" y1="226.98" x2="93.9" y2="218.78" stroke="#a0189a" stroke-width="1.5"/><line x1="93.9" y1="218.78" x2="95.9" y2="210.58" stroke="#b4b9d2" stroke-width="1.5"/>
<line x1="99.65" y1="222.53" x2="101.65" y2="214.33" stroke="#a0189a" stroke-width="1.5"/><line x1="101.65" y1="214.33" x2="103.65" y2="206.13" stroke="#b4b9d2" stroke-width="1.5"/>
<circle cx="72.65" cy="223.93" r="2.7" fill="url(#gF)"/>
<circle cx="80.4" cy="219.48" r="2.7" fill="url(#gF)"/>
<circle cx="88.15" cy="215.03" r="2.7" fill="url(#gF)"/>
<circle cx="95.9" cy="210.58" r="2.7" fill="url(#gF)"/>
<circle cx="103.65" cy="206.13" r="2.7" fill="url(#gF)"/>
<circle cx="68.65" cy="240.33" r="5.7" fill="url(#gMn)"/>
<circle cx="76.4" cy="235.88" r="5.7" fill="url(#gMn)"/>
<circle cx="84.15" cy="231.43" r="5.7" fill="url(#gMn)"/>
<circle cx="91.9" cy="226.98" r="5.7" fill="url(#gMn)"/>
<circle cx="99.65" cy="222.53" r="5.7" fill="url(#gMn)"/>
<line x1="93.3" y1="255.76" x2="91.05" y2="249.86" stroke="#a0189a" stroke-width="1.5"/><line x1="91.05" y1="249.86" x2="88.8" y2="243.96" stroke="#b4b9d2" stroke-width="1.5"/>
<line x1="101.05" y1="251.31" x2="98.8" y2="245.41" stroke="#a0189a" stroke-width="1.5"/><line x1="98.8" y1="245.41" x2="96.55" y2="239.51" stroke="#b4b9d2" stroke-width="1.5"/>
<line x1="108.8" y1="246.86" x2="106.55" y2="240.96" stroke="#a0189a" stroke-width="1.5"/><line x1="106.55" y1="240.96" x2="104.3" y2="235.06" stroke="#b4b9d2" stroke-width="1.5"/>
<line x1="116.55" y1="242.41" x2="114.3" y2="236.51" stroke="#a0189a" stroke-width="1.5"/><line x1="114.3" y1="236.51" x2="112.05" y2="230.61" stroke="#b4b9d2" stroke-width="1.5"/>
<line x1="124.3" y1="237.96" x2="122.05" y2="232.06" stroke="#a0189a" stroke-width="1.5"/><line x1="122.05" y1="232.06" x2="119.8" y2="226.16" stroke="#b4b9d2" stroke-width="1.5"/>
<line x1="93.3" y1="255.76" x2="91.4" y2="262.96" stroke="#a0189a" stroke-width="1.5"/><line x1="91.4" y1="262.96" x2="89.5" y2="270.16" stroke="#b4b9d2" stroke-width="1.5"/>
<line x1="101.05" y1="251.31" x2="99.15" y2="258.51" stroke="#a0189a" stroke-width="1.5"/><line x1="99.15" y1="258.51" x2="97.25" y2="265.71" stroke="#b4b9d2" stroke-width="1.5"/>
<line x1="108.8" y1="246.86" x2="106.9" y2="254.06" stroke="#a0189a" stroke-width="1.5"/><line x1="106.9" y1="254.06" x2="105" y2="261.26" stroke="#b4b9d2" stroke-width="1.5"/>
<line x1="116.55" y1="242.41" x2="114.65" y2="249.61" stroke="#a0189a" stroke-width="1.5"/><line x1="114.65" y1="249.61" x2="112.75" y2="256.81" stroke="#b4b9d2" stroke-width="1.5"/>
<line x1="124.3" y1="237.96" x2="122.4" y2="245.16" stroke="#a0189a" stroke-width="1.5"/><line x1="122.4" y1="245.16" x2="120.5" y2="252.36" stroke="#b4b9d2" stroke-width="1.5"/>
<circle cx="88.8" cy="243.96" r="2.5" fill="url(#gF)"/>
<circle cx="96.55" cy="239.51" r="2.5" fill="url(#gF)"/>
<circle cx="104.3" cy="235.06" r="2.5" fill="url(#gF)"/>
<circle cx="112.05" cy="230.61" r="2.5" fill="url(#gF)"/>
<circle cx="119.8" cy="226.16" r="2.5" fill="url(#gF)"/>
<circle cx="93.3" cy="255.76" r="5.7" fill="url(#gMn)"/>
<circle cx="101.05" cy="251.31" r="5.7" fill="url(#gMn)"/>
<circle cx="108.8" cy="246.86" r="5.7" fill="url(#gMn)"/>
<circle cx="116.55" cy="242.41" r="5.7" fill="url(#gMn)"/>
<circle cx="124.3" cy="237.96" r="5.7" fill="url(#gMn)"/>
<circle cx="89.5" cy="270.16" r="2.7" fill="url(#gF)"/>
<circle cx="97.25" cy="265.71" r="2.7" fill="url(#gF)"/>
<circle cx="105" cy="261.26" r="2.7" fill="url(#gF)"/>
<circle cx="112.75" cy="256.81" r="2.7" fill="url(#gF)"/>
<circle cx="120.5" cy="252.36" r="2.7" fill="url(#gF)"/>
<line x1="96.3" y1="254.76" x2="102.8" y2="253.01" stroke="#a0189a" stroke-width="1.5"/><line x1="102.8" y1="253.01" x2="109.3" y2="251.26" stroke="#a7adcb" stroke-width="1.5"/>
<line x1="97.3" y1="256.76" x2="100.05" y2="257.26" stroke="#a0189a" stroke-width="1.4"/><line x1="100.05" y1="257.26" x2="102.8" y2="257.76" stroke="#b2b8d2" stroke-width="1.4"/>
<line x1="102.8" y1="257.76" x2="114.8" y2="254.76" stroke="#afb5d0" stroke-width="1.4"/>
<line x1="109.3" y1="251.26" x2="114.8" y2="254.76" stroke="#a7adcb" stroke-width="1.2"/>
<line x1="109.3" y1="251.26" x2="117.05" y2="246.81" stroke="#a7adcb" stroke-width="1.3"/>
<line x1="114.8" y1="254.76" x2="122.55" y2="250.31" stroke="#afb5d0" stroke-width="1.3"/>
<line x1="104.05" y1="250.31" x2="110.55" y2="248.56" stroke="#a0189a" stroke-width="1.5"/><line x1="110.55" y1="248.56" x2="117.05" y2="246.81" stroke="#a7adcb" stroke-width="1.5"/>
<line x1="105.05" y1="252.31" x2="107.8" y2="252.81" stroke="#a0189a" stroke-width="1.4"/><line x1="107.8" y1="252.81" x2="110.55" y2="253.31" stroke="#b2b8d2" stroke-width="1.4"/>
<line x1="110.55" y1="253.31" x2="122.55" y2="250.31" stroke="#afb5d0" stroke-width="1.4"/>
<line x1="117.05" y1="246.81" x2="122.55" y2="250.31" stroke="#a7adcb" stroke-width="1.2"/>
<line x1="117.05" y1="246.81" x2="124.8" y2="242.36" stroke="#a7adcb" stroke-width="1.3"/>
<line x1="122.55" y1="250.31" x2="130.3" y2="245.86" stroke="#afb5d0" stroke-width="1.3"/>
<line x1="111.8" y1="245.86" x2="118.3" y2="244.11" stroke="#a0189a" stroke-width="1.5"/><line x1="118.3" y1="244.11" x2="124.8" y2="242.36" stroke="#a7adcb" stroke-width="1.5"/>
<line x1="112.8" y1="247.86" x2="115.55" y2="248.36" stroke="#a0189a" stroke-width="1.4"/><line x1="115.55" y1="248.36" x2="118.3" y2="248.86" stroke="#b2b8d2" stroke-width="1.4"/>
<line x1="118.3" y1="248.86" x2="130.3" y2="245.86" stroke="#afb5d0" stroke-width="1.4"/>
<line x1="124.8" y1="242.36" x2="130.3" y2="245.86" stroke="#a7adcb" stroke-width="1.2"/>
<line x1="124.8" y1="242.36" x2="132.55" y2="237.91" stroke="#a7adcb" stroke-width="1.3"/>
<line x1="130.3" y1="245.86" x2="138.05" y2="241.41" stroke="#afb5d0" stroke-width="1.3"/>
<line x1="119.55" y1="241.41" x2="126.05" y2="239.66" stroke="#a0189a" stroke-width="1.5"/><line x1="126.05" y1="239.66" x2="132.55" y2="237.91" stroke="#a7adcb" stroke-width="1.5"/>
<line x1="120.55" y1="243.41" x2="123.3" y2="243.91" stroke="#a0189a" stroke-width="1.4"/><line x1="123.3" y1="243.91" x2="126.05" y2="244.41" stroke="#b2b8d2" stroke-width="1.4"/>
<line x1="126.05" y1="244.41" x2="138.05" y2="241.41" stroke="#afb5d0" stroke-width="1.4"/>
<line x1="132.55" y1="237.91" x2="138.05" y2="241.41" stroke="#a7adcb" stroke-width="1.2"/>
<line x1="132.55" y1="237.91" x2="140.3" y2="233.46" stroke="#a7adcb" stroke-width="1.3"/>
<line x1="138.05" y1="241.41" x2="145.8" y2="236.96" stroke="#afb5d0" stroke-width="1.3"/>
<line x1="127.3" y1="236.96" x2="133.8" y2="235.21" stroke="#a0189a" stroke-width="1.5"/><line x1="133.8" y1="235.21" x2="140.3" y2="233.46" stroke="#a7adcb" stroke-width="1.5"/>
<line x1="128.3" y1="238.96" x2="131.05" y2="239.46" stroke="#a0189a" stroke-width="1.4"/><line x1="131.05" y1="239.46" x2="133.8" y2="239.96" stroke="#b2b8d2" stroke-width="1.4"/>
<circle cx="109.3" cy="251.26" r="2.5" fill="url(#gF)"/>
<circle cx="102.8" cy="257.76" r="2.5" fill="url(#gF)"/>
<circle cx="114.8" cy="254.76" r="2.5" fill="url(#gF)"/>
<circle cx="117.05" cy="246.81" r="2.5" fill="url(#gF)"/>
<circle cx="110.55" cy="253.31" r="2.5" fill="url(#gF)"/>
<circle cx="122.55" cy="250.31" r="2.5" fill="url(#gF)"/>
<circle cx="124.8" cy="242.36" r="2.5" fill="url(#gF)"/>
<circle cx="118.3" cy="248.86" r="2.5" fill="url(#gF)"/>
<circle cx="130.3" cy="245.86" r="2.5" fill="url(#gF)"/>
<circle cx="132.55" cy="237.91" r="2.5" fill="url(#gF)"/>
<circle cx="126.05" cy="244.41" r="2.5" fill="url(#gF)"/>
<circle cx="138.05" cy="241.41" r="2.5" fill="url(#gF)"/>
<circle cx="140.3" cy="233.46" r="2.5" fill="url(#gF)"/>
<circle cx="133.8" cy="239.96" r="2.5" fill="url(#gF)"/>
<line x1="108.4" y1="241.26" x2="110.05" y2="247.16" stroke="#a0189a" stroke-width="1.5"/><line x1="110.05" y1="247.16" x2="111.7" y2="253.06" stroke="#b4b9d2" stroke-width="1.5"/>
<line x1="116.15" y1="236.81" x2="117.8" y2="242.71" stroke="#a0189a" stroke-width="1.5"/><line x1="117.8" y1="242.71" x2="119.45" y2="248.61" stroke="#b4b9d2" stroke-width="1.5"/>
<line x1="123.9" y1="232.36" x2="125.55" y2="238.26" stroke="#a0189a" stroke-width="1.5"/><line x1="125.55" y1="238.26" x2="127.2" y2="244.16" stroke="#b4b9d2" stroke-width="1.5"/>
<line x1="131.65" y1="227.91" x2="133.3" y2="233.81" stroke="#a0189a" stroke-width="1.5"/><line x1="133.3" y1="233.81" x2="134.95" y2="239.71" stroke="#b4b9d2" stroke-width="1.5"/>
<line x1="139.4" y1="223.46" x2="141.05" y2="229.36" stroke="#a0189a" stroke-width="1.5"/><line x1="141.05" y1="229.36" x2="142.7" y2="235.26" stroke="#b4b9d2" stroke-width="1.5"/>
<circle cx="111.7" cy="253.06" r="2.7" fill="url(#gF)"/>
<circle cx="119.45" cy="248.61" r="2.7" fill="url(#gF)"/>
<circle cx="127.2" cy="244.16" r="2.7" fill="url(#gF)"/>
<circle cx="134.95" cy="239.71" r="2.7" fill="url(#gF)"/>
<circle cx="142.7" cy="235.26" r="2.7" fill="url(#gF)"/>
<line x1="108.4" y1="241.26" x2="110.4" y2="233.06" stroke="#a0189a" stroke-width="1.5"/><line x1="110.4" y1="233.06" x2="112.4" y2="224.86" stroke="#b4b9d2" stroke-width="1.5"/>
<line x1="116.15" y1="236.81" x2="118.15" y2="228.61" stroke="#a0189a" stroke-width="1.5"/><line x1="118.15" y1="228.61" x2="120.15" y2="220.41" stroke="#b4b9d2" stroke-width="1.5"/>
<line x1="123.9" y1="232.36" x2="125.9" y2="224.16" stroke="#a0189a" stroke-width="1.5"/><line x1="125.9" y1="224.16" x2="127.9" y2="215.96" stroke="#b4b9d2" stroke-width="1.5"/>
<line x1="131.65" y1="227.91" x2="133.65" y2="219.71" stroke="#a0189a" stroke-width="1.5"/><line x1="133.65" y1="219.71" x2="135.65" y2="211.51" stroke="#b4b9d2" stroke-width="1.5"/>
<line x1="139.4" y1="223.46" x2="141.4" y2="215.26" stroke="#a0189a" stroke-width="1.5"/><line x1="141.4" y1="215.26" x2="143.4" y2="207.06" stroke="#b4b9d2" stroke-width="1.5"/>
<circle cx="112.4" cy="224.86" r="2.7" fill="url(#gF)"/>
<circle cx="120.15" cy="220.41" r="2.7" fill="url(#gF)"/>
<circle cx="127.9" cy="215.96" r="2.7" fill="url(#gF)"/>
<circle cx="135.65" cy="211.51" r="2.7" fill="url(#gF)"/>
<circle cx="143.4" cy="207.06" r="2.7" fill="url(#gF)"/>
<circle cx="108.4" cy="241.26" r="5.7" fill="url(#gMn)"/>
<circle cx="116.15" cy="236.81" r="5.7" fill="url(#gMn)"/>
<circle cx="123.9" cy="232.36" r="5.7" fill="url(#gMn)"/>
<circle cx="131.65" cy="227.91" r="5.7" fill="url(#gMn)"/>
<circle cx="139.4" cy="223.46" r="5.7" fill="url(#gMn)"/>
<line x1="133.05" y1="256.69" x2="130.8" y2="250.79" stroke="#a0189a" stroke-width="1.5"/><line x1="130.8" y1="250.79" x2="128.55" y2="244.89" stroke="#b4b9d2" stroke-width="1.5"/>
<line x1="140.8" y1="252.24" x2="138.55" y2="246.34" stroke="#a0189a" stroke-width="1.5"/><line x1="138.55" y1="246.34" x2="136.3" y2="240.44" stroke="#b4b9d2" stroke-width="1.5"/>
<line x1="148.55" y1="247.79" x2="146.3" y2="241.89" stroke="#a0189a" stroke-width="1.5"/><line x1="146.3" y1="241.89" x2="144.05" y2="235.99" stroke="#b4b9d2" stroke-width="1.5"/>
<line x1="156.3" y1="243.34" x2="154.05" y2="237.44" stroke="#a0189a" stroke-width="1.5"/><line x1="154.05" y1="237.44" x2="151.8" y2="231.54" stroke="#b4b9d2" stroke-width="1.5"/>
<line x1="164.05" y1="238.89" x2="161.8" y2="232.99" stroke="#a0189a" stroke-width="1.5"/><line x1="161.8" y1="232.99" x2="159.55" y2="227.09" stroke="#b4b9d2" stroke-width="1.5"/>
<line x1="133.05" y1="256.69" x2="131.15" y2="263.89" stroke="#a0189a" stroke-width="1.5"/><line x1="131.15" y1="263.89" x2="129.25" y2="271.09" stroke="#b4b9d2" stroke-width="1.5"/>
<line x1="140.8" y1="252.24" x2="138.9" y2="259.44" stroke="#a0189a" stroke-width="1.5"/><line x1="138.9" y1="259.44" x2="137" y2="266.64" stroke="#b4b9d2" stroke-width="1.5"/>
<line x1="148.55" y1="247.79" x2="146.65" y2="254.99" stroke="#a0189a" stroke-width="1.5"/><line x1="146.65" y1="254.99" x2="144.75" y2="262.19" stroke="#b4b9d2" stroke-width="1.5"/>
<line x1="156.3" y1="243.34" x2="154.4" y2="250.54" stroke="#a0189a" stroke-width="1.5"/><line x1="154.4" y1="250.54" x2="152.5" y2="257.74" stroke="#b4b9d2" stroke-width="1.5"/>
<line x1="164.05" y1="238.89" x2="162.15" y2="246.09" stroke="#a0189a" stroke-width="1.5"/><line x1="162.15" y1="246.09" x2="160.25" y2="253.29" stroke="#b4b9d2" stroke-width="1.5"/>
<circle cx="128.55" cy="244.89" r="2.5" fill="url(#gF)"/>
<circle cx="136.3" cy="240.44" r="2.5" fill="url(#gF)"/>
<circle cx="144.05" cy="235.99" r="2.5" fill="url(#gF)"/>
<circle cx="151.8" cy="231.54" r="2.5" fill="url(#gF)"/>
<circle cx="159.55" cy="227.09" r="2.5" fill="url(#gF)"/>
<circle cx="133.05" cy="256.69" r="5.7" fill="url(#gMn)"/>
<circle cx="140.8" cy="252.24" r="5.7" fill="url(#gMn)"/>
<circle cx="148.55" cy="247.79" r="5.7" fill="url(#gMn)"/>
<circle cx="156.3" cy="243.34" r="5.7" fill="url(#gMn)"/>
<circle cx="164.05" cy="238.89" r="5.7" fill="url(#gMn)"/>
<circle cx="129.25" cy="271.09" r="2.7" fill="url(#gF)"/>
<circle cx="137" cy="266.64" r="2.7" fill="url(#gF)"/>
<circle cx="144.75" cy="262.19" r="2.7" fill="url(#gF)"/>
<circle cx="152.5" cy="257.74" r="2.7" fill="url(#gF)"/>
<circle cx="160.25" cy="253.29" r="2.7" fill="url(#gF)"/>
<line x1="136.05" y1="255.69" x2="142.55" y2="253.94" stroke="#a0189a" stroke-width="1.5"/><line x1="142.55" y1="253.94" x2="149.05" y2="252.19" stroke="#a7adcb" stroke-width="1.5"/>
<line x1="137.05" y1="257.69" x2="139.8" y2="258.19" stroke="#a0189a" stroke-width="1.4"/><line x1="139.8" y1="258.19" x2="142.55" y2="258.69" stroke="#b2b8d2" stroke-width="1.4"/>
<line x1="142.55" y1="258.69" x2="154.55" y2="255.69" stroke="#afb5d0" stroke-width="1.4"/>
<line x1="149.05" y1="252.19" x2="154.55" y2="255.69" stroke="#a7adcb" stroke-width="1.2"/>
<line x1="149.05" y1="252.19" x2="156.8" y2="247.74" stroke="#a7adcb" stroke-width="1.3"/>
<line x1="154.55" y1="255.69" x2="162.3" y2="251.24" stroke="#afb5d0" stroke-width="1.3"/>
<line x1="143.8" y1="251.24" x2="150.3" y2="249.49" stroke="#a0189a" stroke-width="1.5"/><line x1="150.3" y1="249.49" x2="156.8" y2="247.74" stroke="#a7adcb" stroke-width="1.5"/>
<line x1="144.8" y1="253.24" x2="147.55" y2="253.74" stroke="#a0189a" stroke-width="1.4"/><line x1="147.55" y1="253.74" x2="150.3" y2="254.24" stroke="#b2b8d2" stroke-width="1.4"/>
<line x1="150.3" y1="254.24" x2="162.3" y2="251.24" stroke="#afb5d0" stroke-width="1.4"/>
<line x1="156.8" y1="247.74" x2="162.3" y2="251.24" stroke="#a7adcb" stroke-width="1.2"/>
<line x1="156.8" y1="247.74" x2="164.55" y2="243.29" stroke="#a7adcb" stroke-width="1.3"/>
<line x1="162.3" y1="251.24" x2="170.05" y2="246.79" stroke="#afb5d0" stroke-width="1.3"/>
<line x1="151.55" y1="246.79" x2="158.05" y2="245.04" stroke="#a0189a" stroke-width="1.5"/><line x1="158.05" y1="245.04" x2="164.55" y2="243.29" stroke="#a7adcb" stroke-width="1.5"/>
<line x1="152.55" y1="248.79" x2="155.3" y2="249.29" stroke="#a0189a" stroke-width="1.4"/><line x1="155.3" y1="249.29" x2="158.05" y2="249.79" stroke="#b2b8d2" stroke-width="1.4"/>
<line x1="158.05" y1="249.79" x2="170.05" y2="246.79" stroke="#afb5d0" stroke-width="1.4"/>
<line x1="164.55" y1="243.29" x2="170.05" y2="246.79" stroke="#a7adcb" stroke-width="1.2"/>
<line x1="164.55" y1="243.29" x2="172.3" y2="238.84" stroke="#a7adcb" stroke-width="1.3"/>
<line x1="170.05" y1="246.79" x2="177.8" y2="242.34" stroke="#afb5d0" stroke-width="1.3"/>
<line x1="159.3" y1="242.34" x2="165.8" y2="240.59" stroke="#a0189a" stroke-width="1.5"/><line x1="165.8" y1="240.59" x2="172.3" y2="238.84" stroke="#a7adcb" stroke-width="1.5"/>
<line x1="160.3" y1="244.34" x2="163.05" y2="244.84" stroke="#a0189a" stroke-width="1.4"/><line x1="163.05" y1="244.84" x2="165.8" y2="245.34" stroke="#b2b8d2" stroke-width="1.4"/>
<line x1="165.8" y1="245.34" x2="177.8" y2="242.34" stroke="#afb5d0" stroke-width="1.4"/>
<line x1="172.3" y1="238.84" x2="177.8" y2="242.34" stroke="#a7adcb" stroke-width="1.2"/>
<line x1="172.3" y1="238.84" x2="180.05" y2="234.39" stroke="#a7adcb" stroke-width="1.3"/>
<line x1="177.8" y1="242.34" x2="185.55" y2="237.89" stroke="#afb5d0" stroke-width="1.3"/>
<line x1="167.05" y1="237.89" x2="173.55" y2="236.14" stroke="#a0189a" stroke-width="1.5"/><line x1="173.55" y1="236.14" x2="180.05" y2="234.39" stroke="#a7adcb" stroke-width="1.5"/>
<line x1="168.05" y1="239.89" x2="170.8" y2="240.39" stroke="#a0189a" stroke-width="1.4"/><line x1="170.8" y1="240.39" x2="173.55" y2="240.89" stroke="#b2b8d2" stroke-width="1.4"/>
<circle cx="149.05" cy="252.19" r="2.5" fill="url(#gF)"/>
<circle cx="142.55" cy="258.69" r="2.5" fill="url(#gF)"/>
<circle cx="154.55" cy="255.69" r="2.5" fill="url(#gF)"/>
<circle cx="156.8" cy="247.74" r="2.5" fill="url(#gF)"/>
<circle cx="150.3" cy="254.24" r="2.5" fill="url(#gF)"/>
<circle cx="162.3" cy="251.24" r="2.5" fill="url(#gF)"/>
<circle cx="164.55" cy="243.29" r="2.5" fill="url(#gF)"/>
<circle cx="158.05" cy="249.79" r="2.5" fill="url(#gF)"/>
<circle cx="170.05" cy="246.79" r="2.5" fill="url(#gF)"/>
<circle cx="172.3" cy="238.84" r="2.5" fill="url(#gF)"/>
<circle cx="165.8" cy="245.34" r="2.5" fill="url(#gF)"/>
<circle cx="177.8" cy="242.34" r="2.5" fill="url(#gF)"/>
<circle cx="180.05" cy="234.39" r="2.5" fill="url(#gF)"/>
<circle cx="173.55" cy="240.89" r="2.5" fill="url(#gF)"/>
<line x1="148.15" y1="242.19" x2="149.8" y2="248.09" stroke="#a0189a" stroke-width="1.5"/><line x1="149.8" y1="248.09" x2="151.45" y2="253.99" stroke="#b4b9d2" stroke-width="1.5"/>
<line x1="155.9" y1="237.74" x2="157.55" y2="243.64" stroke="#a0189a" stroke-width="1.5"/><line x1="157.55" y1="243.64" x2="159.2" y2="249.54" stroke="#b4b9d2" stroke-width="1.5"/>
<line x1="163.65" y1="233.29" x2="165.3" y2="239.19" stroke="#a0189a" stroke-width="1.5"/><line x1="165.3" y1="239.19" x2="166.95" y2="245.09" stroke="#b4b9d2" stroke-width="1.5"/>
<line x1="171.4" y1="228.84" x2="173.05" y2="234.74" stroke="#a0189a" stroke-width="1.5"/><line x1="173.05" y1="234.74" x2="174.7" y2="240.64" stroke="#b4b9d2" stroke-width="1.5"/>
<line x1="179.15" y1="224.39" x2="180.8" y2="230.29" stroke="#a0189a" stroke-width="1.5"/><line x1="180.8" y1="230.29" x2="182.45" y2="236.19" stroke="#b4b9d2" stroke-width="1.5"/>
<circle cx="151.45" cy="253.99" r="2.7" fill="url(#gF)"/>
<circle cx="159.2" cy="249.54" r="2.7" fill="url(#gF)"/>
<circle cx="166.95" cy="245.09" r="2.7" fill="url(#gF)"/>
<circle cx="174.7" cy="240.64" r="2.7" fill="url(#gF)"/>
<circle cx="182.45" cy="236.19" r="2.7" fill="url(#gF)"/>
<line x1="148.15" y1="242.19" x2="150.15" y2="233.99" stroke="#a0189a" stroke-width="1.5"/><line x1="150.15" y1="233.99" x2="152.15" y2="225.79" stroke="#b4b9d2" stroke-width="1.5"/>
<line x1="155.9" y1="237.74" x2="157.9" y2="229.54" stroke="#a0189a" stroke-width="1.5"/><line x1="157.9" y1="229.54" x2="159.9" y2="221.34" stroke="#b4b9d2" stroke-width="1.5"/>
<line x1="163.65" y1="233.29" x2="165.65" y2="225.09" stroke="#a0189a" stroke-width="1.5"/><line x1="165.65" y1="225.09" x2="167.65" y2="216.89" stroke="#b4b9d2" stroke-width="1.5"/>
<line x1="171.4" y1="228.84" x2="173.4" y2="220.64" stroke="#a0189a" stroke-width="1.5"/><line x1="173.4" y1="220.64" x2="175.4" y2="212.44" stroke="#b4b9d2" stroke-width="1.5"/>
<line x1="179.15" y1="224.39" x2="181.15" y2="216.19" stroke="#a0189a" stroke-width="1.5"/><line x1="181.15" y1="216.19" x2="183.15" y2="207.99" stroke="#b4b9d2" stroke-width="1.5"/>
<circle cx="152.15" cy="225.79" r="2.7" fill="url(#gF)"/>
<circle cx="159.9" cy="221.34" r="2.7" fill="url(#gF)"/>
<circle cx="167.65" cy="216.89" r="2.7" fill="url(#gF)"/>
<circle cx="175.4" cy="212.44" r="2.7" fill="url(#gF)"/>
<circle cx="183.15" cy="207.99" r="2.7" fill="url(#gF)"/>
<circle cx="148.15" cy="242.19" r="5.7" fill="url(#gMn)"/>
<circle cx="155.9" cy="237.74" r="5.7" fill="url(#gMn)"/>
<circle cx="163.65" cy="233.29" r="5.7" fill="url(#gMn)"/>
<circle cx="171.4" cy="228.84" r="5.7" fill="url(#gMn)"/>
<circle cx="179.15" cy="224.39" r="5.7" fill="url(#gMn)"/>
<line x1="14.5" y1="330" x2="11.75" y2="324.35" stroke="#a0189a" stroke-width="1.5"/><line x1="11.75" y1="324.35" x2="9" y2="318.7" stroke="#a8aecb" stroke-width="1.5"/>
<line x1="22.25" y1="325.55" x2="19.5" y2="319.9" stroke="#a0189a" stroke-width="1.5"/><line x1="19.5" y1="319.9" x2="16.75" y2="314.25" stroke="#a8aecb" stroke-width="1.5"/>
<line x1="30" y1="321.1" x2="27.25" y2="315.45" stroke="#a0189a" stroke-width="1.5"/><line x1="27.25" y1="315.45" x2="24.5" y2="309.8" stroke="#a8aecb" stroke-width="1.5"/>
<line x1="37.75" y1="316.65" x2="35" y2="311" stroke="#a0189a" stroke-width="1.5"/><line x1="35" y1="311" x2="32.25" y2="305.35" stroke="#a8aecb" stroke-width="1.5"/>
<line x1="45.5" y1="312.2" x2="42.75" y2="306.55" stroke="#a0189a" stroke-width="1.5"/><line x1="42.75" y1="306.55" x2="40" y2="300.9" stroke="#a8aecb" stroke-width="1.5"/>
<line x1="14.5" y1="330" x2="12.5" y2="340.25" stroke="#a0189a" stroke-width="1.5"/><line x1="12.5" y1="340.25" x2="10.5" y2="350.5" stroke="#40c828" stroke-width="1.5"/>
<line x1="22.25" y1="325.55" x2="20.25" y2="335.8" stroke="#a0189a" stroke-width="1.5"/><line x1="20.25" y1="335.8" x2="18.25" y2="346.05" stroke="#40c828" stroke-width="1.5"/>
<line x1="30" y1="321.1" x2="28" y2="331.35" stroke="#a0189a" stroke-width="1.5"/><line x1="28" y1="331.35" x2="26" y2="341.6" stroke="#40c828" stroke-width="1.5"/>
<line x1="37.75" y1="316.65" x2="35.75" y2="326.9" stroke="#a0189a" stroke-width="1.5"/><line x1="35.75" y1="326.9" x2="33.75" y2="337.15" stroke="#40c828" stroke-width="1.5"/>
<line x1="45.5" y1="312.2" x2="43.5" y2="322.45" stroke="#a0189a" stroke-width="1.5"/><line x1="43.5" y1="322.45" x2="41.5" y2="332.7" stroke="#40c828" stroke-width="1.5"/>
<circle cx="9" cy="318.7" r="2.4" fill="url(#gF)"/>
<circle cx="16.75" cy="314.25" r="2.4" fill="url(#gF)"/>
<circle cx="24.5" cy="309.8" r="2.4" fill="url(#gF)"/>
<circle cx="32.25" cy="305.35" r="2.4" fill="url(#gF)"/>
<circle cx="40" cy="300.9" r="2.4" fill="url(#gF)"/>
<circle cx="14.5" cy="330" r="5.7" fill="url(#gMn)"/>
<circle cx="22.25" cy="325.55" r="5.7" fill="url(#gMn)"/>
<circle cx="30" cy="321.1" r="5.7" fill="url(#gMn)"/>
<circle cx="37.75" cy="316.65" r="5.7" fill="url(#gMn)"/>
<circle cx="45.5" cy="312.2" r="5.7" fill="url(#gMn)"/>
<circle cx="10.5" cy="350.5" r="3.6" fill="url(#gCl)"/>
<circle cx="18.25" cy="346.05" r="3.6" fill="url(#gCl)"/>
<circle cx="26" cy="341.6" r="3.6" fill="url(#gCl)"/>
<circle cx="33.75" cy="337.15" r="3.6" fill="url(#gCl)"/>
<circle cx="41.5" cy="332.7" r="3.6" fill="url(#gCl)"/>
<line x1="17.5" y1="329" x2="24" y2="327.25" stroke="#a0189a" stroke-width="1.5"/><line x1="24" y1="327.25" x2="30.5" y2="325.5" stroke="#a7adcb" stroke-width="1.5"/>
<line x1="18.5" y1="331" x2="21.25" y2="331.5" stroke="#a0189a" stroke-width="1.4"/><line x1="21.25" y1="331.5" x2="24" y2="332" stroke="#b2b8d2" stroke-width="1.4"/>
<line x1="24" y1="332" x2="36" y2="329" stroke="#afb5d0" stroke-width="1.4"/>
<line x1="30.5" y1="325.5" x2="36" y2="329" stroke="#a7adcb" stroke-width="1.2"/>
<line x1="30.5" y1="325.5" x2="38.25" y2="321.05" stroke="#a7adcb" stroke-width="1.3"/>
<line x1="36" y1="329" x2="43.75" y2="324.55" stroke="#afb5d0" stroke-width="1.3"/>
<line x1="25.25" y1="324.55" x2="31.75" y2="322.8" stroke="#a0189a" stroke-width="1.5"/><line x1="31.75" y1="322.8" x2="38.25" y2="321.05" stroke="#a7adcb" stroke-width="1.5"/>
<line x1="26.25" y1="326.55" x2="29" y2="327.05" stroke="#a0189a" stroke-width="1.4"/><line x1="29" y1="327.05" x2="31.75" y2="327.55" stroke="#b2b8d2" stroke-width="1.4"/>
<line x1="31.75" y1="327.55" x2="43.75" y2="324.55" stroke="#afb5d0" stroke-width="1.4"/>
<line x1="38.25" y1="321.05" x2="43.75" y2="324.55" stroke="#a7adcb" stroke-width="1.2"/>
<line x1="38.25" y1="321.05" x2="46" y2="316.6" stroke="#a7adcb" stroke-width="1.3"/>
<line x1="43.75" y1="324.55" x2="51.5" y2="320.1" stroke="#afb5d0" stroke-width="1.3"/>
<line x1="33" y1="320.1" x2="39.5" y2="318.35" stroke="#a0189a" stroke-width="1.5"/><line x1="39.5" y1="318.35" x2="46" y2="316.6" stroke="#a7adcb" stroke-width="1.5"/>
<line x1="34" y1="322.1" x2="36.75" y2="322.6" stroke="#a0189a" stroke-width="1.4"/><line x1="36.75" y1="322.6" x2="39.5" y2="323.1" stroke="#b2b8d2" stroke-width="1.4"/>
<line x1="39.5" y1="323.1" x2="51.5" y2="320.1" stroke="#afb5d0" stroke-width="1.4"/>
<line x1="46" y1="316.6" x2="51.5" y2="320.1" stroke="#a7adcb" stroke-width="1.2"/>
<line x1="46" y1="316.6" x2="53.75" y2="312.15" stroke="#a7adcb" stroke-width="1.3"/>
<line x1="51.5" y1="320.1" x2="59.25" y2="315.65" stroke="#afb5d0" stroke-width="1.3"/>
<line x1="40.75" y1="315.65" x2="47.25" y2="313.9" stroke="#a0189a" stroke-width="1.5"/><line x1="47.25" y1="313.9" x2="53.75" y2="312.15" stroke="#a7adcb" stroke-width="1.5"/>
<line x1="41.75" y1="317.65" x2="44.5" y2="318.15" stroke="#a0189a" stroke-width="1.4"/><line x1="44.5" y1="318.15" x2="47.25" y2="318.65" stroke="#b2b8d2" stroke-width="1.4"/>
<line x1="47.25" y1="318.65" x2="59.25" y2="315.65" stroke="#afb5d0" stroke-width="1.4"/>
<line x1="53.75" y1="312.15" x2="59.25" y2="315.65" stroke="#a7adcb" stroke-width="1.2"/>
<line x1="53.75" y1="312.15" x2="61.5" y2="307.7" stroke="#a7adcb" stroke-width="1.3"/>
<line x1="59.25" y1="315.65" x2="67" y2="311.2" stroke="#afb5d0" stroke-width="1.3"/>
<line x1="48.5" y1="311.2" x2="55" y2="309.45" stroke="#a0189a" stroke-width="1.5"/><line x1="55" y1="309.45" x2="61.5" y2="307.7" stroke="#a7adcb" stroke-width="1.5"/>
<line x1="49.5" y1="313.2" x2="52.25" y2="313.7" stroke="#a0189a" stroke-width="1.4"/><line x1="52.25" y1="313.7" x2="55" y2="314.2" stroke="#b2b8d2" stroke-width="1.4"/>
<circle cx="30.5" cy="325.5" r="2.5" fill="url(#gN2)"/>
<circle cx="24" cy="332" r="2.5" fill="url(#gN2)"/>
<circle cx="36" cy="329" r="2.5" fill="url(#gN2)"/>
<circle cx="38.25" cy="321.05" r="2.5" fill="url(#gN2)"/>
<circle cx="31.75" cy="327.55" r="2.5" fill="url(#gN2)"/>
<circle cx="43.75" cy="324.55" r="2.5" fill="url(#gN2)"/>
<circle cx="46" cy="316.6" r="2.5" fill="url(#gN2)"/>
<circle cx="39.5" cy="323.1" r="2.5" fill="url(#gN2)"/>
<circle cx="51.5" cy="320.1" r="2.5" fill="url(#gN2)"/>
<circle cx="53.75" cy="312.15" r="2.5" fill="url(#gN2)"/>
<circle cx="47.25" cy="318.65" r="2.5" fill="url(#gN2)"/>
<circle cx="59.25" cy="315.65" r="2.5" fill="url(#gN2)"/>
<circle cx="61.5" cy="307.7" r="2.5" fill="url(#gN2)"/>
<circle cx="55" cy="314.2" r="2.5" fill="url(#gN2)"/>
<line x1="30" y1="316.2" x2="32.5" y2="320.2" stroke="#a0189a" stroke-width="1.4"/><line x1="32.5" y1="320.2" x2="35" y2="324.2" stroke="#a7adcb" stroke-width="1.4"/>
<circle cx="35" cy="324.2" r="2.4" fill="url(#gN2)"/>
<line x1="37.75" y1="311.75" x2="40.25" y2="315.75" stroke="#a0189a" stroke-width="1.4"/><line x1="40.25" y1="315.75" x2="42.75" y2="319.75" stroke="#a7adcb" stroke-width="1.4"/>
<circle cx="42.75" cy="319.75" r="2.4" fill="url(#gN2)"/>
<line x1="45.5" y1="307.3" x2="48" y2="311.3" stroke="#a0189a" stroke-width="1.4"/><line x1="48" y1="311.3" x2="50.5" y2="315.3" stroke="#a7adcb" stroke-width="1.4"/>
<circle cx="50.5" cy="315.3" r="2.4" fill="url(#gN2)"/>
<line x1="53.25" y1="302.85" x2="55.75" y2="306.85" stroke="#a0189a" stroke-width="1.4"/><line x1="55.75" y1="306.85" x2="58.25" y2="310.85" stroke="#a7adcb" stroke-width="1.4"/>
<circle cx="58.25" cy="310.85" r="2.4" fill="url(#gN2)"/>
<line x1="61" y1="298.4" x2="63.5" y2="302.4" stroke="#a0189a" stroke-width="1.4"/><line x1="63.5" y1="302.4" x2="66" y2="306.4" stroke="#a7adcb" stroke-width="1.4"/>
<circle cx="66" cy="306.4" r="2.4" fill="url(#gN2)"/>
<line x1="30" y1="316.2" x2="31.9" y2="305.7" stroke="#a0189a" stroke-width="1.5"/><line x1="31.9" y1="305.7" x2="33.8" y2="295.2" stroke="#40c828" stroke-width="1.5"/>
<line x1="37.75" y1="311.75" x2="39.65" y2="301.25" stroke="#a0189a" stroke-width="1.5"/><line x1="39.65" y1="301.25" x2="41.55" y2="290.75" stroke="#40c828" stroke-width="1.5"/>
<line x1="45.5" y1="307.3" x2="47.4" y2="296.8" stroke="#a0189a" stroke-width="1.5"/><line x1="47.4" y1="296.8" x2="49.3" y2="286.3" stroke="#40c828" stroke-width="1.5"/>
<line x1="53.25" y1="302.85" x2="55.15" y2="292.35" stroke="#a0189a" stroke-width="1.5"/><line x1="55.15" y1="292.35" x2="57.05" y2="281.85" stroke="#40c828" stroke-width="1.5"/>
<line x1="61" y1="298.4" x2="62.9" y2="287.9" stroke="#a0189a" stroke-width="1.5"/><line x1="62.9" y1="287.9" x2="64.8" y2="277.4" stroke="#40c828" stroke-width="1.5"/>
<circle cx="33.8" cy="295.2" r="3.6" fill="url(#gCl)"/>
<circle cx="41.55" cy="290.75" r="3.6" fill="url(#gCl)"/>
<circle cx="49.3" cy="286.3" r="3.6" fill="url(#gCl)"/>
<circle cx="57.05" cy="281.85" r="3.6" fill="url(#gCl)"/>
<circle cx="64.8" cy="277.4" r="3.6" fill="url(#gCl)"/>
<circle cx="30" cy="316.2" r="5.7" fill="url(#gMn)"/>
<circle cx="37.75" cy="311.75" r="5.7" fill="url(#gMn)"/>
<circle cx="45.5" cy="307.3" r="5.7" fill="url(#gMn)"/>
<circle cx="53.25" cy="302.85" r="5.7" fill="url(#gMn)"/>
<circle cx="61" cy="298.4" r="5.7" fill="url(#gMn)"/>
<line x1="54.25" y1="330.93" x2="51.5" y2="325.28" stroke="#a0189a" stroke-width="1.5"/><line x1="51.5" y1="325.28" x2="48.75" y2="319.63" stroke="#a8aecb" stroke-width="1.5"/>
<line x1="62" y1="326.48" x2="59.25" y2="320.83" stroke="#a0189a" stroke-width="1.5"/><line x1="59.25" y1="320.83" x2="56.5" y2="315.18" stroke="#a8aecb" stroke-width="1.5"/>
<line x1="69.75" y1="322.03" x2="67" y2="316.38" stroke="#a0189a" stroke-width="1.5"/><line x1="67" y1="316.38" x2="64.25" y2="310.73" stroke="#a8aecb" stroke-width="1.5"/>
<line x1="77.5" y1="317.58" x2="74.75" y2="311.93" stroke="#a0189a" stroke-width="1.5"/><line x1="74.75" y1="311.93" x2="72" y2="306.28" stroke="#a8aecb" stroke-width="1.5"/>
<line x1="85.25" y1="313.13" x2="82.5" y2="307.48" stroke="#a0189a" stroke-width="1.5"/><line x1="82.5" y1="307.48" x2="79.75" y2="301.83" stroke="#a8aecb" stroke-width="1.5"/>
<line x1="54.25" y1="330.93" x2="52.25" y2="341.18" stroke="#a0189a" stroke-width="1.5"/><line x1="52.25" y1="341.18" x2="50.25" y2="351.43" stroke="#40c828" stroke-width="1.5"/>
<line x1="62" y1="326.48" x2="60" y2="336.73" stroke="#a0189a" stroke-width="1.5"/><line x1="60" y1="336.73" x2="58" y2="346.98" stroke="#40c828" stroke-width="1.5"/>
<line x1="69.75" y1="322.03" x2="67.75" y2="332.28" stroke="#a0189a" stroke-width="1.5"/><line x1="67.75" y1="332.28" x2="65.75" y2="342.53" stroke="#40c828" stroke-width="1.5"/>
<line x1="77.5" y1="317.58" x2="75.5" y2="327.83" stroke="#a0189a" stroke-width="1.5"/><line x1="75.5" y1="327.83" x2="73.5" y2="338.08" stroke="#40c828" stroke-width="1.5"/>
<line x1="85.25" y1="313.13" x2="83.25" y2="323.38" stroke="#a0189a" stroke-width="1.5"/><line x1="83.25" y1="323.38" x2="81.25" y2="333.63" stroke="#40c828" stroke-width="1.5"/>
<circle cx="48.75" cy="319.63" r="2.4" fill="url(#gF)"/>
<circle cx="56.5" cy="315.18" r="2.4" fill="url(#gF)"/>
<circle cx="64.25" cy="310.73" r="2.4" fill="url(#gF)"/>
<circle cx="72" cy="306.28" r="2.4" fill="url(#gF)"/>
<circle cx="79.75" cy="301.83" r="2.4" fill="url(#gF)"/>
<circle cx="54.25" cy="330.93" r="5.7" fill="url(#gMn)"/>
<circle cx="62" cy="326.48" r="5.7" fill="url(#gMn)"/>
<circle cx="69.75" cy="322.03" r="5.7" fill="url(#gMn)"/>
<circle cx="77.5" cy="317.58" r="5.7" fill="url(#gMn)"/>
<circle cx="85.25" cy="313.13" r="5.7" fill="url(#gMn)"/>
<circle cx="50.25" cy="351.43" r="3.6" fill="url(#gCl)"/>
<circle cx="58" cy="346.98" r="3.6" fill="url(#gCl)"/>
<circle cx="65.75" cy="342.53" r="3.6" fill="url(#gCl)"/>
<circle cx="73.5" cy="338.08" r="3.6" fill="url(#gCl)"/>
<circle cx="81.25" cy="333.63" r="3.6" fill="url(#gCl)"/>
<line x1="57.25" y1="329.93" x2="63.75" y2="328.18" stroke="#a0189a" stroke-width="1.5"/><line x1="63.75" y1="328.18" x2="70.25" y2="326.43" stroke="#a7adcb" stroke-width="1.5"/>
<line x1="58.25" y1="331.93" x2="61" y2="332.43" stroke="#a0189a" stroke-width="1.4"/><line x1="61" y1="332.43" x2="63.75" y2="332.93" stroke="#b2b8d2" stroke-width="1.4"/>
<line x1="63.75" y1="332.93" x2="75.75" y2="329.93" stroke="#afb5d0" stroke-width="1.4"/>
<line x1="70.25" y1="326.43" x2="75.75" y2="329.93" stroke="#a7adcb" stroke-width="1.2"/>
<line x1="70.25" y1="326.43" x2="78" y2="321.98" stroke="#a7adcb" stroke-width="1.3"/>
<line x1="75.75" y1="329.93" x2="83.5" y2="325.48" stroke="#afb5d0" stroke-width="1.3"/>
<line x1="65" y1="325.48" x2="71.5" y2="323.73" stroke="#a0189a" stroke-width="1.5"/><line x1="71.5" y1="323.73" x2="78" y2="321.98" stroke="#a7adcb" stroke-width="1.5"/>
<line x1="66" y1="327.48" x2="68.75" y2="327.98" stroke="#a0189a" stroke-width="1.4"/><line x1="68.75" y1="327.98" x2="71.5" y2="328.48" stroke="#b2b8d2" stroke-width="1.4"/>
<line x1="71.5" y1="328.48" x2="83.5" y2="325.48" stroke="#afb5d0" stroke-width="1.4"/>
<line x1="78" y1="321.98" x2="83.5" y2="325.48" stroke="#a7adcb" stroke-width="1.2"/>
<line x1="78" y1="321.98" x2="85.75" y2="317.53" stroke="#a7adcb" stroke-width="1.3"/>
<line x1="83.5" y1="325.48" x2="91.25" y2="321.03" stroke="#afb5d0" stroke-width="1.3"/>
<line x1="72.75" y1="321.03" x2="79.25" y2="319.28" stroke="#a0189a" stroke-width="1.5"/><line x1="79.25" y1="319.28" x2="85.75" y2="317.53" stroke="#a7adcb" stroke-width="1.5"/>
<line x1="73.75" y1="323.03" x2="76.5" y2="323.53" stroke="#a0189a" stroke-width="1.4"/><line x1="76.5" y1="323.53" x2="79.25" y2="324.03" stroke="#b2b8d2" stroke-width="1.4"/>
<line x1="79.25" y1="324.03" x2="91.25" y2="321.03" stroke="#afb5d0" stroke-width="1.4"/>
<line x1="85.75" y1="317.53" x2="91.25" y2="321.03" stroke="#a7adcb" stroke-width="1.2"/>
<line x1="85.75" y1="317.53" x2="93.5" y2="313.08" stroke="#a7adcb" stroke-width="1.3"/>
<line x1="91.25" y1="321.03" x2="99" y2="316.58" stroke="#afb5d0" stroke-width="1.3"/>
<line x1="80.5" y1="316.58" x2="87" y2="314.83" stroke="#a0189a" stroke-width="1.5"/><line x1="87" y1="314.83" x2="93.5" y2="313.08" stroke="#a7adcb" stroke-width="1.5"/>
<line x1="81.5" y1="318.58" x2="84.25" y2="319.08" stroke="#a0189a" stroke-width="1.4"/><line x1="84.25" y1="319.08" x2="87" y2="319.58" stroke="#b2b8d2" stroke-width="1.4"/>
<line x1="87" y1="319.58" x2="99" y2="316.58" stroke="#afb5d0" stroke-width="1.4"/>
<line x1="93.5" y1="313.08" x2="99" y2="316.58" stroke="#a7adcb" stroke-width="1.2"/>
<line x1="93.5" y1="313.08" x2="101.25" y2="308.63" stroke="#a7adcb" stroke-width="1.3"/>
<line x1="99" y1="316.58" x2="106.75" y2="312.13" stroke="#afb5d0" stroke-width="1.3"/>
<line x1="88.25" y1="312.13" x2="94.75" y2="310.38" stroke="#a0189a" stroke-width="1.5"/><line x1="94.75" y1="310.38" x2="101.25" y2="308.63" stroke="#a7adcb" stroke-width="1.5"/>
<line x1="89.25" y1="314.13" x2="92" y2="314.63" stroke="#a0189a" stroke-width="1.4"/><line x1="92" y1="314.63" x2="94.75" y2="315.13" stroke="#b2b8d2" stroke-width="1.4"/>
<circle cx="70.25" cy="326.43" r="2.5" fill="url(#gN2)"/>
<circle cx="63.75" cy="332.93" r="2.5" fill="url(#gN2)"/>
<circle cx="75.75" cy="329.93" r="2.5" fill="url(#gN2)"/>
<circle cx="78" cy="321.98" r="2.5" fill="url(#gN2)"/>
<circle cx="71.5" cy="328.48" r="2.5" fill="url(#gN2)"/>
<circle cx="83.5" cy="325.48" r="2.5" fill="url(#gN2)"/>
<circle cx="85.75" cy="317.53" r="2.5" fill="url(#gN2)"/>
<circle cx="79.25" cy="324.03" r="2.5" fill="url(#gN2)"/>
<circle cx="91.25" cy="321.03" r="2.5" fill="url(#gN2)"/>
<circle cx="93.5" cy="313.08" r="2.5" fill="url(#gN2)"/>
<circle cx="87" cy="319.58" r="2.5" fill="url(#gN2)"/>
<circle cx="99" cy="316.58" r="2.5" fill="url(#gN2)"/>
<circle cx="101.25" cy="308.63" r="2.5" fill="url(#gN2)"/>
<circle cx="94.75" cy="315.13" r="2.5" fill="url(#gN2)"/>
<line x1="69.75" y1="317.13" x2="72.25" y2="321.13" stroke="#a0189a" stroke-width="1.4"/><line x1="72.25" y1="321.13" x2="74.75" y2="325.13" stroke="#a7adcb" stroke-width="1.4"/>
<circle cx="74.75" cy="325.13" r="2.4" fill="url(#gN2)"/>
<line x1="77.5" y1="312.68" x2="80" y2="316.68" stroke="#a0189a" stroke-width="1.4"/><line x1="80" y1="316.68" x2="82.5" y2="320.68" stroke="#a7adcb" stroke-width="1.4"/>
<circle cx="82.5" cy="320.68" r="2.4" fill="url(#gN2)"/>
<line x1="85.25" y1="308.23" x2="87.75" y2="312.23" stroke="#a0189a" stroke-width="1.4"/><line x1="87.75" y1="312.23" x2="90.25" y2="316.23" stroke="#a7adcb" stroke-width="1.4"/>
<circle cx="90.25" cy="316.23" r="2.4" fill="url(#gN2)"/>
<line x1="93" y1="303.78" x2="95.5" y2="307.78" stroke="#a0189a" stroke-width="1.4"/><line x1="95.5" y1="307.78" x2="98" y2="311.78" stroke="#a7adcb" stroke-width="1.4"/>
<circle cx="98" cy="311.78" r="2.4" fill="url(#gN2)"/>
<line x1="100.75" y1="299.33" x2="103.25" y2="303.33" stroke="#a0189a" stroke-width="1.4"/><line x1="103.25" y1="303.33" x2="105.75" y2="307.33" stroke="#a7adcb" stroke-width="1.4"/>
<circle cx="105.75" cy="307.33" r="2.4" fill="url(#gN2)"/>
<line x1="69.75" y1="317.13" x2="71.65" y2="306.63" stroke="#a0189a" stroke-width="1.5"/><line x1="71.65" y1="306.63" x2="73.55" y2="296.13" stroke="#40c828" stroke-width="1.5"/>
<line x1="77.5" y1="312.68" x2="79.4" y2="302.18" stroke="#a0189a" stroke-width="1.5"/><line x1="79.4" y1="302.18" x2="81.3" y2="291.68" stroke="#40c828" stroke-width="1.5"/>
<line x1="85.25" y1="308.23" x2="87.15" y2="297.73" stroke="#a0189a" stroke-width="1.5"/><line x1="87.15" y1="297.73" x2="89.05" y2="287.23" stroke="#40c828" stroke-width="1.5"/>
<line x1="93" y1="303.78" x2="94.9" y2="293.28" stroke="#a0189a" stroke-width="1.5"/><line x1="94.9" y1="293.28" x2="96.8" y2="282.78" stroke="#40c828" stroke-width="1.5"/>
<line x1="100.75" y1="299.33" x2="102.65" y2="288.83" stroke="#a0189a" stroke-width="1.5"/><line x1="102.65" y1="288.83" x2="104.55" y2="278.33" stroke="#40c828" stroke-width="1.5"/>
<circle cx="73.55" cy="296.13" r="3.6" fill="url(#gCl)"/>
<circle cx="81.3" cy="291.68" r="3.6" fill="url(#gCl)"/>
<circle cx="89.05" cy="287.23" r="3.6" fill="url(#gCl)"/>
<circle cx="96.8" cy="282.78" r="3.6" fill="url(#gCl)"/>
<circle cx="104.55" cy="278.33" r="3.6" fill="url(#gCl)"/>
<circle cx="69.75" cy="317.13" r="5.7" fill="url(#gMn)"/>
<circle cx="77.5" cy="312.68" r="5.7" fill="url(#gMn)"/>
<circle cx="85.25" cy="308.23" r="5.7" fill="url(#gMn)"/>
<circle cx="93" cy="303.78" r="5.7" fill="url(#gMn)"/>
<circle cx="100.75" cy="299.33" r="5.7" fill="url(#gMn)"/>
<line x1="94" y1="331.86" x2="91.25" y2="326.21" stroke="#a0189a" stroke-width="1.5"/><line x1="91.25" y1="326.21" x2="88.5" y2="320.56" stroke="#a8aecb" stroke-width="1.5"/>
<line x1="101.75" y1="327.41" x2="99" y2="321.76" stroke="#a0189a" stroke-width="1.5"/><line x1="99" y1="321.76" x2="96.25" y2="316.11" stroke="#a8aecb" stroke-width="1.5"/>
<line x1="109.5" y1="322.96" x2="106.75" y2="317.31" stroke="#a0189a" stroke-width="1.5"/><line x1="106.75" y1="317.31" x2="104" y2="311.66" stroke="#a8aecb" stroke-width="1.5"/>
<line x1="117.25" y1="318.51" x2="114.5" y2="312.86" stroke="#a0189a" stroke-width="1.5"/><line x1="114.5" y1="312.86" x2="111.75" y2="307.21" stroke="#a8aecb" stroke-width="1.5"/>
<line x1="125" y1="314.06" x2="122.25" y2="308.41" stroke="#a0189a" stroke-width="1.5"/><line x1="122.25" y1="308.41" x2="119.5" y2="302.76" stroke="#a8aecb" stroke-width="1.5"/>
<line x1="94" y1="331.86" x2="92" y2="342.11" stroke="#a0189a" stroke-width="1.5"/><line x1="92" y1="342.11" x2="90" y2="352.36" stroke="#40c828" stroke-width="1.5"/>
<line x1="101.75" y1="327.41" x2="99.75" y2="337.66" stroke="#a0189a" stroke-width="1.5"/><line x1="99.75" y1="337.66" x2="97.75" y2="347.91" stroke="#40c828" stroke-width="1.5"/>
<line x1="109.5" y1="322.96" x2="107.5" y2="333.21" stroke="#a0189a" stroke-width="1.5"/><line x1="107.5" y1="333.21" x2="105.5" y2="343.46" stroke="#40c828" stroke-width="1.5"/>
<line x1="117.25" y1="318.51" x2="115.25" y2="328.76" stroke="#a0189a" stroke-width="1.5"/><line x1="115.25" y1="328.76" x2="113.25" y2="339.01" stroke="#40c828" stroke-width="1.5"/>
<line x1="125" y1="314.06" x2="123" y2="324.31" stroke="#a0189a" stroke-width="1.5"/><line x1="123" y1="324.31" x2="121" y2="334.56" stroke="#40c828" stroke-width="1.5"/>
<circle cx="88.5" cy="320.56" r="2.4" fill="url(#gF)"/>
<circle cx="96.25" cy="316.11" r="2.4" fill="url(#gF)"/>
<circle cx="104" cy="311.66" r="2.4" fill="url(#gF)"/>
<circle cx="111.75" cy="307.21" r="2.4" fill="url(#gF)"/>
<circle cx="119.5" cy="302.76" r="2.4" fill="url(#gF)"/>
<circle cx="94" cy="331.86" r="5.7" fill="url(#gMn)"/>
<circle cx="101.75" cy="327.41" r="5.7" fill="url(#gMn)"/>
<circle cx="109.5" cy="322.96" r="5.7" fill="url(#gMn)"/>
<circle cx="117.25" cy="318.51" r="5.7" fill="url(#gMn)"/>
<circle cx="125" cy="314.06" r="5.7" fill="url(#gMn)"/>
<circle cx="90" cy="352.36" r="3.6" fill="url(#gCl)"/>
<circle cx="97.75" cy="347.91" r="3.6" fill="url(#gCl)"/>
<circle cx="105.5" cy="343.46" r="3.6" fill="url(#gCl)"/>
<circle cx="113.25" cy="339.01" r="3.6" fill="url(#gCl)"/>
<circle cx="121" cy="334.56" r="3.6" fill="url(#gCl)"/>
<line x1="97" y1="330.86" x2="103.5" y2="329.11" stroke="#a0189a" stroke-width="1.5"/><line x1="103.5" y1="329.11" x2="110" y2="327.36" stroke="#a7adcb" stroke-width="1.5"/>
<line x1="98" y1="332.86" x2="100.75" y2="333.36" stroke="#a0189a" stroke-width="1.4"/><line x1="100.75" y1="333.36" x2="103.5" y2="333.86" stroke="#b2b8d2" stroke-width="1.4"/>
<line x1="103.5" y1="333.86" x2="115.5" y2="330.86" stroke="#afb5d0" stroke-width="1.4"/>
<line x1="110" y1="327.36" x2="115.5" y2="330.86" stroke="#a7adcb" stroke-width="1.2"/>
<line x1="110" y1="327.36" x2="117.75" y2="322.91" stroke="#a7adcb" stroke-width="1.3"/>
<line x1="115.5" y1="330.86" x2="123.25" y2="326.41" stroke="#afb5d0" stroke-width="1.3"/>
<line x1="104.75" y1="326.41" x2="111.25" y2="324.66" stroke="#a0189a" stroke-width="1.5"/><line x1="111.25" y1="324.66" x2="117.75" y2="322.91" stroke="#a7adcb" stroke-width="1.5"/>
<line x1="105.75" y1="328.41" x2="108.5" y2="328.91" stroke="#a0189a" stroke-width="1.4"/><line x1="108.5" y1="328.91" x2="111.25" y2="329.41" stroke="#b2b8d2" stroke-width="1.4"/>
<line x1="111.25" y1="329.41" x2="123.25" y2="326.41" stroke="#afb5d0" stroke-width="1.4"/>
<line x1="117.75" y1="322.91" x2="123.25" y2="326.41" stroke="#a7adcb" stroke-width="1.2"/>
<line x1="117.75" y1="322.91" x2="125.5" y2="318.46" stroke="#a7adcb" stroke-width="1.3"/>
<line x1="123.25" y1="326.41" x2="131" y2="321.96" stroke="#afb5d0" stroke-width="1.3"/>
<line x1="112.5" y1="321.96" x2="119" y2="320.21" stroke="#a0189a" stroke-width="1.5"/><line x1="119" y1="320.21" x2="125.5" y2="318.46" stroke="#a7adcb" stroke-width="1.5"/>
<line x1="113.5" y1="323.96" x2="116.25" y2="324.46" stroke="#a0189a" stroke-width="1.4"/><line x1="116.25" y1="324.46" x2="119" y2="324.96" stroke="#b2b8d2" stroke-width="1.4"/>
<line x1="119" y1="324.96" x2="131" y2="321.96" stroke="#afb5d0" stroke-width="1.4"/>
<line x1="125.5" y1="318.46" x2="131" y2="321.96" stroke="#a7adcb" stroke-width="1.2"/>
<line x1="125.5" y1="318.46" x2="133.25" y2="314.01" stroke="#a7adcb" stroke-width="1.3"/>
<line x1="131" y1="321.96" x2="138.75" y2="317.51" stroke="#afb5d0" stroke-width="1.3"/>
<line x1="120.25" y1="317.51" x2="126.75" y2="315.76" stroke="#a0189a" stroke-width="1.5"/><line x1="126.75" y1="315.76" x2="133.25" y2="314.01" stroke="#a7adcb" stroke-width="1.5"/>
<line x1="121.25" y1="319.51" x2="124" y2="320.01" stroke="#a0189a" stroke-width="1.4"/><line x1="124" y1="320.01" x2="126.75" y2="320.51" stroke="#b2b8d2" stroke-width="1.4"/>
<line x1="126.75" y1="320.51" x2="138.75" y2="317.51" stroke="#afb5d0" stroke-width="1.4"/>
<line x1="133.25" y1="314.01" x2="138.75" y2="317.51" stroke="#a7adcb" stroke-width="1.2"/>
<line x1="133.25" y1="314.01" x2="141" y2="309.56" stroke="#a7adcb" stroke-width="1.3"/>
<line x1="138.75" y1="317.51" x2="146.5" y2="313.06" stroke="#afb5d0" stroke-width="1.3"/>
<line x1="128" y1="313.06" x2="134.5" y2="311.31" stroke="#a0189a" stroke-width="1.5"/><line x1="134.5" y1="311.31" x2="141" y2="309.56" stroke="#a7adcb" stroke-width="1.5"/>
<line x1="129" y1="315.06" x2="131.75" y2="315.56" stroke="#a0189a" stroke-width="1.4"/><line x1="131.75" y1="315.56" x2="134.5" y2="316.06" stroke="#b2b8d2" stroke-width="1.4"/>
<circle cx="110" cy="327.36" r="2.5" fill="url(#gN2)"/>
<circle cx="103.5" cy="333.86" r="2.5" fill="url(#gN2)"/>
<circle cx="115.5" cy="330.86" r="2.5" fill="url(#gN2)"/>
<circle cx="117.75" cy="322.91" r="2.5" fill="url(#gN2)"/>
<circle cx="111.25" cy="329.41" r="2.5" fill="url(#gN2)"/>
<circle cx="123.25" cy="326.41" r="2.5" fill="url(#gN2)"/>
<circle cx="125.5" cy="318.46" r="2.5" fill="url(#gN2)"/>
<circle cx="119" cy="324.96" r="2.5" fill="url(#gN2)"/>
<circle cx="131" cy="321.96" r="2.5" fill="url(#gN2)"/>
<circle cx="133.25" cy="314.01" r="2.5" fill="url(#gN2)"/>
<circle cx="126.75" cy="320.51" r="2.5" fill="url(#gN2)"/>
<circle cx="138.75" cy="317.51" r="2.5" fill="url(#gN2)"/>
<circle cx="141" cy="309.56" r="2.5" fill="url(#gN2)"/>
<circle cx="134.5" cy="316.06" r="2.5" fill="url(#gN2)"/>
<line x1="109.5" y1="318.06" x2="112" y2="322.06" stroke="#a0189a" stroke-width="1.4"/><line x1="112" y1="322.06" x2="114.5" y2="326.06" stroke="#a7adcb" stroke-width="1.4"/>
<circle cx="114.5" cy="326.06" r="2.4" fill="url(#gN2)"/>
<line x1="117.25" y1="313.61" x2="119.75" y2="317.61" stroke="#a0189a" stroke-width="1.4"/><line x1="119.75" y1="317.61" x2="122.25" y2="321.61" stroke="#a7adcb" stroke-width="1.4"/>
<circle cx="122.25" cy="321.61" r="2.4" fill="url(#gN2)"/>
<line x1="125" y1="309.16" x2="127.5" y2="313.16" stroke="#a0189a" stroke-width="1.4"/><line x1="127.5" y1="313.16" x2="130" y2="317.16" stroke="#a7adcb" stroke-width="1.4"/>
<circle cx="130" cy="317.16" r="2.4" fill="url(#gN2)"/>
<line x1="132.75" y1="304.71" x2="135.25" y2="308.71" stroke="#a0189a" stroke-width="1.4"/><line x1="135.25" y1="308.71" x2="137.75" y2="312.71" stroke="#a7adcb" stroke-width="1.4"/>
<circle cx="137.75" cy="312.71" r="2.4" fill="url(#gN2)"/>
<line x1="140.5" y1="300.26" x2="143" y2="304.26" stroke="#a0189a" stroke-width="1.4"/><line x1="143" y1="304.26" x2="145.5" y2="308.26" stroke="#a7adcb" stroke-width="1.4"/>
<circle cx="145.5" cy="308.26" r="2.4" fill="url(#gN2)"/>
<line x1="109.5" y1="318.06" x2="111.4" y2="307.56" stroke="#a0189a" stroke-width="1.5"/><line x1="111.4" y1="307.56" x2="113.3" y2="297.06" stroke="#40c828" stroke-width="1.5"/>
<line x1="117.25" y1="313.61" x2="119.15" y2="303.11" stroke="#a0189a" stroke-width="1.5"/><line x1="119.15" y1="303.11" x2="121.05" y2="292.61" stroke="#40c828" stroke-width="1.5"/>
<line x1="125" y1="309.16" x2="126.9" y2="298.66" stroke="#a0189a" stroke-width="1.5"/><line x1="126.9" y1="298.66" x2="128.8" y2="288.16" stroke="#40c828" stroke-width="1.5"/>
<line x1="132.75" y1="304.71" x2="134.65" y2="294.21" stroke="#a0189a" stroke-width="1.5"/><line x1="134.65" y1="294.21" x2="136.55" y2="283.71" stroke="#40c828" stroke-width="1.5"/>
<line x1="140.5" y1="300.26" x2="142.4" y2="289.76" stroke="#a0189a" stroke-width="1.5"/><line x1="142.4" y1="289.76" x2="144.3" y2="279.26" stroke="#40c828" stroke-width="1.5"/>
<circle cx="113.3" cy="297.06" r="3.6" fill="url(#gCl)"/>
<circle cx="121.05" cy="292.61" r="3.6" fill="url(#gCl)"/>
<circle cx="128.8" cy="288.16" r="3.6" fill="url(#gCl)"/>
<circle cx="136.55" cy="283.71" r="3.6" fill="url(#gCl)"/>
<circle cx="144.3" cy="279.26" r="3.6" fill="url(#gCl)"/>
<circle cx="109.5" cy="318.06" r="5.7" fill="url(#gMn)"/>
<circle cx="117.25" cy="313.61" r="5.7" fill="url(#gMn)"/>
<circle cx="125" cy="309.16" r="5.7" fill="url(#gMn)"/>
<circle cx="132.75" cy="304.71" r="5.7" fill="url(#gMn)"/>
<circle cx="140.5" cy="300.26" r="5.7" fill="url(#gMn)"/>
<line x1="133.75" y1="332.79" x2="131" y2="327.14" stroke="#a0189a" stroke-width="1.5"/><line x1="131" y1="327.14" x2="128.25" y2="321.49" stroke="#a8aecb" stroke-width="1.5"/>
<line x1="141.5" y1="328.34" x2="138.75" y2="322.69" stroke="#a0189a" stroke-width="1.5"/><line x1="138.75" y1="322.69" x2="136" y2="317.04" stroke="#a8aecb" stroke-width="1.5"/>
<line x1="149.25" y1="323.89" x2="146.5" y2="318.24" stroke="#a0189a" stroke-width="1.5"/><line x1="146.5" y1="318.24" x2="143.75" y2="312.59" stroke="#a8aecb" stroke-width="1.5"/>
<line x1="157" y1="319.44" x2="154.25" y2="313.79" stroke="#a0189a" stroke-width="1.5"/><line x1="154.25" y1="313.79" x2="151.5" y2="308.14" stroke="#a8aecb" stroke-width="1.5"/>
<line x1="164.75" y1="314.99" x2="162" y2="309.34" stroke="#a0189a" stroke-width="1.5"/><line x1="162" y1="309.34" x2="159.25" y2="303.69" stroke="#a8aecb" stroke-width="1.5"/>
<line x1="133.75" y1="332.79" x2="131.75" y2="343.04" stroke="#a0189a" stroke-width="1.5"/><line x1="131.75" y1="343.04" x2="129.75" y2="353.29" stroke="#40c828" stroke-width="1.5"/>
<line x1="141.5" y1="328.34" x2="139.5" y2="338.59" stroke="#a0189a" stroke-width="1.5"/><line x1="139.5" y1="338.59" x2="137.5" y2="348.84" stroke="#40c828" stroke-width="1.5"/>
<line x1="149.25" y1="323.89" x2="147.25" y2="334.14" stroke="#a0189a" stroke-width="1.5"/><line x1="147.25" y1="334.14" x2="145.25" y2="344.39" stroke="#40c828" stroke-width="1.5"/>
<line x1="157" y1="319.44" x2="155" y2="329.69" stroke="#a0189a" stroke-width="1.5"/><line x1="155" y1="329.69" x2="153" y2="339.94" stroke="#40c828" stroke-width="1.5"/>
<line x1="164.75" y1="314.99" x2="162.75" y2="325.24" stroke="#a0189a" stroke-width="1.5"/><line x1="162.75" y1="325.24" x2="160.75" y2="335.49" stroke="#40c828" stroke-width="1.5"/>
<circle cx="128.25" cy="321.49" r="2.4" fill="url(#gF)"/>
<circle cx="136" cy="317.04" r="2.4" fill="url(#gF)"/>
<circle cx="143.75" cy="312.59" r="2.4" fill="url(#gF)"/>
<circle cx="151.5" cy="308.14" r="2.4" fill="url(#gF)"/>
<circle cx="159.25" cy="303.69" r="2.4" fill="url(#gF)"/>
<circle cx="133.75" cy="332.79" r="5.7" fill="url(#gMn)"/>
<circle cx="141.5" cy="328.34" r="5.7" fill="url(#gMn)"/>
<circle cx="149.25" cy="323.89" r="5.7" fill="url(#gMn)"/>
<circle cx="157" cy="319.44" r="5.7" fill="url(#gMn)"/>
<circle cx="164.75" cy="314.99" r="5.7" fill="url(#gMn)"/>
<circle cx="129.75" cy="353.29" r="3.6" fill="url(#gCl)"/>
<circle cx="137.5" cy="348.84" r="3.6" fill="url(#gCl)"/>
<circle cx="145.25" cy="344.39" r="3.6" fill="url(#gCl)"/>
<circle cx="153" cy="339.94" r="3.6" fill="url(#gCl)"/>
<circle cx="160.75" cy="335.49" r="3.6" fill="url(#gCl)"/>
<line x1="136.75" y1="331.79" x2="143.25" y2="330.04" stroke="#a0189a" stroke-width="1.5"/><line x1="143.25" y1="330.04" x2="149.75" y2="328.29" stroke="#a7adcb" stroke-width="1.5"/>
<line x1="137.75" y1="333.79" x2="140.5" y2="334.29" stroke="#a0189a" stroke-width="1.4"/><line x1="140.5" y1="334.29" x2="143.25" y2="334.79" stroke="#b2b8d2" stroke-width="1.4"/>
<line x1="143.25" y1="334.79" x2="155.25" y2="331.79" stroke="#afb5d0" stroke-width="1.4"/>
<line x1="149.75" y1="328.29" x2="155.25" y2="331.79" stroke="#a7adcb" stroke-width="1.2"/>
<line x1="149.75" y1="328.29" x2="157.5" y2="323.84" stroke="#a7adcb" stroke-width="1.3"/>
<line x1="155.25" y1="331.79" x2="163" y2="327.34" stroke="#afb5d0" stroke-width="1.3"/>
<line x1="144.5" y1="327.34" x2="151" y2="325.59" stroke="#a0189a" stroke-width="1.5"/><line x1="151" y1="325.59" x2="157.5" y2="323.84" stroke="#a7adcb" stroke-width="1.5"/>
<line x1="145.5" y1="329.34" x2="148.25" y2="329.84" stroke="#a0189a" stroke-width="1.4"/><line x1="148.25" y1="329.84" x2="151" y2="330.34" stroke="#b2b8d2" stroke-width="1.4"/>
<line x1="151" y1="330.34" x2="163" y2="327.34" stroke="#afb5d0" stroke-width="1.4"/>
<line x1="157.5" y1="323.84" x2="163" y2="327.34" stroke="#a7adcb" stroke-width="1.2"/>
<line x1="157.5" y1="323.84" x2="165.25" y2="319.39" stroke="#a7adcb" stroke-width="1.3"/>
<line x1="163" y1="327.34" x2="170.75" y2="322.89" stroke="#afb5d0" stroke-width="1.3"/>
<line x1="152.25" y1="322.89" x2="158.75" y2="321.14" stroke="#a0189a" stroke-width="1.5"/><line x1="158.75" y1="321.14" x2="165.25" y2="319.39" stroke="#a7adcb" stroke-width="1.5"/>
<line x1="153.25" y1="324.89" x2="156" y2="325.39" stroke="#a0189a" stroke-width="1.4"/><line x1="156" y1="325.39" x2="158.75" y2="325.89" stroke="#b2b8d2" stroke-width="1.4"/>
<line x1="158.75" y1="325.89" x2="170.75" y2="322.89" stroke="#afb5d0" stroke-width="1.4"/>
<line x1="165.25" y1="319.39" x2="170.75" y2="322.89" stroke="#a7adcb" stroke-width="1.2"/>
<line x1="165.25" y1="319.39" x2="173" y2="314.94" stroke="#a7adcb" stroke-width="1.3"/>
<line x1="170.75" y1="322.89" x2="178.5" y2="318.44" stroke="#afb5d0" stroke-width="1.3"/>
<line x1="160" y1="318.44" x2="166.5" y2="316.69" stroke="#a0189a" stroke-width="1.5"/><line x1="166.5" y1="316.69" x2="173" y2="314.94" stroke="#a7adcb" stroke-width="1.5"/>
<line x1="161" y1="320.44" x2="163.75" y2="320.94" stroke="#a0189a" stroke-width="1.4"/><line x1="163.75" y1="320.94" x2="166.5" y2="321.44" stroke="#b2b8d2" stroke-width="1.4"/>
<line x1="166.5" y1="321.44" x2="178.5" y2="318.44" stroke="#afb5d0" stroke-width="1.4"/>
<line x1="173" y1="314.94" x2="178.5" y2="318.44" stroke="#a7adcb" stroke-width="1.2"/>
<line x1="173" y1="314.94" x2="180.75" y2="310.49" stroke="#a7adcb" stroke-width="1.3"/>
<line x1="178.5" y1="318.44" x2="186.25" y2="313.99" stroke="#afb5d0" stroke-width="1.3"/>
<line x1="167.75" y1="313.99" x2="174.25" y2="312.24" stroke="#a0189a" stroke-width="1.5"/><line x1="174.25" y1="312.24" x2="180.75" y2="310.49" stroke="#a7adcb" stroke-width="1.5"/>
<line x1="168.75" y1="315.99" x2="171.5" y2="316.49" stroke="#a0189a" stroke-width="1.4"/><line x1="171.5" y1="316.49" x2="174.25" y2="316.99" stroke="#b2b8d2" stroke-width="1.4"/>
<circle cx="149.75" cy="328.29" r="2.5" fill="url(#gN2)"/>
<circle cx="143.25" cy="334.79" r="2.5" fill="url(#gN2)"/>
<circle cx="155.25" cy="331.79" r="2.5" fill="url(#gN2)"/>
<circle cx="157.5" cy="323.84" r="2.5" fill="url(#gN2)"/>
<circle cx="151" cy="330.34" r="2.5" fill="url(#gN2)"/>
<circle cx="163" cy="327.34" r="2.5" fill="url(#gN2)"/>
<circle cx="165.25" cy="319.39" r="2.5" fill="url(#gN2)"/>
<circle cx="158.75" cy="325.89" r="2.5" fill="url(#gN2)"/>
<circle cx="170.75" cy="322.89" r="2.5" fill="url(#gN2)"/>
<circle cx="173" cy="314.94" r="2.5" fill="url(#gN2)"/>
<circle cx="166.5" cy="321.44" r="2.5" fill="url(#gN2)"/>
<circle cx="178.5" cy="318.44" r="2.5" fill="url(#gN2)"/>
<circle cx="180.75" cy="310.49" r="2.5" fill="url(#gN2)"/>
<circle cx="174.25" cy="316.99" r="2.5" fill="url(#gN2)"/>
<line x1="149.25" y1="318.99" x2="151.75" y2="322.99" stroke="#a0189a" stroke-width="1.4"/><line x1="151.75" y1="322.99" x2="154.25" y2="326.99" stroke="#a7adcb" stroke-width="1.4"/>
<circle cx="154.25" cy="326.99" r="2.4" fill="url(#gN2)"/>
<line x1="157" y1="314.54" x2="159.5" y2="318.54" stroke="#a0189a" stroke-width="1.4"/><line x1="159.5" y1="318.54" x2="162" y2="322.54" stroke="#a7adcb" stroke-width="1.4"/>
<circle cx="162" cy="322.54" r="2.4" fill="url(#gN2)"/>
<line x1="164.75" y1="310.09" x2="167.25" y2="314.09" stroke="#a0189a" stroke-width="1.4"/><line x1="167.25" y1="314.09" x2="169.75" y2="318.09" stroke="#a7adcb" stroke-width="1.4"/>
<circle cx="169.75" cy="318.09" r="2.4" fill="url(#gN2)"/>
<line x1="172.5" y1="305.64" x2="175" y2="309.64" stroke="#a0189a" stroke-width="1.4"/><line x1="175" y1="309.64" x2="177.5" y2="313.64" stroke="#a7adcb" stroke-width="1.4"/>
<circle cx="177.5" cy="313.64" r="2.4" fill="url(#gN2)"/>
<line x1="180.25" y1="301.19" x2="182.75" y2="305.19" stroke="#a0189a" stroke-width="1.4"/><line x1="182.75" y1="305.19" x2="185.25" y2="309.19" stroke="#a7adcb" stroke-width="1.4"/>
<circle cx="185.25" cy="309.19" r="2.4" fill="url(#gN2)"/>
<line x1="149.25" y1="318.99" x2="151.15" y2="308.49" stroke="#a0189a" stroke-width="1.5"/><line x1="151.15" y1="308.49" x2="153.05" y2="297.99" stroke="#40c828" stroke-width="1.5"/>
<line x1="157" y1="314.54" x2="158.9" y2="304.04" stroke="#a0189a" stroke-width="1.5"/><line x1="158.9" y1="304.04" x2="160.8" y2="293.54" stroke="#40c828" stroke-width="1.5"/>
<line x1="164.75" y1="310.09" x2="166.65" y2="299.59" stroke="#a0189a" stroke-width="1.5"/><line x1="166.65" y1="299.59" x2="168.55" y2="289.09" stroke="#40c828" stroke-width="1.5"/>
<line x1="172.5" y1="305.64" x2="174.4" y2="295.14" stroke="#a0189a" stroke-width="1.5"/><line x1="174.4" y1="295.14" x2="176.3" y2="284.64" stroke="#40c828" stroke-width="1.5"/>
<line x1="180.25" y1="301.19" x2="182.15" y2="290.69" stroke="#a0189a" stroke-width="1.5"/><line x1="182.15" y1="290.69" x2="184.05" y2="280.19" stroke="#40c828" stroke-width="1.5"/>
<circle cx="153.05" cy="297.99" r="3.6" fill="url(#gCl)"/>
<circle cx="160.8" cy="293.54" r="3.6" fill="url(#gCl)"/>
<circle cx="168.55" cy="289.09" r="3.6" fill="url(#gCl)"/>
<circle cx="176.3" cy="284.64" r="3.6" fill="url(#gCl)"/>
<circle cx="184.05" cy="280.19" r="3.6" fill="url(#gCl)"/>
<circle cx="149.25" cy="318.99" r="5.7" fill="url(#gMn)"/>
<circle cx="157" cy="314.54" r="5.7" fill="url(#gMn)"/>
<circle cx="164.75" cy="310.09" r="5.7" fill="url(#gMn)"/>
<circle cx="172.5" cy="305.64" r="5.7" fill="url(#gMn)"/>
<circle cx="180.25" cy="301.19" r="5.7" fill="url(#gMn)"/>
<g stroke="#111" stroke-width="0.9" fill="#111">
<line x1="200.5" y1="259.5" x2="200.5" y2="241"/><path d="M200.5,237.8l-1.9,4.2h3.8z" stroke="none"/>
<line x1="200.5" y1="259.5" x2="208.3" y2="254"/><path d="M210.8,252.3l-4.5,0.1l2.1,3.4z" stroke="none"/>
<line x1="200.5" y1="259.5" x2="188.5" y2="259.5"/><path d="M185.4,259.5l3.9,-1.9v3.8z" stroke="none"/>
</g>
<g font-size="8.5" font-style="italic"><text x="199.4" y="234.2">z</text><text x="212.4" y="252.2">x</text><text x="184.8" y="266.4">y</text></g>
<circle cx="199.3" cy="306.3" r="6.1" fill="url(#gMn)"/>
<circle cx="199.3" cy="321.3" r="4.0" fill="url(#gN)"/>
<circle cx="199.3" cy="334.5" r="3.5" fill="url(#gF)"/>
<circle cx="199.3" cy="347.2" r="4.4" fill="url(#gCl)"/>
<g font-size="11.5"><text x="209.8" y="310.3">Mn</text><text x="210" y="325.3">N</text><text x="210" y="338.5">F</text><text x="209.8" y="351.2">Cl</text></g>
</svg></body></html>
